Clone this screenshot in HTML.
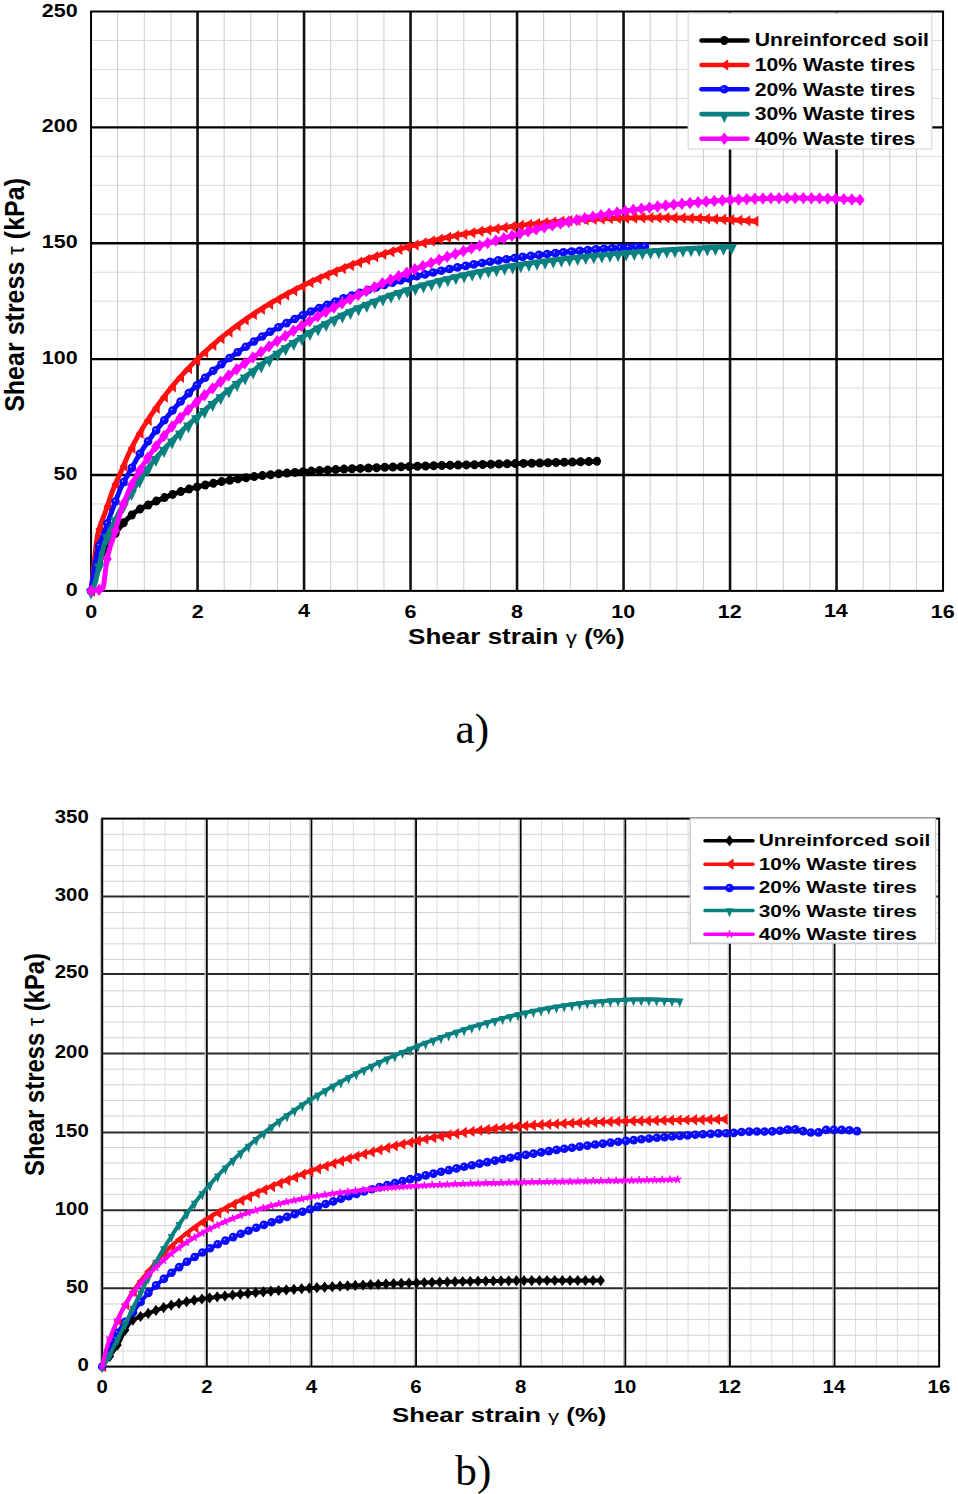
<!DOCTYPE html>
<html><head><meta charset="utf-8"><style>html,body{margin:0;padding:0;background:#fff;}svg{display:block;}</style></head>
<body><svg width="958" height="1494" viewBox="0 0 958 1494">
<rect width="958" height="1494" fill="#fff"/>
<line x1="117.67" y1="11.50" x2="117.67" y2="590.90" stroke="#cdcdcd" stroke-width="1"/>
<line x1="144.30" y1="11.50" x2="144.30" y2="590.90" stroke="#cdcdcd" stroke-width="1"/>
<line x1="170.93" y1="11.50" x2="170.93" y2="590.90" stroke="#cdcdcd" stroke-width="1"/>
<line x1="224.18" y1="11.50" x2="224.18" y2="590.90" stroke="#cdcdcd" stroke-width="1"/>
<line x1="250.80" y1="11.50" x2="250.80" y2="590.90" stroke="#cdcdcd" stroke-width="1"/>
<line x1="277.43" y1="11.50" x2="277.43" y2="590.90" stroke="#cdcdcd" stroke-width="1"/>
<line x1="330.68" y1="11.50" x2="330.68" y2="590.90" stroke="#cdcdcd" stroke-width="1"/>
<line x1="357.30" y1="11.50" x2="357.30" y2="590.90" stroke="#cdcdcd" stroke-width="1"/>
<line x1="383.93" y1="11.50" x2="383.93" y2="590.90" stroke="#cdcdcd" stroke-width="1"/>
<line x1="437.18" y1="11.50" x2="437.18" y2="590.90" stroke="#cdcdcd" stroke-width="1"/>
<line x1="463.80" y1="11.50" x2="463.80" y2="590.90" stroke="#cdcdcd" stroke-width="1"/>
<line x1="490.43" y1="11.50" x2="490.43" y2="590.90" stroke="#cdcdcd" stroke-width="1"/>
<line x1="543.67" y1="11.50" x2="543.67" y2="590.90" stroke="#cdcdcd" stroke-width="1"/>
<line x1="570.30" y1="11.50" x2="570.30" y2="590.90" stroke="#cdcdcd" stroke-width="1"/>
<line x1="596.92" y1="11.50" x2="596.92" y2="590.90" stroke="#cdcdcd" stroke-width="1"/>
<line x1="650.17" y1="11.50" x2="650.17" y2="590.90" stroke="#cdcdcd" stroke-width="1"/>
<line x1="676.80" y1="11.50" x2="676.80" y2="590.90" stroke="#cdcdcd" stroke-width="1"/>
<line x1="703.42" y1="11.50" x2="703.42" y2="590.90" stroke="#cdcdcd" stroke-width="1"/>
<line x1="756.67" y1="11.50" x2="756.67" y2="590.90" stroke="#cdcdcd" stroke-width="1"/>
<line x1="783.30" y1="11.50" x2="783.30" y2="590.90" stroke="#cdcdcd" stroke-width="1"/>
<line x1="809.92" y1="11.50" x2="809.92" y2="590.90" stroke="#cdcdcd" stroke-width="1"/>
<line x1="863.17" y1="11.50" x2="863.17" y2="590.90" stroke="#cdcdcd" stroke-width="1"/>
<line x1="889.80" y1="11.50" x2="889.80" y2="590.90" stroke="#cdcdcd" stroke-width="1"/>
<line x1="916.42" y1="11.50" x2="916.42" y2="590.90" stroke="#cdcdcd" stroke-width="1"/>
<line x1="91.05" y1="561.93" x2="943.05" y2="561.93" stroke="#dadada" stroke-width="1"/>
<line x1="91.05" y1="532.96" x2="943.05" y2="532.96" stroke="#dadada" stroke-width="1"/>
<line x1="91.05" y1="503.99" x2="943.05" y2="503.99" stroke="#dadada" stroke-width="1"/>
<line x1="91.05" y1="446.05" x2="943.05" y2="446.05" stroke="#dadada" stroke-width="1"/>
<line x1="91.05" y1="417.08" x2="943.05" y2="417.08" stroke="#dadada" stroke-width="1"/>
<line x1="91.05" y1="388.11" x2="943.05" y2="388.11" stroke="#dadada" stroke-width="1"/>
<line x1="91.05" y1="330.17" x2="943.05" y2="330.17" stroke="#dadada" stroke-width="1"/>
<line x1="91.05" y1="301.20" x2="943.05" y2="301.20" stroke="#dadada" stroke-width="1"/>
<line x1="91.05" y1="272.23" x2="943.05" y2="272.23" stroke="#dadada" stroke-width="1"/>
<line x1="91.05" y1="214.29" x2="943.05" y2="214.29" stroke="#dadada" stroke-width="1"/>
<line x1="91.05" y1="185.32" x2="943.05" y2="185.32" stroke="#dadada" stroke-width="1"/>
<line x1="91.05" y1="156.35" x2="943.05" y2="156.35" stroke="#dadada" stroke-width="1"/>
<line x1="91.05" y1="98.41" x2="943.05" y2="98.41" stroke="#dadada" stroke-width="1"/>
<line x1="91.05" y1="69.44" x2="943.05" y2="69.44" stroke="#dadada" stroke-width="1"/>
<line x1="91.05" y1="40.47" x2="943.05" y2="40.47" stroke="#dadada" stroke-width="1"/>
<line x1="197.55" y1="11.50" x2="197.55" y2="590.90" stroke="#111" stroke-width="2.6"/>
<line x1="304.05" y1="11.50" x2="304.05" y2="590.90" stroke="#111" stroke-width="2.6"/>
<line x1="410.55" y1="11.50" x2="410.55" y2="590.90" stroke="#111" stroke-width="2.6"/>
<line x1="517.05" y1="11.50" x2="517.05" y2="590.90" stroke="#111" stroke-width="2.6"/>
<line x1="623.55" y1="11.50" x2="623.55" y2="590.90" stroke="#111" stroke-width="2.6"/>
<line x1="730.05" y1="11.50" x2="730.05" y2="590.90" stroke="#111" stroke-width="2.6"/>
<line x1="836.55" y1="11.50" x2="836.55" y2="590.90" stroke="#111" stroke-width="2.6"/>
<line x1="91.05" y1="475.02" x2="943.05" y2="475.02" stroke="#000" stroke-width="2.4"/>
<line x1="91.05" y1="359.14" x2="943.05" y2="359.14" stroke="#000" stroke-width="2.4"/>
<line x1="91.05" y1="243.26" x2="943.05" y2="243.26" stroke="#000" stroke-width="2.4"/>
<line x1="91.05" y1="127.38" x2="943.05" y2="127.38" stroke="#000" stroke-width="2.4"/>
<rect x="91.05" y="11.50" width="852.00" height="579.40" fill="none" stroke="#000" stroke-width="2"/>
<rect x="688.2" y="13.2" width="243.6" height="135.8" fill="#fff" stroke="#dadae2" stroke-width="1.2"/>
<polyline points="91.0,590.9 92.1,586.1 93.2,581.7 94.2,577.5 95.3,573.6 96.4,570.0 97.4,566.8 98.5,563.9 99.6,561.1 100.6,558.6 101.7,556.1 102.8,553.8 103.8,551.6 104.9,549.5 106.0,547.6 107.0,545.7 108.1,544.0 109.2,542.3 110.2,540.8 111.3,539.3 112.3,537.8 113.4,536.3 114.5,534.9 115.5,533.4 116.6,531.9 117.7,530.5 118.7,529.0 119.8,527.6 120.9,526.2 121.9,524.9 123.0,523.5 124.1,522.3 125.1,521.2 126.2,520.1 127.3,519.1 128.3,518.1 129.4,517.1 130.5,516.2 131.5,515.3 132.6,514.4 133.7,513.5 134.7,512.6 135.8,511.8 136.8,511.0 137.9,510.3 139.0,509.7 140.0,509.1 141.1,508.5 142.2,508.0 143.2,507.4 144.3,506.9 145.4,506.4 146.4,505.9 147.5,505.3 148.6,504.8 149.6,504.2 150.7,503.7 151.8,503.2 152.8,502.7 153.9,502.2 154.9,501.7 156.0,501.2 157.1,500.8 158.1,500.3 159.2,499.9 160.3,499.4 161.3,498.9 162.4,498.5 163.5,498.0 164.5,497.6 165.6,497.1 166.7,496.7 167.7,496.3 168.8,495.9 169.9,495.4 170.9,495.0 172.0,494.6 173.1,494.3 174.1,493.9 175.2,493.5 176.2,493.1 177.3,492.8 178.4,492.4 179.4,492.1 180.5,491.7 181.6,491.4 182.6,491.0 183.7,490.7 184.8,490.4 185.8,490.1 186.9,489.7 188.0,489.4 189.0,489.1 190.1,488.8 191.2,488.5 192.2,488.2 193.3,487.9 194.4,487.7 195.4,487.4 196.5,487.1 197.6,486.8 198.6,486.6 199.7,486.3 200.7,486.0 201.8,485.8 202.9,485.5 203.9,485.3 205.0,485.0 206.1,484.8 207.1,484.6 208.2,484.3 209.3,484.1 210.3,483.9 211.4,483.6 212.5,483.4 213.5,483.2 214.6,483.0 215.7,482.8 216.7,482.6 217.8,482.3 218.8,482.1 219.9,481.9 221.0,481.7 222.0,481.5 223.1,481.3 224.2,481.1 225.2,481.0 226.3,480.8 227.4,480.6 228.4,480.4 229.5,480.2 230.6,480.0 231.6,479.9 232.7,479.7 233.8,479.5 234.8,479.3 235.9,479.2 237.0,479.0 238.0,478.9 239.1,478.7 240.2,478.5 241.2,478.4 242.3,478.2 243.3,478.1 244.4,477.9 245.5,477.8 246.5,477.6 247.6,477.5 248.7,477.3 249.7,477.2 250.8,477.0 251.9,476.9 252.9,476.8 254.0,476.6 255.1,476.5 256.1,476.3 257.2,476.2 258.3,476.1 259.3,476.0 260.4,475.8 261.4,475.7 262.5,475.6 263.6,475.5 264.6,475.3 265.7,475.2 266.8,475.1 267.8,475.0 268.9,474.9 270.0,474.7 271.0,474.6 272.1,474.5 273.2,474.4 274.2,474.3 275.3,474.2 276.4,474.1 277.4,474.0 278.5,473.9 279.6,473.8 280.6,473.7 281.7,473.6 282.8,473.5 283.8,473.4 284.9,473.3 285.9,473.2 287.0,473.1 288.1,473.0 289.1,472.9 290.2,472.8 291.3,472.7 292.3,472.6 293.4,472.5 294.5,472.4 295.5,472.3 296.6,472.2 297.7,472.2 298.7,472.1 299.8,472.0 300.9,471.9 301.9,471.8 303.0,471.7 304.1,471.7 305.1,471.6 306.2,471.5 307.2,471.4 308.3,471.3 309.4,471.3 310.4,471.2 311.5,471.1 312.6,471.0 313.6,471.0 314.7,470.9 315.8,470.8 316.8,470.7 317.9,470.7 319.0,470.6 320.0,470.5 321.1,470.5 322.2,470.4 323.2,470.3 324.3,470.3 325.4,470.2 326.4,470.1 327.5,470.1 328.5,470.0 329.6,469.9 330.7,469.9 331.7,469.8 332.8,469.8 333.9,469.7 334.9,469.6 336.0,469.6 337.1,469.5 338.1,469.5 339.2,469.4 340.3,469.3 341.3,469.3 342.4,469.2 343.5,469.2 344.5,469.1 345.6,469.1 346.6,469.0 347.7,469.0 348.8,468.9 349.8,468.8 350.9,468.8 352.0,468.7 353.0,468.7 354.1,468.6 355.2,468.6 356.2,468.5 357.3,468.5 358.4,468.4 359.4,468.4 360.5,468.3 361.6,468.3 362.6,468.2 363.7,468.2 364.8,468.2 365.8,468.1 366.9,468.1 368.0,468.0 369.0,468.0 370.1,467.9 371.1,467.9 372.2,467.8 373.3,467.8 374.3,467.7 375.4,467.7 376.5,467.7 377.5,467.6 378.6,467.6 379.7,467.5 380.7,467.5 381.8,467.5 382.9,467.4 383.9,467.4 385.0,467.3 386.1,467.3 387.1,467.3 388.2,467.2 389.3,467.2 390.3,467.1 391.4,467.1 392.4,467.1 393.5,467.0 394.6,467.0 395.6,466.9 396.7,466.9 397.8,466.9 398.8,466.8 399.9,466.8 401.0,466.8 402.0,466.7 403.1,466.7 404.2,466.7 405.2,466.6 406.3,466.6 407.4,466.6 408.4,466.5 409.5,466.5 410.6,466.5 411.6,466.4 412.7,466.4 413.7,466.3 414.8,466.3 415.9,466.3 416.9,466.2 418.0,466.2 419.1,466.2 420.1,466.2 421.2,466.1 422.3,466.1 423.3,466.1 424.4,466.0 425.5,466.0 426.5,466.0 427.6,465.9 428.7,465.9 429.7,465.9 430.8,465.8 431.9,465.8 432.9,465.8 434.0,465.7 435.0,465.7 436.1,465.7 437.2,465.7 438.2,465.6 439.3,465.6 440.4,465.6 441.4,465.5 442.5,465.5 443.6,465.5 444.6,465.4 445.7,465.4 446.8,465.4 447.8,465.4 448.9,465.3 450.0,465.3 451.0,465.3 452.1,465.2 453.1,465.2 454.2,465.2 455.3,465.2 456.3,465.1 457.4,465.1 458.5,465.1 459.5,465.0 460.6,465.0 461.7,465.0 462.7,465.0 463.8,464.9 464.9,464.9 465.9,464.9 467.0,464.9 468.1,464.8 469.1,464.8 470.2,464.8 471.3,464.7 472.3,464.7 473.4,464.7 474.5,464.7 475.5,464.6 476.6,464.6 477.6,464.6 478.7,464.6 479.8,464.5 480.8,464.5 481.9,464.5 483.0,464.4 484.0,464.4 485.1,464.4 486.2,464.4 487.2,464.3 488.3,464.3 489.4,464.3 490.4,464.3 491.5,464.2 492.6,464.2 493.6,464.2 494.7,464.1 495.8,464.1 496.8,464.1 497.9,464.1 498.9,464.0 500.0,464.0 501.1,464.0 502.1,464.0 503.2,463.9 504.3,463.9 505.3,463.9 506.4,463.9 507.5,463.8 508.5,463.8 509.6,463.8 510.7,463.7 511.7,463.7 512.8,463.7 513.9,463.7 514.9,463.6 516.0,463.6 517.0,463.6 518.1,463.6 519.2,463.5 520.2,463.5 521.3,463.5 522.4,463.4 523.4,463.4 524.5,463.4 525.6,463.4 526.6,463.3 527.7,463.3 528.8,463.3 529.8,463.2 530.9,463.2 532.0,463.2 533.0,463.2 534.1,463.1 535.2,463.1 536.2,463.1 537.3,463.1 538.4,463.0 539.4,463.0 540.5,463.0 541.5,462.9 542.6,462.9 543.7,462.9 544.7,462.9 545.8,462.8 546.9,462.8 547.9,462.8 549.0,462.7 550.1,462.7 551.1,462.7 552.2,462.6 553.3,462.6 554.3,462.6 555.4,462.6 556.5,462.5 557.5,462.5 558.6,462.5 559.6,462.4 560.7,462.4 561.8,462.4 562.8,462.4 563.9,462.3 565.0,462.3 566.0,462.3 567.1,462.2 568.2,462.2 569.2,462.2 570.3,462.1 571.4,462.1 572.4,462.1 573.5,462.0 574.6,462.0 575.6,462.0 576.7,461.9 577.8,461.9 578.8,461.9 579.9,461.9 581.0,461.8 582.0,461.8 583.1,461.8 584.1,461.7 585.2,461.7 586.3,461.7 587.3,461.6 588.4,461.6 589.5,461.6 590.5,461.5 591.6,461.5 592.7,461.5 593.7,461.4 594.8,461.4 595.9,461.4 596.9,461.3" fill="none" stroke="#000000" stroke-width="5.0" stroke-linejoin="round" stroke-linecap="round"/>
<g fill="#000000">
<ellipse cx="91.0" cy="590.9" rx="4.10" ry="4.50"/>
<ellipse cx="99.2" cy="562.1" rx="4.10" ry="4.50"/>
<ellipse cx="107.4" cy="545.1" rx="4.10" ry="4.50"/>
<ellipse cx="115.5" cy="533.4" rx="4.10" ry="4.50"/>
<ellipse cx="123.7" cy="522.8" rx="4.10" ry="4.50"/>
<ellipse cx="131.8" cy="515.0" rx="4.10" ry="4.50"/>
<ellipse cx="140.0" cy="509.1" rx="4.10" ry="4.50"/>
<ellipse cx="148.2" cy="505.0" rx="4.10" ry="4.50"/>
<ellipse cx="156.3" cy="501.1" rx="4.10" ry="4.50"/>
<ellipse cx="164.5" cy="497.6" rx="4.10" ry="4.50"/>
<ellipse cx="172.6" cy="494.4" rx="4.10" ry="4.50"/>
<ellipse cx="180.8" cy="491.6" rx="4.10" ry="4.50"/>
<ellipse cx="189.0" cy="489.1" rx="4.10" ry="4.50"/>
<ellipse cx="197.1" cy="486.9" rx="4.10" ry="4.50"/>
<ellipse cx="205.3" cy="485.0" rx="4.10" ry="4.50"/>
<ellipse cx="213.4" cy="483.2" rx="4.10" ry="4.50"/>
<ellipse cx="221.6" cy="481.6" rx="4.10" ry="4.50"/>
<ellipse cx="229.8" cy="480.2" rx="4.10" ry="4.50"/>
<ellipse cx="237.9" cy="478.9" rx="4.10" ry="4.50"/>
<ellipse cx="246.1" cy="477.7" rx="4.10" ry="4.50"/>
<ellipse cx="254.2" cy="476.6" rx="4.10" ry="4.50"/>
<ellipse cx="262.4" cy="475.6" rx="4.10" ry="4.50"/>
<ellipse cx="270.6" cy="474.7" rx="4.10" ry="4.50"/>
<ellipse cx="278.7" cy="473.8" rx="4.10" ry="4.50"/>
<ellipse cx="286.9" cy="473.1" rx="4.10" ry="4.50"/>
<ellipse cx="295.0" cy="472.4" rx="4.10" ry="4.50"/>
<ellipse cx="303.2" cy="471.7" rx="4.10" ry="4.50"/>
<ellipse cx="311.4" cy="471.1" rx="4.10" ry="4.50"/>
<ellipse cx="319.5" cy="470.6" rx="4.10" ry="4.50"/>
<ellipse cx="327.7" cy="470.1" rx="4.10" ry="4.50"/>
<ellipse cx="335.8" cy="469.6" rx="4.10" ry="4.50"/>
<ellipse cx="344.0" cy="469.1" rx="4.10" ry="4.50"/>
<ellipse cx="352.1" cy="468.7" rx="4.10" ry="4.50"/>
<ellipse cx="360.3" cy="468.4" rx="4.10" ry="4.50"/>
<ellipse cx="368.5" cy="468.0" rx="4.10" ry="4.50"/>
<ellipse cx="376.6" cy="467.7" rx="4.10" ry="4.50"/>
<ellipse cx="384.8" cy="467.3" rx="4.10" ry="4.50"/>
<ellipse cx="392.9" cy="467.0" rx="4.10" ry="4.50"/>
<ellipse cx="401.1" cy="466.8" rx="4.10" ry="4.50"/>
<ellipse cx="409.3" cy="466.5" rx="4.10" ry="4.50"/>
<ellipse cx="417.4" cy="466.2" rx="4.10" ry="4.50"/>
<ellipse cx="425.6" cy="466.0" rx="4.10" ry="4.50"/>
<ellipse cx="433.7" cy="465.8" rx="4.10" ry="4.50"/>
<ellipse cx="441.9" cy="465.5" rx="4.10" ry="4.50"/>
<ellipse cx="450.1" cy="465.3" rx="4.10" ry="4.50"/>
<ellipse cx="458.2" cy="465.1" rx="4.10" ry="4.50"/>
<ellipse cx="466.4" cy="464.9" rx="4.10" ry="4.50"/>
<ellipse cx="474.5" cy="464.7" rx="4.10" ry="4.50"/>
<ellipse cx="482.7" cy="464.5" rx="4.10" ry="4.50"/>
<ellipse cx="490.9" cy="464.2" rx="4.10" ry="4.50"/>
<ellipse cx="499.0" cy="464.0" rx="4.10" ry="4.50"/>
<ellipse cx="507.2" cy="463.8" rx="4.10" ry="4.50"/>
<ellipse cx="515.3" cy="463.6" rx="4.10" ry="4.50"/>
<ellipse cx="523.5" cy="463.4" rx="4.10" ry="4.50"/>
<ellipse cx="531.7" cy="463.2" rx="4.10" ry="4.50"/>
<ellipse cx="539.8" cy="463.0" rx="4.10" ry="4.50"/>
<ellipse cx="548.0" cy="462.8" rx="4.10" ry="4.50"/>
<ellipse cx="556.1" cy="462.5" rx="4.10" ry="4.50"/>
<ellipse cx="564.3" cy="462.3" rx="4.10" ry="4.50"/>
<ellipse cx="572.4" cy="462.1" rx="4.10" ry="4.50"/>
<ellipse cx="580.6" cy="461.8" rx="4.10" ry="4.50"/>
<ellipse cx="588.8" cy="461.6" rx="4.10" ry="4.50"/>
<ellipse cx="596.9" cy="461.3" rx="4.10" ry="4.50"/>
</g>
<polyline points="91.0,590.9 92.1,581.7 93.2,572.4 94.2,563.1 95.3,552.7 96.4,542.6 97.4,536.0 98.5,531.4 99.6,527.6 100.6,524.3 101.7,521.4 102.8,518.7 103.8,516.1 104.9,513.2 106.0,510.1 107.0,506.9 108.1,503.7 109.2,500.6 110.2,497.4 111.3,494.4 112.3,491.5 113.4,488.6 114.5,486.0 115.5,483.5 116.6,481.2 117.7,478.9 118.7,476.6 119.8,474.4 120.9,472.0 121.9,469.6 123.0,467.1 124.1,464.5 125.1,462.0 126.2,459.5 127.3,457.0 128.3,454.6 129.4,452.4 130.5,450.2 131.5,448.1 132.6,446.0 133.7,443.9 134.7,441.9 135.8,440.0 136.8,438.0 137.9,436.1 139.0,434.3 140.0,432.5 141.1,430.7 142.2,428.9 143.2,427.2 144.3,425.5 145.4,423.8 146.4,422.1 147.5,420.5 148.6,418.8 149.6,417.2 150.7,415.6 151.8,414.0 152.8,412.4 153.9,410.9 154.9,409.3 156.0,407.8 157.1,406.3 158.1,404.8 159.2,403.3 160.3,401.8 161.3,400.3 162.4,398.9 163.5,397.5 164.5,396.1 165.6,394.7 166.7,393.3 167.7,392.0 168.8,390.6 169.9,389.3 170.9,388.0 172.0,386.7 173.1,385.4 174.1,384.1 175.2,382.9 176.2,381.6 177.3,380.4 178.4,379.2 179.4,378.0 180.5,376.8 181.6,375.6 182.6,374.4 183.7,373.2 184.8,372.1 185.8,370.9 186.9,369.8 188.0,368.7 189.0,367.5 190.1,366.4 191.2,365.3 192.2,364.3 193.3,363.2 194.4,362.1 195.4,361.0 196.5,360.0 197.6,358.9 198.6,357.9 199.7,356.9 200.7,355.9 201.8,354.9 202.9,353.9 203.9,352.9 205.0,351.9 206.1,350.9 207.1,349.9 208.2,349.0 209.3,348.0 210.3,347.1 211.4,346.1 212.5,345.2 213.5,344.3 214.6,343.4 215.7,342.5 216.7,341.6 217.8,340.7 218.8,339.8 219.9,338.9 221.0,338.0 222.0,337.1 223.1,336.3 224.2,335.4 225.2,334.6 226.3,333.7 227.4,332.9 228.4,332.0 229.5,331.2 230.6,330.4 231.6,329.6 232.7,328.8 233.8,328.0 234.8,327.2 235.9,326.4 237.0,325.6 238.0,324.8 239.1,324.0 240.2,323.3 241.2,322.5 242.3,321.7 243.3,321.0 244.4,320.2 245.5,319.5 246.5,318.7 247.6,318.0 248.7,317.3 249.7,316.6 250.8,315.8 251.9,315.1 252.9,314.4 254.0,313.7 255.1,313.0 256.1,312.3 257.2,311.6 258.3,310.9 259.3,310.2 260.4,309.6 261.4,308.9 262.5,308.2 263.6,307.6 264.6,306.9 265.7,306.2 266.8,305.6 267.8,304.9 268.9,304.3 270.0,303.7 271.0,303.0 272.1,302.4 273.2,301.8 274.2,301.1 275.3,300.5 276.4,299.9 277.4,299.3 278.5,298.7 279.6,298.1 280.6,297.5 281.7,296.9 282.8,296.3 283.8,295.7 284.9,295.1 285.9,294.5 287.0,294.0 288.1,293.4 289.1,292.8 290.2,292.2 291.3,291.7 292.3,291.1 293.4,290.6 294.5,290.0 295.5,289.5 296.6,288.9 297.7,288.4 298.7,287.8 299.8,287.3 300.9,286.8 301.9,286.2 303.0,285.7 304.1,285.2 305.1,284.7 306.2,284.1 307.2,283.6 308.3,283.1 309.4,282.6 310.4,282.1 311.5,281.6 312.6,281.1 313.6,280.6 314.7,280.1 315.8,279.6 316.8,279.1 317.9,278.7 319.0,278.2 320.0,277.7 321.1,277.2 322.2,276.7 323.2,276.3 324.3,275.8 325.4,275.3 326.4,274.9 327.5,274.4 328.5,274.0 329.6,273.5 330.7,273.1 331.7,272.6 332.8,272.2 333.9,271.7 334.9,271.3 336.0,270.9 337.1,270.4 338.1,270.0 339.2,269.6 340.3,269.1 341.3,268.7 342.4,268.3 343.5,267.9 344.5,267.5 345.6,267.1 346.6,266.6 347.7,266.2 348.8,265.8 349.8,265.4 350.9,265.0 352.0,264.6 353.0,264.2 354.1,263.8 355.2,263.4 356.2,263.1 357.3,262.7 358.4,262.3 359.4,261.9 360.5,261.5 361.6,261.1 362.6,260.8 363.7,260.4 364.8,260.0 365.8,259.7 366.9,259.3 368.0,258.9 369.0,258.6 370.1,258.2 371.1,257.8 372.2,257.5 373.3,257.1 374.3,256.8 375.4,256.4 376.5,256.1 377.5,255.7 378.6,255.4 379.7,255.1 380.7,254.7 381.8,254.4 382.9,254.1 383.9,253.7 385.0,253.4 386.1,253.1 387.1,252.7 388.2,252.4 389.3,252.1 390.3,251.8 391.4,251.5 392.4,251.1 393.5,250.8 394.6,250.5 395.6,250.2 396.7,249.9 397.8,249.6 398.8,249.3 399.9,249.0 401.0,248.7 402.0,248.4 403.1,248.1 404.2,247.8 405.2,247.5 406.3,247.2 407.4,246.9 408.4,246.6 409.5,246.4 410.6,246.1 411.6,245.8 412.7,245.5 413.7,245.2 414.8,245.0 415.9,244.7 416.9,244.4 418.0,244.1 419.1,243.9 420.1,243.6 421.2,243.3 422.3,243.1 423.3,242.8 424.4,242.6 425.5,242.3 426.5,242.0 427.6,241.8 428.7,241.5 429.7,241.3 430.8,241.0 431.9,240.8 432.9,240.5 434.0,240.3 435.0,240.0 436.1,239.8 437.2,239.6 438.2,239.3 439.3,239.1 440.4,238.8 441.4,238.6 442.5,238.4 443.6,238.2 444.6,237.9 445.7,237.7 446.8,237.5 447.8,237.2 448.9,237.0 450.0,236.8 451.0,236.6 452.1,236.4 453.1,236.2 454.2,235.9 455.3,235.7 456.3,235.5 457.4,235.3 458.5,235.1 459.5,234.9 460.6,234.7 461.7,234.5 462.7,234.3 463.8,234.1 464.9,233.9 465.9,233.7 467.0,233.5 468.1,233.3 469.1,233.1 470.2,232.9 471.3,232.7 472.3,232.5 473.4,232.3 474.5,232.1 475.5,232.0 476.6,231.8 477.6,231.6 478.7,231.4 479.8,231.2 480.8,231.1 481.9,230.9 483.0,230.7 484.0,230.5 485.1,230.4 486.2,230.2 487.2,230.0 488.3,229.8 489.4,229.7 490.4,229.5 491.5,229.3 492.6,229.2 493.6,229.0 494.7,228.9 495.8,228.7 496.8,228.5 497.9,228.4 498.9,228.2 500.0,228.1 501.1,227.9 502.1,227.8 503.2,227.6 504.3,227.5 505.3,227.3 506.4,227.2 507.5,227.0 508.5,226.9 509.6,226.8 510.7,226.6 511.7,226.5 512.8,226.3 513.9,226.2 514.9,226.1 516.0,225.9 517.0,225.8 518.1,225.7 519.2,225.5 520.2,225.4 521.3,225.3 522.4,225.1 523.4,225.0 524.5,224.9 525.6,224.8 526.6,224.6 527.7,224.5 528.8,224.4 529.8,224.3 530.9,224.2 532.0,224.1 533.0,223.9 534.1,223.8 535.2,223.7 536.2,223.6 537.3,223.5 538.4,223.4 539.4,223.3 540.5,223.2 541.5,223.1 542.6,223.0 543.7,222.8 544.7,222.7 545.8,222.6 546.9,222.5 547.9,222.4 549.0,222.3 550.1,222.2 551.1,222.2 552.2,222.1 553.3,222.0 554.3,221.9 555.4,221.8 556.5,221.7 557.5,221.6 558.6,221.5 559.6,221.4 560.7,221.3 561.8,221.3 562.8,221.2 563.9,221.1 565.0,221.0 566.0,220.9 567.1,220.8 568.2,220.8 569.2,220.7 570.3,220.6 571.4,220.5 572.4,220.5 573.5,220.4 574.6,220.3 575.6,220.3 576.7,220.2 577.8,220.1 578.8,220.0 579.9,220.0 581.0,219.9 582.0,219.8 583.1,219.8 584.1,219.7 585.2,219.7 586.3,219.6 587.3,219.5 588.4,219.5 589.5,219.4 590.5,219.4 591.6,219.3 592.7,219.3 593.7,219.2 594.8,219.2 595.9,219.1 596.9,219.1 598.0,219.0 599.1,219.0 600.1,218.9 601.2,218.9 602.2,218.8 603.3,218.8 604.4,218.7 605.4,218.7 606.5,218.6 607.6,218.6 608.6,218.6 609.7,218.5 610.8,218.5 611.8,218.4 612.9,218.4 614.0,218.4 615.0,218.3 616.1,218.3 617.2,218.3 618.2,218.2 619.3,218.2 620.4,218.2 621.4,218.2 622.5,218.1 623.5,218.1 624.6,218.1 625.7,218.1 626.7,218.0 627.8,218.0 628.9,218.0 629.9,218.0 631.0,217.9 632.1,217.9 633.1,217.9 634.2,217.9 635.3,217.9 636.3,217.9 637.4,217.8 638.5,217.8 639.5,217.8 640.6,217.8 641.7,217.8 642.7,217.8 643.8,217.8 644.9,217.8 645.9,217.8 647.0,217.7 648.0,217.7 649.1,217.7 650.2,217.7 651.2,217.7 652.3,217.7 653.4,217.7 654.4,217.7 655.5,217.7 656.6,217.7 657.6,217.7 658.7,217.7 659.8,217.7 660.8,217.7 661.9,217.7 663.0,217.7 664.0,217.8 665.1,217.8 666.1,217.8 667.2,217.8 668.3,217.8 669.3,217.8 670.4,217.8 671.5,217.8 672.5,217.8 673.6,217.9 674.7,217.9 675.7,217.9 676.8,217.9 677.9,217.9 678.9,217.9 680.0,218.0 681.1,218.0 682.1,218.0 683.2,218.0 684.3,218.0 685.3,218.1 686.4,218.1 687.5,218.1 688.5,218.1 689.6,218.2 690.6,218.2 691.7,218.2 692.8,218.2 693.8,218.3 694.9,218.3 696.0,218.3 697.0,218.4 698.1,218.4 699.2,218.4 700.2,218.5 701.3,218.5 702.4,218.5 703.4,218.6 704.5,218.6 705.6,218.7 706.6,218.7 707.7,218.7 708.7,218.8 709.8,218.8 710.9,218.9 711.9,218.9 713.0,218.9 714.1,219.0 715.1,219.0 716.2,219.1 717.3,219.1 718.3,219.2 719.4,219.2 720.5,219.3 721.5,219.3 722.6,219.4 723.7,219.4 724.7,219.5 725.8,219.5 726.9,219.6 727.9,219.6 729.0,219.7 730.0,219.7 731.1,219.8 732.2,219.9 733.2,219.9 734.3,220.0 735.4,220.0 736.4,220.1 737.5,220.2 738.6,220.2 739.6,220.3 740.7,220.3 741.8,220.4 742.8,220.5 743.9,220.5 745.0,220.6 746.0,220.7 747.1,220.7 748.2,220.8 749.2,220.9 750.3,220.9 751.4,221.0 752.4,221.1 753.5,221.2 754.5,221.2" fill="none" stroke="#ff1010" stroke-width="5.0" stroke-linejoin="round" stroke-linecap="round"/>
<g fill="#ff1010">
<path d="M87.1 590.9L95.0 585.1L95.0 596.7Z"/>
<path d="M95.2 529.1L103.0 523.3L103.0 534.9Z"/>
<path d="M103.3 506.3L111.1 500.5L111.1 512.1Z"/>
<path d="M111.4 484.0L119.2 478.2L119.2 489.8Z"/>
<path d="M119.5 466.1L127.3 460.3L127.3 471.9Z"/>
<path d="M127.6 448.1L135.4 442.3L135.4 453.9Z"/>
<path d="M135.7 433.2L143.5 427.4L143.5 439.0Z"/>
<path d="M143.8 420.2L151.6 414.4L151.6 426.0Z"/>
<path d="M151.9 408.1L159.7 402.3L159.7 413.9Z"/>
<path d="M160.0 396.9L167.8 391.1L167.8 402.7Z"/>
<path d="M168.1 386.7L175.9 380.9L175.9 392.5Z"/>
<path d="M176.2 377.3L184.0 371.5L184.0 383.1Z"/>
<path d="M184.2 368.5L192.0 362.7L192.0 374.3Z"/>
<path d="M192.3 360.2L200.1 354.4L200.1 366.0Z"/>
<path d="M200.4 352.5L208.2 346.7L208.2 358.3Z"/>
<path d="M208.5 345.2L216.3 339.4L216.3 351.0Z"/>
<path d="M216.6 338.4L224.4 332.6L224.4 344.2Z"/>
<path d="M224.7 331.9L232.5 326.1L232.5 337.7Z"/>
<path d="M232.8 325.8L240.6 320.0L240.6 331.6Z"/>
<path d="M240.9 320.0L248.7 314.2L248.7 325.8Z"/>
<path d="M249.0 314.4L256.8 308.6L256.8 320.2Z"/>
<path d="M257.1 309.2L264.9 303.4L264.9 315.0Z"/>
<path d="M265.2 304.2L273.0 298.4L273.0 310.0Z"/>
<path d="M273.3 299.5L281.1 293.7L281.1 305.3Z"/>
<path d="M281.3 294.9L289.1 289.1L289.1 300.7Z"/>
<path d="M289.4 290.6L297.2 284.8L297.2 296.4Z"/>
<path d="M297.5 286.5L305.3 280.7L305.3 292.3Z"/>
<path d="M305.6 282.5L313.4 276.7L313.4 288.3Z"/>
<path d="M313.7 278.8L321.5 273.0L321.5 284.6Z"/>
<path d="M321.8 275.2L329.6 269.4L329.6 281.0Z"/>
<path d="M329.9 271.8L337.7 266.0L337.7 277.6Z"/>
<path d="M338.0 268.5L345.8 262.7L345.8 274.3Z"/>
<path d="M346.1 265.4L353.9 259.6L353.9 271.2Z"/>
<path d="M354.2 262.4L362.0 256.6L362.0 268.2Z"/>
<path d="M362.3 259.5L370.1 253.7L370.1 265.3Z"/>
<path d="M370.3 256.8L378.1 251.0L378.1 262.6Z"/>
<path d="M378.4 254.2L386.2 248.4L386.2 260.0Z"/>
<path d="M386.5 251.7L394.3 245.9L394.3 257.5Z"/>
<path d="M394.6 249.4L402.4 243.6L402.4 255.2Z"/>
<path d="M402.7 247.1L410.5 241.3L410.5 252.9Z"/>
<path d="M410.8 245.0L418.6 239.2L418.6 250.8Z"/>
<path d="M418.9 242.9L426.7 237.1L426.7 248.7Z"/>
<path d="M427.0 241.0L434.8 235.2L434.8 246.8Z"/>
<path d="M435.1 239.2L442.9 233.4L442.9 245.0Z"/>
<path d="M443.2 237.4L451.0 231.6L451.0 243.2Z"/>
<path d="M451.3 235.7L459.1 229.9L459.1 241.5Z"/>
<path d="M459.4 234.2L467.2 228.4L467.2 240.0Z"/>
<path d="M467.4 232.7L475.2 226.9L475.2 238.5Z"/>
<path d="M475.5 231.3L483.3 225.5L483.3 237.1Z"/>
<path d="M483.6 230.0L491.4 224.2L491.4 235.8Z"/>
<path d="M491.7 228.7L499.5 222.9L499.5 234.5Z"/>
<path d="M499.8 227.6L507.6 221.8L507.6 233.4Z"/>
<path d="M507.9 226.5L515.7 220.7L515.7 232.3Z"/>
<path d="M516.0 225.4L523.8 219.6L523.8 231.2Z"/>
<path d="M524.1 224.5L531.9 218.7L531.9 230.3Z"/>
<path d="M532.2 223.6L540.0 217.8L540.0 229.4Z"/>
<path d="M540.3 222.8L548.1 217.0L548.1 228.6Z"/>
<path d="M548.4 222.1L556.2 216.3L556.2 227.9Z"/>
<path d="M556.5 221.4L564.3 215.6L564.3 227.2Z"/>
<path d="M564.5 220.8L572.3 215.0L572.3 226.6Z"/>
<path d="M572.6 220.2L580.4 214.4L580.4 226.0Z"/>
<path d="M580.7 219.7L588.5 213.9L588.5 225.5Z"/>
<path d="M588.8 219.3L596.6 213.5L596.6 225.1Z"/>
<path d="M596.9 218.9L604.7 213.1L604.7 224.7Z"/>
<path d="M605.0 218.5L612.8 212.7L612.8 224.3Z"/>
<path d="M613.1 218.3L620.9 212.5L620.9 224.1Z"/>
<path d="M621.2 218.1L629.0 212.3L629.0 223.9Z"/>
<path d="M629.3 217.9L637.1 212.1L637.1 223.7Z"/>
<path d="M637.4 217.8L645.2 212.0L645.2 223.6Z"/>
<path d="M645.5 217.7L653.3 211.9L653.3 223.5Z"/>
<path d="M653.5 217.7L661.3 211.9L661.3 223.5Z"/>
<path d="M661.6 217.8L669.4 212.0L669.4 223.6Z"/>
<path d="M669.7 217.9L677.5 212.1L677.5 223.7Z"/>
<path d="M677.8 218.0L685.6 212.2L685.6 223.8Z"/>
<path d="M685.9 218.2L693.7 212.4L693.7 224.0Z"/>
<path d="M694.0 218.4L701.8 212.6L701.8 224.2Z"/>
<path d="M702.1 218.7L709.9 212.9L709.9 224.5Z"/>
<path d="M710.2 219.0L718.0 213.2L718.0 224.8Z"/>
<path d="M718.3 219.4L726.1 213.6L726.1 225.2Z"/>
<path d="M726.4 219.8L734.2 214.0L734.2 225.6Z"/>
<path d="M734.5 220.2L742.3 214.4L742.3 226.0Z"/>
<path d="M742.6 220.7L750.4 214.9L750.4 226.5Z"/>
<path d="M750.6 221.2L758.4 215.4L758.4 227.0Z"/>
</g>
<polyline points="91.0,590.9 92.1,583.0 93.2,575.4 94.2,568.3 95.3,561.9 96.4,556.4 97.4,551.9 98.5,547.9 99.6,544.5 100.6,541.4 101.7,538.5 102.8,535.7 103.8,533.0 104.9,530.3 106.0,527.4 107.0,524.4 108.1,521.4 109.2,518.5 110.2,515.5 111.3,512.6 112.3,509.8 113.4,506.9 114.5,504.1 115.5,501.3 116.6,498.5 117.7,495.7 118.7,493.0 119.8,490.3 120.9,487.8 121.9,485.4 123.0,483.2 124.1,481.3 125.1,479.4 126.2,477.7 127.3,475.9 128.3,474.1 129.4,472.2 130.5,470.3 131.5,468.4 132.6,466.4 133.7,464.5 134.7,462.7 135.8,460.8 136.8,458.9 137.9,457.1 139.0,455.4 140.0,453.6 141.1,451.9 142.2,450.2 143.2,448.5 144.3,446.9 145.4,445.3 146.4,443.7 147.5,442.2 148.6,440.6 149.6,439.1 150.7,437.7 151.8,436.2 152.8,434.8 153.9,433.4 154.9,432.0 156.0,430.6 157.1,429.2 158.1,427.9 159.2,426.6 160.3,425.3 161.3,424.0 162.4,422.6 163.5,421.3 164.5,420.0 165.6,418.7 166.7,417.4 167.7,416.1 168.8,414.8 169.9,413.6 170.9,412.3 172.0,411.1 173.1,409.9 174.1,408.7 175.2,407.5 176.2,406.3 177.3,405.1 178.4,404.0 179.4,402.8 180.5,401.6 181.6,400.5 182.6,399.4 183.7,398.3 184.8,397.2 185.8,396.1 186.9,395.0 188.0,393.9 189.0,392.8 190.1,391.8 191.2,390.7 192.2,389.7 193.3,388.7 194.4,387.6 195.4,386.6 196.5,385.6 197.6,384.6 198.6,383.6 199.7,382.6 200.7,381.7 201.8,380.7 202.9,379.7 203.9,378.8 205.0,377.8 206.1,376.9 207.1,376.0 208.2,375.0 209.3,374.1 210.3,373.2 211.4,372.3 212.5,371.4 213.5,370.5 214.6,369.7 215.7,368.8 216.7,367.9 217.8,367.1 218.8,366.2 219.9,365.4 221.0,364.5 222.0,363.7 223.1,362.9 224.2,362.0 225.2,361.2 226.3,360.4 227.4,359.6 228.4,358.8 229.5,358.0 230.6,357.3 231.6,356.5 232.7,355.7 233.8,354.9 234.8,354.2 235.9,353.4 237.0,352.7 238.0,351.9 239.1,351.2 240.2,350.5 241.2,349.7 242.3,349.0 243.3,348.3 244.4,347.6 245.5,346.9 246.5,346.2 247.6,345.5 248.7,344.8 249.7,344.1 250.8,343.4 251.9,342.8 252.9,342.1 254.0,341.4 255.1,340.8 256.1,340.1 257.2,339.4 258.3,338.8 259.3,338.2 260.4,337.5 261.4,336.9 262.5,336.2 263.6,335.6 264.6,335.0 265.7,334.4 266.8,333.8 267.8,333.2 268.9,332.5 270.0,331.9 271.0,331.3 272.1,330.8 273.2,330.2 274.2,329.6 275.3,329.0 276.4,328.4 277.4,327.8 278.5,327.3 279.6,326.7 280.6,326.1 281.7,325.6 282.8,325.0 283.8,324.5 284.9,323.9 285.9,323.4 287.0,322.8 288.1,322.3 289.1,321.8 290.2,321.2 291.3,320.7 292.3,320.2 293.4,319.6 294.5,319.1 295.5,318.6 296.6,318.1 297.7,317.6 298.7,317.1 299.8,316.6 300.9,316.1 301.9,315.6 303.0,315.1 304.1,314.6 305.1,314.1 306.2,313.6 307.2,313.2 308.3,312.7 309.4,312.2 310.4,311.7 311.5,311.3 312.6,310.8 313.6,310.3 314.7,309.9 315.8,309.4 316.8,309.0 317.9,308.5 319.0,308.1 320.0,307.6 321.1,307.2 322.2,306.7 323.2,306.3 324.3,305.8 325.4,305.4 326.4,305.0 327.5,304.6 328.5,304.1 329.6,303.7 330.7,303.3 331.7,302.9 332.8,302.5 333.9,302.0 334.9,301.6 336.0,301.2 337.1,300.8 338.1,300.4 339.2,300.0 340.3,299.6 341.3,299.2 342.4,298.8 343.5,298.4 344.5,298.0 345.6,297.7 346.6,297.3 347.7,296.9 348.8,296.5 349.8,296.1 350.9,295.8 352.0,295.4 353.0,295.0 354.1,294.6 355.2,294.3 356.2,293.9 357.3,293.5 358.4,293.2 359.4,292.8 360.5,292.5 361.6,292.1 362.6,291.8 363.7,291.4 364.8,291.1 365.8,290.7 366.9,290.4 368.0,290.0 369.0,289.7 370.1,289.4 371.1,289.0 372.2,288.7 373.3,288.4 374.3,288.0 375.4,287.7 376.5,287.4 377.5,287.0 378.6,286.7 379.7,286.4 380.7,286.1 381.8,285.8 382.9,285.5 383.9,285.1 385.0,284.8 386.1,284.5 387.1,284.2 388.2,283.9 389.3,283.6 390.3,283.3 391.4,283.0 392.4,282.7 393.5,282.4 394.6,282.1 395.6,281.8 396.7,281.5 397.8,281.2 398.8,280.9 399.9,280.7 401.0,280.4 402.0,280.1 403.1,279.8 404.2,279.5 405.2,279.2 406.3,279.0 407.4,278.7 408.4,278.4 409.5,278.2 410.6,277.9 411.6,277.6 412.7,277.3 413.7,277.1 414.8,276.8 415.9,276.6 416.9,276.3 418.0,276.0 419.1,275.8 420.1,275.5 421.2,275.3 422.3,275.0 423.3,274.8 424.4,274.5 425.5,274.3 426.5,274.0 427.6,273.8 428.7,273.5 429.7,273.3 430.8,273.0 431.9,272.8 432.9,272.6 434.0,272.3 435.0,272.1 436.1,271.9 437.2,271.6 438.2,271.4 439.3,271.2 440.4,270.9 441.4,270.7 442.5,270.5 443.6,270.2 444.6,270.0 445.7,269.8 446.8,269.6 447.8,269.4 448.9,269.1 450.0,268.9 451.0,268.7 452.1,268.5 453.1,268.3 454.2,268.1 455.3,267.9 456.3,267.7 457.4,267.4 458.5,267.2 459.5,267.0 460.6,266.8 461.7,266.6 462.7,266.4 463.8,266.2 464.9,266.0 465.9,265.8 467.0,265.6 468.1,265.4 469.1,265.2 470.2,265.0 471.3,264.9 472.3,264.7 473.4,264.5 474.5,264.3 475.5,264.1 476.6,263.9 477.6,263.7 478.7,263.5 479.8,263.4 480.8,263.2 481.9,263.0 483.0,262.8 484.0,262.6 485.1,262.5 486.2,262.3 487.2,262.1 488.3,261.9 489.4,261.8 490.4,261.6 491.5,261.4 492.6,261.3 493.6,261.1 494.7,260.9 495.8,260.8 496.8,260.6 497.9,260.4 498.9,260.3 500.0,260.1 501.1,260.0 502.1,259.8 503.2,259.6 504.3,259.5 505.3,259.3 506.4,259.2 507.5,259.0 508.5,258.9 509.6,258.7 510.7,258.6 511.7,258.4 512.8,258.3 513.9,258.1 514.9,258.0 516.0,257.8 517.0,257.7 518.1,257.5 519.2,257.4 520.2,257.2 521.3,257.1 522.4,257.0 523.4,256.8 524.5,256.7 525.6,256.5 526.6,256.4 527.7,256.3 528.8,256.1 529.8,256.0 530.9,255.9 532.0,255.7 533.0,255.6 534.1,255.5 535.2,255.4 536.2,255.2 537.3,255.1 538.4,255.0 539.4,254.8 540.5,254.7 541.5,254.6 542.6,254.5 543.7,254.4 544.7,254.2 545.8,254.1 546.9,254.0 547.9,253.9 549.0,253.8 550.1,253.6 551.1,253.5 552.2,253.4 553.3,253.3 554.3,253.2 555.4,253.1 556.5,253.0 557.5,252.9 558.6,252.7 559.6,252.6 560.7,252.5 561.8,252.4 562.8,252.3 563.9,252.2 565.0,252.1 566.0,252.0 567.1,251.9 568.2,251.8 569.2,251.7 570.3,251.6 571.4,251.5 572.4,251.4 573.5,251.3 574.6,251.2 575.6,251.1 576.7,251.0 577.8,250.9 578.8,250.8 579.9,250.7 581.0,250.6 582.0,250.5 583.1,250.5 584.1,250.4 585.2,250.3 586.3,250.2 587.3,250.1 588.4,250.0 589.5,249.9 590.5,249.8 591.6,249.8 592.7,249.7 593.7,249.6 594.8,249.5 595.9,249.4 596.9,249.3 598.0,249.3 599.1,249.2 600.1,249.1 601.2,249.0 602.2,249.0 603.3,248.9 604.4,248.8 605.4,248.7 606.5,248.7 607.6,248.6 608.6,248.5 609.7,248.4 610.8,248.4 611.8,248.3 612.9,248.2 614.0,248.2 615.0,248.1 616.1,248.0 617.2,247.9 618.2,247.9 619.3,247.8 620.4,247.7 621.4,247.7 622.5,247.6 623.5,247.6 624.6,247.5 625.7,247.4 626.7,247.4 627.8,247.3 628.9,247.3 629.9,247.2 631.0,247.1 632.1,247.1 633.1,247.0 634.2,247.0 635.3,246.9 636.3,246.8 637.4,246.8 638.5,246.7 639.5,246.7 640.6,246.6 641.7,246.6 642.7,246.5 643.8,246.5 644.9,246.4" fill="none" stroke="#0a0aff" stroke-width="5.0" stroke-linejoin="round" stroke-linecap="round"/>
<g fill="#0a0aff">
<circle cx="91.0" cy="590.9" r="4.30"/><circle cx="90.0" cy="589.9" r="0.8" fill="#b4b4ff"/>
<circle cx="99.2" cy="545.7" r="4.30"/><circle cx="98.2" cy="544.7" r="0.8" fill="#b4b4ff"/>
<circle cx="107.3" cy="523.5" r="4.30"/><circle cx="106.3" cy="522.5" r="0.8" fill="#b4b4ff"/>
<circle cx="115.5" cy="501.5" r="4.30"/><circle cx="114.5" cy="500.5" r="0.8" fill="#b4b4ff"/>
<circle cx="123.6" cy="482.1" r="4.30"/><circle cx="122.6" cy="481.1" r="0.8" fill="#b4b4ff"/>
<circle cx="131.8" cy="467.9" r="4.30"/><circle cx="130.8" cy="466.9" r="0.8" fill="#b4b4ff"/>
<circle cx="139.9" cy="453.8" r="4.30"/><circle cx="138.9" cy="452.8" r="0.8" fill="#b4b4ff"/>
<circle cx="148.1" cy="441.3" r="4.30"/><circle cx="147.1" cy="440.3" r="0.8" fill="#b4b4ff"/>
<circle cx="156.2" cy="430.4" r="4.30"/><circle cx="155.2" cy="429.4" r="0.8" fill="#b4b4ff"/>
<circle cx="164.3" cy="420.2" r="4.30"/><circle cx="163.3" cy="419.2" r="0.8" fill="#b4b4ff"/>
<circle cx="172.5" cy="410.5" r="4.30"/><circle cx="171.5" cy="409.5" r="0.8" fill="#b4b4ff"/>
<circle cx="180.6" cy="401.5" r="4.30"/><circle cx="179.6" cy="400.5" r="0.8" fill="#b4b4ff"/>
<circle cx="188.8" cy="393.1" r="4.30"/><circle cx="187.8" cy="392.1" r="0.8" fill="#b4b4ff"/>
<circle cx="196.9" cy="385.2" r="4.30"/><circle cx="195.9" cy="384.2" r="0.8" fill="#b4b4ff"/>
<circle cx="205.1" cy="377.8" r="4.30"/><circle cx="204.1" cy="376.8" r="0.8" fill="#b4b4ff"/>
<circle cx="213.2" cy="370.8" r="4.30"/><circle cx="212.2" cy="369.8" r="0.8" fill="#b4b4ff"/>
<circle cx="221.4" cy="364.2" r="4.30"/><circle cx="220.4" cy="363.2" r="0.8" fill="#b4b4ff"/>
<circle cx="229.5" cy="358.0" r="4.30"/><circle cx="228.5" cy="357.0" r="0.8" fill="#b4b4ff"/>
<circle cx="237.6" cy="352.2" r="4.30"/><circle cx="236.6" cy="351.2" r="0.8" fill="#b4b4ff"/>
<circle cx="245.8" cy="346.7" r="4.30"/><circle cx="244.8" cy="345.7" r="0.8" fill="#b4b4ff"/>
<circle cx="253.9" cy="341.5" r="4.30"/><circle cx="252.9" cy="340.5" r="0.8" fill="#b4b4ff"/>
<circle cx="262.1" cy="336.5" r="4.30"/><circle cx="261.1" cy="335.5" r="0.8" fill="#b4b4ff"/>
<circle cx="270.2" cy="331.8" r="4.30"/><circle cx="269.2" cy="330.8" r="0.8" fill="#b4b4ff"/>
<circle cx="278.4" cy="327.3" r="4.30"/><circle cx="277.4" cy="326.3" r="0.8" fill="#b4b4ff"/>
<circle cx="286.5" cy="323.1" r="4.30"/><circle cx="285.5" cy="322.1" r="0.8" fill="#b4b4ff"/>
<circle cx="294.7" cy="319.0" r="4.30"/><circle cx="293.7" cy="318.0" r="0.8" fill="#b4b4ff"/>
<circle cx="302.8" cy="315.2" r="4.30"/><circle cx="301.8" cy="314.2" r="0.8" fill="#b4b4ff"/>
<circle cx="310.9" cy="311.5" r="4.30"/><circle cx="309.9" cy="310.5" r="0.8" fill="#b4b4ff"/>
<circle cx="319.1" cy="308.0" r="4.30"/><circle cx="318.1" cy="307.0" r="0.8" fill="#b4b4ff"/>
<circle cx="327.2" cy="304.7" r="4.30"/><circle cx="326.2" cy="303.7" r="0.8" fill="#b4b4ff"/>
<circle cx="335.4" cy="301.5" r="4.30"/><circle cx="334.4" cy="300.5" r="0.8" fill="#b4b4ff"/>
<circle cx="343.5" cy="298.4" r="4.30"/><circle cx="342.5" cy="297.4" r="0.8" fill="#b4b4ff"/>
<circle cx="351.7" cy="295.5" r="4.30"/><circle cx="350.7" cy="294.5" r="0.8" fill="#b4b4ff"/>
<circle cx="359.8" cy="292.7" r="4.30"/><circle cx="358.8" cy="291.7" r="0.8" fill="#b4b4ff"/>
<circle cx="368.0" cy="290.0" r="4.30"/><circle cx="367.0" cy="289.0" r="0.8" fill="#b4b4ff"/>
<circle cx="376.1" cy="287.5" r="4.30"/><circle cx="375.1" cy="286.5" r="0.8" fill="#b4b4ff"/>
<circle cx="384.2" cy="285.0" r="4.30"/><circle cx="383.2" cy="284.0" r="0.8" fill="#b4b4ff"/>
<circle cx="392.4" cy="282.7" r="4.30"/><circle cx="391.4" cy="281.7" r="0.8" fill="#b4b4ff"/>
<circle cx="400.5" cy="280.5" r="4.30"/><circle cx="399.5" cy="279.5" r="0.8" fill="#b4b4ff"/>
<circle cx="408.7" cy="278.4" r="4.30"/><circle cx="407.7" cy="277.4" r="0.8" fill="#b4b4ff"/>
<circle cx="416.8" cy="276.3" r="4.30"/><circle cx="415.8" cy="275.3" r="0.8" fill="#b4b4ff"/>
<circle cx="425.0" cy="274.4" r="4.30"/><circle cx="424.0" cy="273.4" r="0.8" fill="#b4b4ff"/>
<circle cx="433.1" cy="272.5" r="4.30"/><circle cx="432.1" cy="271.5" r="0.8" fill="#b4b4ff"/>
<circle cx="441.2" cy="270.7" r="4.30"/><circle cx="440.2" cy="269.7" r="0.8" fill="#b4b4ff"/>
<circle cx="449.4" cy="269.0" r="4.30"/><circle cx="448.4" cy="268.0" r="0.8" fill="#b4b4ff"/>
<circle cx="457.5" cy="267.4" r="4.30"/><circle cx="456.5" cy="266.4" r="0.8" fill="#b4b4ff"/>
<circle cx="465.7" cy="265.9" r="4.30"/><circle cx="464.7" cy="264.9" r="0.8" fill="#b4b4ff"/>
<circle cx="473.8" cy="264.4" r="4.30"/><circle cx="472.8" cy="263.4" r="0.8" fill="#b4b4ff"/>
<circle cx="482.0" cy="263.0" r="4.30"/><circle cx="481.0" cy="262.0" r="0.8" fill="#b4b4ff"/>
<circle cx="490.1" cy="261.7" r="4.30"/><circle cx="489.1" cy="260.7" r="0.8" fill="#b4b4ff"/>
<circle cx="498.3" cy="260.4" r="4.30"/><circle cx="497.3" cy="259.4" r="0.8" fill="#b4b4ff"/>
<circle cx="506.4" cy="259.2" r="4.30"/><circle cx="505.4" cy="258.2" r="0.8" fill="#b4b4ff"/>
<circle cx="514.5" cy="258.0" r="4.30"/><circle cx="513.5" cy="257.0" r="0.8" fill="#b4b4ff"/>
<circle cx="522.7" cy="256.9" r="4.30"/><circle cx="521.7" cy="255.9" r="0.8" fill="#b4b4ff"/>
<circle cx="530.8" cy="255.9" r="4.30"/><circle cx="529.8" cy="254.9" r="0.8" fill="#b4b4ff"/>
<circle cx="539.0" cy="254.9" r="4.30"/><circle cx="538.0" cy="253.9" r="0.8" fill="#b4b4ff"/>
<circle cx="547.1" cy="254.0" r="4.30"/><circle cx="546.1" cy="253.0" r="0.8" fill="#b4b4ff"/>
<circle cx="555.3" cy="253.1" r="4.30"/><circle cx="554.3" cy="252.1" r="0.8" fill="#b4b4ff"/>
<circle cx="563.4" cy="252.3" r="4.30"/><circle cx="562.4" cy="251.3" r="0.8" fill="#b4b4ff"/>
<circle cx="571.6" cy="251.5" r="4.30"/><circle cx="570.6" cy="250.5" r="0.8" fill="#b4b4ff"/>
<circle cx="579.7" cy="250.7" r="4.30"/><circle cx="578.7" cy="249.7" r="0.8" fill="#b4b4ff"/>
<circle cx="587.8" cy="250.1" r="4.30"/><circle cx="586.8" cy="249.1" r="0.8" fill="#b4b4ff"/>
<circle cx="596.0" cy="249.4" r="4.30"/><circle cx="595.0" cy="248.4" r="0.8" fill="#b4b4ff"/>
<circle cx="604.1" cy="248.8" r="4.30"/><circle cx="603.1" cy="247.8" r="0.8" fill="#b4b4ff"/>
<circle cx="612.3" cy="248.3" r="4.30"/><circle cx="611.3" cy="247.3" r="0.8" fill="#b4b4ff"/>
<circle cx="620.4" cy="247.7" r="4.30"/><circle cx="619.4" cy="246.7" r="0.8" fill="#b4b4ff"/>
<circle cx="628.6" cy="247.3" r="4.30"/><circle cx="627.6" cy="246.3" r="0.8" fill="#b4b4ff"/>
<circle cx="636.7" cy="246.8" r="4.30"/><circle cx="635.7" cy="245.8" r="0.8" fill="#b4b4ff"/>
<circle cx="644.9" cy="246.4" r="4.30"/><circle cx="643.9" cy="245.4" r="0.8" fill="#b4b4ff"/>
</g>
<polyline points="91.0,590.9 92.1,589.7 93.2,587.8 94.2,585.4 95.3,582.4 96.4,578.1 97.4,573.2 98.5,568.4 99.6,563.9 100.6,559.3 101.7,554.6 102.8,550.2 103.8,546.2 104.9,542.8 106.0,539.8 107.0,537.0 108.1,534.5 109.2,532.0 110.2,529.8 111.3,527.6 112.3,525.4 113.4,523.4 114.5,521.3 115.5,519.2 116.6,517.1 117.7,515.1 118.7,513.1 119.8,511.2 120.9,509.3 121.9,507.5 123.0,505.7 124.1,504.0 125.1,502.2 126.2,500.6 127.3,498.9 128.3,497.3 129.4,495.7 130.5,494.1 131.5,492.5 132.6,490.8 133.7,489.1 134.7,487.4 135.8,485.7 136.8,484.0 137.9,482.3 139.0,480.7 140.0,479.1 141.1,477.6 142.2,476.1 143.2,474.7 144.3,473.2 145.4,471.8 146.4,470.3 147.5,468.9 148.6,467.4 149.6,466.0 150.7,464.6 151.8,463.2 152.8,461.9 153.9,460.6 154.9,459.3 156.0,458.0 157.1,456.8 158.1,455.6 159.2,454.5 160.3,453.3 161.3,452.1 162.4,450.9 163.5,449.8 164.5,448.6 165.6,447.5 166.7,446.3 167.7,445.2 168.8,444.1 169.9,443.0 170.9,441.9 172.0,440.8 173.1,439.7 174.1,438.6 175.2,437.6 176.2,436.5 177.3,435.4 178.4,434.4 179.4,433.3 180.5,432.3 181.6,431.3 182.6,430.2 183.7,429.2 184.8,428.2 185.8,427.2 186.9,426.2 188.0,425.2 189.0,424.2 190.1,423.2 191.2,422.2 192.2,421.3 193.3,420.3 194.4,419.3 195.4,418.4 196.5,417.4 197.6,416.5 198.6,415.5 199.7,414.6 200.7,413.6 201.8,412.7 202.9,411.7 203.9,410.8 205.0,409.9 206.1,409.0 207.1,408.0 208.2,407.1 209.3,406.2 210.3,405.3 211.4,404.4 212.5,403.5 213.5,402.6 214.6,401.7 215.7,400.8 216.7,399.9 217.8,399.0 218.8,398.1 219.9,397.2 221.0,396.3 222.0,395.4 223.1,394.5 224.2,393.7 225.2,392.8 226.3,391.9 227.4,391.0 228.4,390.2 229.5,389.3 230.6,388.4 231.6,387.6 232.7,386.7 233.8,385.8 234.8,385.0 235.9,384.1 237.0,383.3 238.0,382.4 239.1,381.6 240.2,380.7 241.2,379.9 242.3,379.1 243.3,378.2 244.4,377.4 245.5,376.6 246.5,375.7 247.6,374.9 248.7,374.1 249.7,373.3 250.8,372.5 251.9,371.6 252.9,370.8 254.0,370.0 255.1,369.2 256.1,368.4 257.2,367.6 258.3,366.8 259.3,366.0 260.4,365.3 261.4,364.5 262.5,363.7 263.6,362.9 264.6,362.1 265.7,361.4 266.8,360.6 267.8,359.8 268.9,359.1 270.0,358.3 271.0,357.5 272.1,356.8 273.2,356.0 274.2,355.3 275.3,354.5 276.4,353.8 277.4,353.1 278.5,352.3 279.6,351.6 280.6,350.9 281.7,350.2 282.8,349.4 283.8,348.7 284.9,348.0 285.9,347.3 287.0,346.6 288.1,345.9 289.1,345.2 290.2,344.5 291.3,343.8 292.3,343.1 293.4,342.4 294.5,341.8 295.5,341.1 296.6,340.4 297.7,339.7 298.7,339.1 299.8,338.4 300.9,337.7 301.9,337.1 303.0,336.4 304.1,335.8 305.1,335.1 306.2,334.5 307.2,333.9 308.3,333.2 309.4,332.6 310.4,332.0 311.5,331.4 312.6,330.7 313.6,330.1 314.7,329.5 315.8,328.9 316.8,328.3 317.9,327.7 319.0,327.1 320.0,326.5 321.1,325.9 322.2,325.3 323.2,324.7 324.3,324.2 325.4,323.6 326.4,323.0 327.5,322.5 328.5,321.9 329.6,321.3 330.7,320.8 331.7,320.2 332.8,319.7 333.9,319.1 334.9,318.6 336.0,318.1 337.1,317.5 338.1,317.0 339.2,316.5 340.3,315.9 341.3,315.4 342.4,314.9 343.5,314.4 344.5,313.9 345.6,313.4 346.6,312.9 347.7,312.4 348.8,311.9 349.8,311.4 350.9,310.9 352.0,310.4 353.0,310.0 354.1,309.5 355.2,309.0 356.2,308.6 357.3,308.1 358.4,307.6 359.4,307.2 360.5,306.7 361.6,306.3 362.6,305.8 363.7,305.4 364.8,304.9 365.8,304.5 366.9,304.1 368.0,303.6 369.0,303.2 370.1,302.8 371.1,302.3 372.2,301.9 373.3,301.5 374.3,301.1 375.4,300.7 376.5,300.3 377.5,299.9 378.6,299.5 379.7,299.1 380.7,298.7 381.8,298.3 382.9,297.9 383.9,297.5 385.0,297.1 386.1,296.7 387.1,296.3 388.2,296.0 389.3,295.6 390.3,295.2 391.4,294.8 392.4,294.5 393.5,294.1 394.6,293.7 395.6,293.4 396.7,293.0 397.8,292.7 398.8,292.3 399.9,292.0 401.0,291.6 402.0,291.3 403.1,290.9 404.2,290.6 405.2,290.2 406.3,289.9 407.4,289.6 408.4,289.2 409.5,288.9 410.6,288.6 411.6,288.3 412.7,287.9 413.7,287.6 414.8,287.3 415.9,287.0 416.9,286.7 418.0,286.4 419.1,286.0 420.1,285.7 421.2,285.4 422.3,285.1 423.3,284.8 424.4,284.5 425.5,284.2 426.5,283.9 427.6,283.6 428.7,283.4 429.7,283.1 430.8,282.8 431.9,282.5 432.9,282.2 434.0,281.9 435.0,281.6 436.1,281.4 437.2,281.1 438.2,280.8 439.3,280.5 440.4,280.3 441.4,280.0 442.5,279.7 443.6,279.5 444.6,279.2 445.7,279.0 446.8,278.7 447.8,278.4 448.9,278.2 450.0,277.9 451.0,277.7 452.1,277.4 453.1,277.2 454.2,276.9 455.3,276.7 456.3,276.4 457.4,276.2 458.5,276.0 459.5,275.7 460.6,275.5 461.7,275.2 462.7,275.0 463.8,274.8 464.9,274.5 465.9,274.3 467.0,274.1 468.1,273.9 469.1,273.6 470.2,273.4 471.3,273.2 472.3,273.0 473.4,272.8 474.5,272.5 475.5,272.3 476.6,272.1 477.6,271.9 478.7,271.7 479.8,271.5 480.8,271.3 481.9,271.1 483.0,270.9 484.0,270.6 485.1,270.4 486.2,270.2 487.2,270.0 488.3,269.8 489.4,269.6 490.4,269.4 491.5,269.3 492.6,269.1 493.6,268.9 494.7,268.7 495.8,268.5 496.8,268.3 497.9,268.1 498.9,267.9 500.0,267.7 501.1,267.6 502.1,267.4 503.2,267.2 504.3,267.0 505.3,266.8 506.4,266.7 507.5,266.5 508.5,266.3 509.6,266.1 510.7,266.0 511.7,265.8 512.8,265.6 513.9,265.5 514.9,265.3 516.0,265.1 517.0,264.9 518.1,264.8 519.2,264.6 520.2,264.5 521.3,264.3 522.4,264.1 523.4,264.0 524.5,263.8 525.6,263.7 526.6,263.5 527.7,263.4 528.8,263.2 529.8,263.0 530.9,262.9 532.0,262.7 533.0,262.6 534.1,262.4 535.2,262.3 536.2,262.1 537.3,262.0 538.4,261.9 539.4,261.7 540.5,261.6 541.5,261.4 542.6,261.3 543.7,261.1 544.7,261.0 545.8,260.9 546.9,260.7 547.9,260.6 549.0,260.5 550.1,260.3 551.1,260.2 552.2,260.1 553.3,259.9 554.3,259.8 555.4,259.7 556.5,259.5 557.5,259.4 558.6,259.3 559.6,259.2 560.7,259.0 561.8,258.9 562.8,258.8 563.9,258.7 565.0,258.5 566.0,258.4 567.1,258.3 568.2,258.2 569.2,258.1 570.3,257.9 571.4,257.8 572.4,257.7 573.5,257.6 574.6,257.5 575.6,257.4 576.7,257.2 577.8,257.1 578.8,257.0 579.9,256.9 581.0,256.8 582.0,256.7 583.1,256.6 584.1,256.5 585.2,256.4 586.3,256.3 587.3,256.1 588.4,256.0 589.5,255.9 590.5,255.8 591.6,255.7 592.7,255.6 593.7,255.5 594.8,255.4 595.9,255.3 596.9,255.2 598.0,255.1 599.1,255.0 600.1,254.9 601.2,254.8 602.2,254.7 603.3,254.6 604.4,254.5 605.4,254.4 606.5,254.3 607.6,254.3 608.6,254.2 609.7,254.1 610.8,254.0 611.8,253.9 612.9,253.8 614.0,253.7 615.0,253.6 616.1,253.5 617.2,253.4 618.2,253.3 619.3,253.3 620.4,253.2 621.4,253.1 622.5,253.0 623.5,252.9 624.6,252.8 625.7,252.7 626.7,252.7 627.8,252.6 628.9,252.5 629.9,252.4 631.0,252.3 632.1,252.3 633.1,252.2 634.2,252.1 635.3,252.0 636.3,251.9 637.4,251.9 638.5,251.8 639.5,251.7 640.6,251.6 641.7,251.6 642.7,251.5 643.8,251.4 644.9,251.3 645.9,251.3 647.0,251.2 648.0,251.1 649.1,251.0 650.2,251.0 651.2,250.9 652.3,250.8 653.4,250.7 654.4,250.7 655.5,250.6 656.6,250.5 657.6,250.5 658.7,250.4 659.8,250.3 660.8,250.3 661.9,250.2 663.0,250.1 664.0,250.1 665.1,250.0 666.1,249.9 667.2,249.9 668.3,249.8 669.3,249.7 670.4,249.7 671.5,249.6 672.5,249.5 673.6,249.5 674.7,249.4 675.7,249.3 676.8,249.3 677.9,249.2 678.9,249.2 680.0,249.1 681.1,249.0 682.1,249.0 683.2,248.9 684.3,248.9 685.3,248.8 686.4,248.7 687.5,248.7 688.5,248.6 689.6,248.6 690.6,248.5 691.7,248.5 692.8,248.4 693.8,248.3 694.9,248.3 696.0,248.2 697.0,248.2 698.1,248.1 699.2,248.1 700.2,248.0 701.3,248.0 702.4,247.9 703.4,247.8 704.5,247.8 705.6,247.7 706.6,247.7 707.7,247.6 708.7,247.6 709.8,247.5 710.9,247.5 711.9,247.4 713.0,247.4 714.1,247.3 715.1,247.3 716.2,247.2 717.3,247.2 718.3,247.1 719.4,247.1 720.5,247.0 721.5,247.0 722.6,246.9 723.7,246.9 724.7,246.8 725.8,246.8 726.9,246.7 727.9,246.7 729.0,246.6 730.0,246.6 731.1,246.5" fill="none" stroke="#0a8080" stroke-width="5.0" stroke-linejoin="round" stroke-linecap="round"/>
<g fill="#0a8080">
<path d="M85.8 588.7L96.3 588.7L91.0 599.7Z"/>
<path d="M93.9 563.4L104.5 563.4L99.2 574.4Z"/>
<path d="M102.0 534.2L112.6 534.2L107.3 545.2Z"/>
<path d="M110.1 517.3L120.7 517.3L115.4 528.3Z"/>
<path d="M118.2 502.7L128.8 502.7L123.5 513.7Z"/>
<path d="M126.3 490.1L136.9 490.1L131.6 501.1Z"/>
<path d="M134.4 477.4L145.0 477.4L139.7 488.4Z"/>
<path d="M142.5 466.3L153.1 466.3L147.8 477.3Z"/>
<path d="M150.6 455.9L161.2 455.9L155.9 466.9Z"/>
<path d="M158.7 447.0L169.3 447.0L164.0 458.0Z"/>
<path d="M166.8 438.4L177.4 438.4L172.1 449.4Z"/>
<path d="M174.9 430.4L185.5 430.4L180.2 441.4Z"/>
<path d="M183.1 422.6L193.7 422.6L188.4 433.6Z"/>
<path d="M191.2 415.2L201.8 415.2L196.5 426.2Z"/>
<path d="M199.3 408.1L209.9 408.1L204.6 419.1Z"/>
<path d="M207.4 401.1L218.0 401.1L212.7 412.1Z"/>
<path d="M215.5 394.3L226.1 394.3L220.8 405.3Z"/>
<path d="M223.6 387.6L234.2 387.6L228.9 398.6Z"/>
<path d="M231.7 381.0L242.3 381.0L237.0 392.0Z"/>
<path d="M239.8 374.6L250.4 374.6L245.1 385.6Z"/>
<path d="M247.9 368.4L258.5 368.4L253.2 379.4Z"/>
<path d="M256.0 362.4L266.6 362.4L261.3 373.4Z"/>
<path d="M264.1 356.5L274.7 356.5L269.4 367.5Z"/>
<path d="M272.3 350.8L282.9 350.8L277.6 361.8Z"/>
<path d="M280.4 345.3L291.0 345.3L285.7 356.3Z"/>
<path d="M288.5 340.0L299.1 340.0L293.8 351.0Z"/>
<path d="M296.6 334.9L307.2 334.9L301.9 345.9Z"/>
<path d="M304.7 330.0L315.3 330.0L310.0 341.0Z"/>
<path d="M312.8 325.4L323.4 325.4L318.1 336.4Z"/>
<path d="M320.9 320.9L331.5 320.9L326.2 331.9Z"/>
<path d="M329.0 316.7L339.6 316.7L334.3 327.7Z"/>
<path d="M337.1 312.7L347.7 312.7L342.4 323.7Z"/>
<path d="M345.2 308.9L355.8 308.9L350.5 319.9Z"/>
<path d="M353.3 305.3L363.9 305.3L358.6 316.3Z"/>
<path d="M361.5 301.9L372.1 301.9L366.8 312.9Z"/>
<path d="M369.6 298.7L380.2 298.7L374.9 309.7Z"/>
<path d="M377.7 295.6L388.3 295.6L383.0 306.6Z"/>
<path d="M385.8 292.7L396.4 292.7L391.1 303.7Z"/>
<path d="M393.9 290.0L404.5 290.0L399.2 301.0Z"/>
<path d="M402.0 287.4L412.6 287.4L407.3 298.4Z"/>
<path d="M410.1 284.9L420.7 284.9L415.4 295.9Z"/>
<path d="M418.2 282.6L428.8 282.6L423.5 293.6Z"/>
<path d="M426.3 280.4L436.9 280.4L431.6 291.4Z"/>
<path d="M434.4 278.2L445.0 278.2L439.7 289.2Z"/>
<path d="M442.5 276.2L453.1 276.2L447.8 287.2Z"/>
<path d="M450.6 274.3L461.2 274.3L455.9 285.3Z"/>
<path d="M458.8 272.5L469.4 272.5L464.1 283.5Z"/>
<path d="M466.9 270.8L477.5 270.8L472.2 281.8Z"/>
<path d="M475.0 269.2L485.6 269.2L480.3 280.2Z"/>
<path d="M483.1 267.6L493.7 267.6L488.4 278.6Z"/>
<path d="M491.2 266.2L501.8 266.2L496.5 277.2Z"/>
<path d="M499.3 264.8L509.9 264.8L504.6 275.8Z"/>
<path d="M507.4 263.4L518.0 263.4L512.7 274.4Z"/>
<path d="M515.5 262.2L526.1 262.2L520.8 273.2Z"/>
<path d="M523.6 261.0L534.2 261.0L528.9 272.0Z"/>
<path d="M531.7 259.8L542.3 259.8L537.0 270.8Z"/>
<path d="M539.8 258.8L550.4 258.8L545.1 269.8Z"/>
<path d="M548.0 257.7L558.6 257.7L553.3 268.7Z"/>
<path d="M556.1 256.8L566.7 256.8L561.4 267.8Z"/>
<path d="M564.2 255.8L574.8 255.8L569.5 266.8Z"/>
<path d="M572.3 254.9L582.9 254.9L577.6 265.9Z"/>
<path d="M580.4 254.1L591.0 254.1L585.7 265.1Z"/>
<path d="M588.5 253.3L599.1 253.3L593.8 264.3Z"/>
<path d="M596.6 252.6L607.2 252.6L601.9 263.6Z"/>
<path d="M604.7 251.8L615.3 251.8L610.0 262.8Z"/>
<path d="M612.8 251.2L623.4 251.2L618.1 262.2Z"/>
<path d="M620.9 250.5L631.5 250.5L626.2 261.5Z"/>
<path d="M629.0 249.9L639.6 249.9L634.3 260.9Z"/>
<path d="M637.2 249.3L647.8 249.3L642.5 260.3Z"/>
<path d="M645.3 248.7L655.9 248.7L650.6 259.7Z"/>
<path d="M653.4 248.2L664.0 248.2L658.7 259.2Z"/>
<path d="M661.5 247.7L672.1 247.7L666.8 258.7Z"/>
<path d="M669.6 247.2L680.2 247.2L674.9 258.2Z"/>
<path d="M677.7 246.7L688.3 246.7L683.0 257.7Z"/>
<path d="M685.8 246.3L696.4 246.3L691.1 257.3Z"/>
<path d="M693.9 245.9L704.5 245.9L699.2 256.9Z"/>
<path d="M702.0 245.5L712.6 245.5L707.3 256.5Z"/>
<path d="M710.1 245.1L720.7 245.1L715.4 256.1Z"/>
<path d="M718.2 244.7L728.8 244.7L723.5 255.7Z"/>
<path d="M726.3 244.3L736.9 244.3L731.6 255.3Z"/>
</g>
<polyline points="91.0,590.9 92.1,590.8 93.2,590.7 94.2,590.5 95.3,590.4 96.4,590.2 97.4,590.0 98.5,589.9 99.6,589.7 100.6,589.4 101.7,589.1 102.8,588.6 103.8,584.4 104.9,575.7 106.0,566.4 107.0,560.0 108.1,554.8 109.2,550.3 110.2,546.7 111.3,543.5 112.3,540.6 113.4,537.5 114.5,533.9 115.5,529.9 116.6,525.8 117.7,522.1 118.7,518.4 119.8,514.8 120.9,511.4 121.9,508.2 123.0,505.2 124.1,502.3 125.1,499.6 126.2,497.0 127.3,494.4 128.3,491.9 129.4,489.5 130.5,487.2 131.5,484.9 132.6,482.8 133.7,480.8 134.7,478.9 135.8,477.1 136.8,475.3 137.9,473.5 139.0,471.8 140.0,470.0 141.1,468.3 142.2,466.5 143.2,464.8 144.3,463.2 145.4,461.5 146.4,459.9 147.5,458.3 148.6,456.7 149.6,455.1 150.7,453.6 151.8,452.0 152.8,450.5 153.9,449.0 154.9,447.6 156.0,446.1 157.1,444.7 158.1,443.3 159.2,441.9 160.3,440.5 161.3,439.2 162.4,437.9 163.5,436.6 164.5,435.3 165.6,434.0 166.7,432.7 167.7,431.5 168.8,430.2 169.9,429.0 170.9,427.8 172.0,426.6 173.1,425.4 174.1,424.3 175.2,423.1 176.2,422.0 177.3,420.8 178.4,419.7 179.4,418.6 180.5,417.5 181.6,416.4 182.6,415.4 183.7,414.3 184.8,413.2 185.8,412.2 186.9,411.1 188.0,410.1 189.0,409.1 190.1,408.1 191.2,407.1 192.2,406.1 193.3,405.1 194.4,404.1 195.4,403.1 196.5,402.2 197.6,401.2 198.6,400.2 199.7,399.3 200.7,398.4 201.8,397.4 202.9,396.5 203.9,395.6 205.0,394.7 206.1,393.7 207.1,392.8 208.2,391.9 209.3,391.0 210.3,390.1 211.4,389.3 212.5,388.4 213.5,387.5 214.6,386.6 215.7,385.8 216.7,384.9 217.8,384.0 218.8,383.2 219.9,382.3 221.0,381.5 222.0,380.6 223.1,379.8 224.2,379.0 225.2,378.1 226.3,377.3 227.4,376.5 228.4,375.6 229.5,374.8 230.6,374.0 231.6,373.2 232.7,372.4 233.8,371.6 234.8,370.8 235.9,370.0 237.0,369.2 238.0,368.4 239.1,367.6 240.2,366.8 241.2,366.0 242.3,365.2 243.3,364.4 244.4,363.6 245.5,362.9 246.5,362.1 247.6,361.3 248.7,360.6 249.7,359.8 250.8,359.0 251.9,358.3 252.9,357.5 254.0,356.8 255.1,356.0 256.1,355.3 257.2,354.5 258.3,353.8 259.3,353.1 260.4,352.3 261.4,351.6 262.5,350.9 263.6,350.1 264.6,349.4 265.7,348.7 266.8,348.0 267.8,347.3 268.9,346.5 270.0,345.8 271.0,345.1 272.1,344.4 273.2,343.7 274.2,343.0 275.3,342.3 276.4,341.6 277.4,340.9 278.5,340.2 279.6,339.5 280.6,338.9 281.7,338.2 282.8,337.5 283.8,336.8 284.9,336.1 285.9,335.5 287.0,334.8 288.1,334.1 289.1,333.5 290.2,332.8 291.3,332.1 292.3,331.5 293.4,330.8 294.5,330.2 295.5,329.5 296.6,328.9 297.7,328.2 298.7,327.6 299.8,326.9 300.9,326.3 301.9,325.6 303.0,325.0 304.1,324.4 305.1,323.7 306.2,323.1 307.2,322.5 308.3,321.8 309.4,321.2 310.4,320.6 311.5,320.0 312.6,319.4 313.6,318.8 314.7,318.1 315.8,317.5 316.8,316.9 317.9,316.3 319.0,315.7 320.0,315.1 321.1,314.5 322.2,313.9 323.2,313.3 324.3,312.7 325.4,312.1 326.4,311.5 327.5,311.0 328.5,310.4 329.6,309.8 330.7,309.2 331.7,308.6 332.8,308.1 333.9,307.5 334.9,306.9 336.0,306.3 337.1,305.8 338.1,305.2 339.2,304.6 340.3,304.1 341.3,303.5 342.4,303.0 343.5,302.4 344.5,301.8 345.6,301.3 346.6,300.7 347.7,300.2 348.8,299.7 349.8,299.1 350.9,298.6 352.0,298.0 353.0,297.5 354.1,296.9 355.2,296.4 356.2,295.9 357.3,295.3 358.4,294.8 359.4,294.3 360.5,293.8 361.6,293.2 362.6,292.7 363.7,292.2 364.8,291.7 365.8,291.2 366.9,290.6 368.0,290.1 369.0,289.6 370.1,289.1 371.1,288.6 372.2,288.1 373.3,287.6 374.3,287.1 375.4,286.6 376.5,286.1 377.5,285.6 378.6,285.1 379.7,284.6 380.7,284.1 381.8,283.6 382.9,283.1 383.9,282.7 385.0,282.2 386.1,281.7 387.1,281.2 388.2,280.7 389.3,280.2 390.3,279.8 391.4,279.3 392.4,278.8 393.5,278.4 394.6,277.9 395.6,277.4 396.7,277.0 397.8,276.5 398.8,276.0 399.9,275.6 401.0,275.1 402.0,274.7 403.1,274.2 404.2,273.7 405.2,273.3 406.3,272.8 407.4,272.4 408.4,271.9 409.5,271.5 410.6,271.1 411.6,270.6 412.7,270.2 413.7,269.7 414.8,269.3 415.9,268.9 416.9,268.4 418.0,268.0 419.1,267.6 420.1,267.1 421.2,266.7 422.3,266.3 423.3,265.9 424.4,265.4 425.5,265.0 426.5,264.6 427.6,264.2 428.7,263.8 429.7,263.4 430.8,262.9 431.9,262.5 432.9,262.1 434.0,261.7 435.0,261.3 436.1,260.9 437.2,260.5 438.2,260.1 439.3,259.7 440.4,259.3 441.4,258.9 442.5,258.5 443.6,258.1 444.6,257.7 445.7,257.3 446.8,256.9 447.8,256.5 448.9,256.2 450.0,255.8 451.0,255.4 452.1,255.0 453.1,254.6 454.2,254.2 455.3,253.9 456.3,253.5 457.4,253.1 458.5,252.7 459.5,252.4 460.6,252.0 461.7,251.6 462.7,251.3 463.8,250.9 464.9,250.5 465.9,250.2 467.0,249.8 468.1,249.5 469.1,249.1 470.2,248.7 471.3,248.4 472.3,248.0 473.4,247.7 474.5,247.3 475.5,247.0 476.6,246.6 477.6,246.3 478.7,245.9 479.8,245.6 480.8,245.3 481.9,244.9 483.0,244.6 484.0,244.2 485.1,243.9 486.2,243.6 487.2,243.2 488.3,242.9 489.4,242.6 490.4,242.2 491.5,241.9 492.6,241.6 493.6,241.3 494.7,240.9 495.8,240.6 496.8,240.3 497.9,240.0 498.9,239.6 500.0,239.3 501.1,239.0 502.1,238.7 503.2,238.4 504.3,238.1 505.3,237.8 506.4,237.5 507.5,237.1 508.5,236.8 509.6,236.5 510.7,236.2 511.7,235.9 512.8,235.6 513.9,235.3 514.9,235.0 516.0,234.7 517.0,234.4 518.1,234.1 519.2,233.9 520.2,233.6 521.3,233.3 522.4,233.0 523.4,232.7 524.5,232.4 525.6,232.1 526.6,231.8 527.7,231.6 528.8,231.3 529.8,231.0 530.9,230.7 532.0,230.4 533.0,230.2 534.1,229.9 535.2,229.6 536.2,229.4 537.3,229.1 538.4,228.8 539.4,228.5 540.5,228.3 541.5,228.0 542.6,227.8 543.7,227.5 544.7,227.2 545.8,227.0 546.9,226.7 547.9,226.5 549.0,226.2 550.1,225.9 551.1,225.7 552.2,225.4 553.3,225.2 554.3,224.9 555.4,224.7 556.5,224.4 557.5,224.2 558.6,224.0 559.6,223.7 560.7,223.5 561.8,223.2 562.8,223.0 563.9,222.7 565.0,222.5 566.0,222.3 567.1,222.0 568.2,221.8 569.2,221.6 570.3,221.3 571.4,221.1 572.4,220.9 573.5,220.7 574.6,220.4 575.6,220.2 576.7,220.0 577.8,219.8 578.8,219.5 579.9,219.3 581.0,219.1 582.0,218.9 583.1,218.7 584.1,218.5 585.2,218.2 586.3,218.0 587.3,217.8 588.4,217.6 589.5,217.4 590.5,217.2 591.6,217.0 592.7,216.8 593.7,216.6 594.8,216.4 595.9,216.2 596.9,216.0 598.0,215.8 599.1,215.6 600.1,215.4 601.2,215.2 602.2,215.0 603.3,214.8 604.4,214.6 605.4,214.4 606.5,214.2 607.6,214.0 608.6,213.9 609.7,213.7 610.8,213.5 611.8,213.3 612.9,213.1 614.0,212.9 615.0,212.8 616.1,212.6 617.2,212.4 618.2,212.2 619.3,212.1 620.4,211.9 621.4,211.7 622.5,211.5 623.5,211.4 624.6,211.2 625.7,211.0 626.7,210.9 627.8,210.7 628.9,210.5 629.9,210.4 631.0,210.2 632.1,210.0 633.1,209.9 634.2,209.7 635.3,209.6 636.3,209.4 637.4,209.3 638.5,209.1 639.5,208.9 640.6,208.8 641.7,208.6 642.7,208.5 643.8,208.3 644.9,208.2 645.9,208.0 647.0,207.9 648.0,207.8 649.1,207.6 650.2,207.5 651.2,207.3 652.3,207.2 653.4,207.1 654.4,206.9 655.5,206.8 656.6,206.6 657.6,206.5 658.7,206.4 659.8,206.2 660.8,206.1 661.9,206.0 663.0,205.9 664.0,205.7 665.1,205.6 666.1,205.5 667.2,205.4 668.3,205.2 669.3,205.1 670.4,205.0 671.5,204.9 672.5,204.7 673.6,204.6 674.7,204.5 675.7,204.4 676.8,204.3 677.9,204.2 678.9,204.1 680.0,203.9 681.1,203.8 682.1,203.7 683.2,203.6 684.3,203.5 685.3,203.4 686.4,203.3 687.5,203.2 688.5,203.1 689.6,203.0 690.6,202.9 691.7,202.8 692.8,202.7 693.8,202.6 694.9,202.5 696.0,202.4 697.0,202.3 698.1,202.2 699.2,202.1 700.2,202.0 701.3,202.0 702.4,201.9 703.4,201.8 704.5,201.7 705.6,201.6 706.6,201.5 707.7,201.4 708.7,201.4 709.8,201.3 710.9,201.2 711.9,201.1 713.0,201.0 714.1,201.0 715.1,200.9 716.2,200.8 717.3,200.7 718.3,200.7 719.4,200.6 720.5,200.5 721.5,200.4 722.6,200.4 723.7,200.3 724.7,200.2 725.8,200.2 726.9,200.1 727.9,200.1 729.0,200.0 730.0,199.9 731.1,199.9 732.2,199.8 733.2,199.8 734.3,199.7 735.4,199.6 736.4,199.6 737.5,199.5 738.6,199.5 739.6,199.4 740.7,199.4 741.8,199.3 742.8,199.3 743.9,199.2 745.0,199.2 746.0,199.1 747.1,199.1 748.2,199.0 749.2,199.0 750.3,199.0 751.4,198.9 752.4,198.9 753.5,198.8 754.5,198.8 755.6,198.8 756.7,198.7 757.7,198.7 758.8,198.7 759.9,198.6 760.9,198.6 762.0,198.6 763.1,198.5 764.1,198.5 765.2,198.5 766.3,198.5 767.3,198.4 768.4,198.4 769.5,198.4 770.5,198.4 771.6,198.3 772.6,198.3 773.7,198.3 774.8,198.3 775.8,198.3 776.9,198.2 778.0,198.2 779.0,198.2 780.1,198.2 781.2,198.2 782.2,198.2 783.3,198.2 784.4,198.2 785.4,198.1 786.5,198.1 787.6,198.1 788.6,198.1 789.7,198.1 790.8,198.1 791.8,198.1 792.9,198.1 794.0,198.1 795.0,198.1 796.1,198.1 797.1,198.1 798.2,198.1 799.3,198.1 800.3,198.1 801.4,198.1 802.5,198.1 803.5,198.1 804.6,198.1 805.7,198.2 806.7,198.2 807.8,198.2 808.9,198.2 809.9,198.2 811.0,198.2 812.1,198.2 813.1,198.3 814.2,198.3 815.2,198.3 816.3,198.3 817.4,198.3 818.4,198.3 819.5,198.4 820.6,198.4 821.6,198.4 822.7,198.4 823.8,198.5 824.8,198.5 825.9,198.5 827.0,198.5 828.0,198.6 829.1,198.6 830.2,198.6 831.2,198.7 832.3,198.7 833.4,198.7 834.4,198.8 835.5,198.8 836.5,198.8 837.6,198.9 838.7,198.9 839.7,199.0 840.8,199.0 841.9,199.0 842.9,199.1 844.0,199.1 845.1,199.2 846.1,199.2 847.2,199.3 848.3,199.3 849.3,199.4 850.4,199.4 851.5,199.5 852.5,199.5 853.6,199.6 854.7,199.6 855.7,199.7 856.8,199.7 857.9,199.8 858.9,199.8 860.0,199.9" fill="none" stroke="#ff00ff" stroke-width="5.0" stroke-linejoin="round" stroke-linecap="round"/>
<g fill="#ff00ff">
<path d="M91.0 584.7L95.8 590.9L91.0 597.1L86.3 590.9Z"/>
<path d="M99.1 583.6L103.8 589.8L99.1 596.0L94.4 589.8Z"/>
<path d="M107.2 552.7L111.9 558.9L107.2 565.1L102.5 558.9Z"/>
<path d="M115.3 524.5L120.0 530.7L115.3 536.9L110.6 530.7Z"/>
<path d="M123.4 497.8L128.1 504.0L123.4 510.2L118.7 504.0Z"/>
<path d="M131.5 478.7L136.2 484.9L131.5 491.1L126.8 484.9Z"/>
<path d="M139.6 464.5L144.3 470.7L139.6 476.9L134.9 470.7Z"/>
<path d="M147.7 451.8L152.4 458.0L147.7 464.2L143.0 458.0Z"/>
<path d="M155.8 440.2L160.5 446.4L155.8 452.6L151.1 446.4Z"/>
<path d="M163.9 429.8L168.6 436.0L163.9 442.2L159.2 436.0Z"/>
<path d="M172.0 420.4L176.7 426.6L172.0 432.8L167.3 426.6Z"/>
<path d="M180.1 411.8L184.8 418.0L180.1 424.2L175.4 418.0Z"/>
<path d="M188.2 403.7L192.9 409.9L188.2 416.1L183.5 409.9Z"/>
<path d="M196.3 396.2L201.0 402.4L196.3 408.6L191.6 402.4Z"/>
<path d="M204.4 389.0L209.1 395.2L204.4 401.4L199.7 395.2Z"/>
<path d="M212.5 382.2L217.2 388.4L212.5 394.6L207.8 388.4Z"/>
<path d="M220.6 375.6L225.3 381.8L220.6 388.0L215.9 381.8Z"/>
<path d="M228.6 369.3L233.3 375.5L228.6 381.7L223.9 375.5Z"/>
<path d="M236.7 363.1L241.4 369.3L236.7 375.5L232.0 369.3Z"/>
<path d="M244.8 357.1L249.5 363.3L244.8 369.5L240.1 363.3Z"/>
<path d="M252.9 351.3L257.6 357.5L252.9 363.7L248.2 357.5Z"/>
<path d="M261.0 345.7L265.7 351.9L261.0 358.1L256.3 351.9Z"/>
<path d="M269.1 340.2L273.8 346.4L269.1 352.6L264.4 346.4Z"/>
<path d="M277.2 334.9L281.9 341.1L277.2 347.3L272.5 341.1Z"/>
<path d="M285.3 329.7L290.0 335.9L285.3 342.1L280.6 335.9Z"/>
<path d="M293.4 324.6L298.1 330.8L293.4 337.0L288.7 330.8Z"/>
<path d="M301.5 319.7L306.2 325.9L301.5 332.1L296.8 325.9Z"/>
<path d="M309.6 314.9L314.3 321.1L309.6 327.3L304.9 321.1Z"/>
<path d="M317.7 310.2L322.4 316.4L317.7 322.6L313.0 316.4Z"/>
<path d="M325.8 305.7L330.5 311.9L325.8 318.1L321.1 311.9Z"/>
<path d="M333.9 301.3L338.6 307.5L333.9 313.7L329.2 307.5Z"/>
<path d="M342.0 297.0L346.7 303.2L342.0 309.4L337.3 303.2Z"/>
<path d="M350.1 292.8L354.8 299.0L350.1 305.2L345.4 299.0Z"/>
<path d="M358.2 288.7L362.9 294.9L358.2 301.1L353.5 294.9Z"/>
<path d="M366.2 284.8L370.9 291.0L366.2 297.2L361.5 291.0Z"/>
<path d="M374.3 280.9L379.0 287.1L374.3 293.3L369.6 287.1Z"/>
<path d="M382.4 277.1L387.1 283.3L382.4 289.5L377.7 283.3Z"/>
<path d="M390.5 273.5L395.2 279.7L390.5 285.9L385.8 279.7Z"/>
<path d="M398.6 269.9L403.3 276.1L398.6 282.3L393.9 276.1Z"/>
<path d="M406.7 266.5L411.4 272.7L406.7 278.9L402.0 272.7Z"/>
<path d="M414.8 263.1L419.5 269.3L414.8 275.5L410.1 269.3Z"/>
<path d="M422.9 259.8L427.6 266.0L422.9 272.2L418.2 266.0Z"/>
<path d="M431.0 256.7L435.7 262.9L431.0 269.1L426.3 262.9Z"/>
<path d="M439.1 253.6L443.8 259.8L439.1 266.0L434.4 259.8Z"/>
<path d="M447.2 250.6L451.9 256.8L447.2 263.0L442.5 256.8Z"/>
<path d="M455.3 247.7L460.0 253.9L455.3 260.1L450.6 253.9Z"/>
<path d="M463.4 244.8L468.1 251.0L463.4 257.2L458.7 251.0Z"/>
<path d="M471.5 242.1L476.2 248.3L471.5 254.5L466.8 248.3Z"/>
<path d="M479.6 239.5L484.3 245.7L479.6 251.9L474.9 245.7Z"/>
<path d="M487.7 236.9L492.4 243.1L487.7 249.3L483.0 243.1Z"/>
<path d="M495.8 234.4L500.4 240.6L495.8 246.8L491.1 240.6Z"/>
<path d="M503.8 232.0L508.5 238.2L503.8 244.4L499.1 238.2Z"/>
<path d="M511.9 229.7L516.6 235.9L511.9 242.1L507.2 235.9Z"/>
<path d="M520.0 227.4L524.7 233.6L520.0 239.8L515.3 233.6Z"/>
<path d="M528.1 225.2L532.8 231.4L528.1 237.6L523.4 231.4Z"/>
<path d="M536.2 223.2L540.9 229.4L536.2 235.6L531.5 229.4Z"/>
<path d="M544.3 221.1L549.0 227.3L544.3 233.5L539.6 227.3Z"/>
<path d="M552.4 219.2L557.1 225.4L552.4 231.6L547.7 225.4Z"/>
<path d="M560.5 217.3L565.2 223.5L560.5 229.7L555.8 223.5Z"/>
<path d="M568.6 215.5L573.3 221.7L568.6 227.9L563.9 221.7Z"/>
<path d="M576.7 213.8L581.4 220.0L576.7 226.2L572.0 220.0Z"/>
<path d="M584.8 212.1L589.5 218.3L584.8 224.5L580.1 218.3Z"/>
<path d="M592.9 210.5L597.6 216.7L592.9 222.9L588.2 216.7Z"/>
<path d="M601.0 209.0L605.7 215.2L601.0 221.4L596.3 215.2Z"/>
<path d="M609.1 207.6L613.8 213.8L609.1 220.0L604.4 213.8Z"/>
<path d="M617.2 206.2L621.9 212.4L617.2 218.6L612.5 212.4Z"/>
<path d="M625.3 204.9L630.0 211.1L625.3 217.3L620.6 211.1Z"/>
<path d="M633.3 203.6L638.0 209.8L633.3 216.0L628.6 209.8Z"/>
<path d="M641.4 202.5L646.1 208.7L641.4 214.9L636.7 208.7Z"/>
<path d="M649.5 201.4L654.2 207.6L649.5 213.8L644.8 207.6Z"/>
<path d="M657.6 200.3L662.3 206.5L657.6 212.7L652.9 206.5Z"/>
<path d="M665.7 199.3L670.4 205.5L665.7 211.7L661.0 205.5Z"/>
<path d="M673.8 198.4L678.5 204.6L673.8 210.8L669.1 204.6Z"/>
<path d="M681.9 197.5L686.6 203.7L681.9 209.9L677.2 203.7Z"/>
<path d="M690.0 196.8L694.7 203.0L690.0 209.2L685.3 203.0Z"/>
<path d="M698.1 196.0L702.8 202.2L698.1 208.4L693.4 202.2Z"/>
<path d="M706.2 195.4L710.9 201.6L706.2 207.8L701.5 201.6Z"/>
<path d="M714.3 194.7L719.0 200.9L714.3 207.1L709.6 200.9Z"/>
<path d="M722.4 194.2L727.1 200.4L722.4 206.6L717.7 200.4Z"/>
<path d="M730.5 193.7L735.2 199.9L730.5 206.1L725.8 199.9Z"/>
<path d="M738.6 193.3L743.3 199.5L738.6 205.7L733.9 199.5Z"/>
<path d="M746.7 192.9L751.4 199.1L746.7 205.3L742.0 199.1Z"/>
<path d="M754.8 192.6L759.5 198.8L754.8 205.0L750.1 198.8Z"/>
<path d="M762.9 192.3L767.6 198.5L762.9 204.7L758.2 198.5Z"/>
<path d="M770.9 192.1L775.6 198.3L770.9 204.5L766.2 198.3Z"/>
<path d="M779.0 192.0L783.7 198.2L779.0 204.4L774.3 198.2Z"/>
<path d="M787.1 191.9L791.8 198.1L787.1 204.3L782.4 198.1Z"/>
<path d="M795.2 191.9L799.9 198.1L795.2 204.3L790.5 198.1Z"/>
<path d="M803.3 191.9L808.0 198.1L803.3 204.3L798.6 198.1Z"/>
<path d="M811.4 192.0L816.1 198.2L811.4 204.4L806.7 198.2Z"/>
<path d="M819.5 192.2L824.2 198.4L819.5 204.6L814.8 198.4Z"/>
<path d="M827.6 192.4L832.3 198.6L827.6 204.8L822.9 198.6Z"/>
<path d="M835.7 192.6L840.4 198.8L835.7 205.0L831.0 198.8Z"/>
<path d="M843.8 192.9L848.5 199.1L843.8 205.3L839.1 199.1Z"/>
<path d="M851.9 193.3L856.6 199.5L851.9 205.7L847.2 199.5Z"/>
<path d="M860.0 193.7L864.7 199.9L860.0 206.1L855.3 199.9Z"/>
</g>
<line x1="701.5" y1="40.5" x2="747.5" y2="40.5" stroke="#000000" stroke-width="4.6" stroke-linecap="round"/>
<g fill="#000000"><ellipse cx="724.3" cy="40.5" rx="4.10" ry="4.50"/></g>
<line x1="701.5" y1="65.0" x2="747.5" y2="65.0" stroke="#ff1010" stroke-width="4.6" stroke-linecap="round"/>
<g fill="#ff1010"><path d="M720.4 65.0L728.2 59.2L728.2 70.8Z"/></g>
<line x1="701.5" y1="89.2" x2="747.5" y2="89.2" stroke="#0a0aff" stroke-width="4.6" stroke-linecap="round"/>
<g fill="#0a0aff"><circle cx="724.3" cy="89.2" r="4.30"/><circle cx="723.3" cy="88.2" r="0.8" fill="#b4b4ff"/></g>
<line x1="701.5" y1="114.1" x2="747.5" y2="114.1" stroke="#0a8080" stroke-width="4.6" stroke-linecap="round"/>
<g fill="#0a8080"><path d="M719.0 111.9L729.6 111.9L724.3 122.9Z"/></g>
<line x1="701.5" y1="138.7" x2="747.5" y2="138.7" stroke="#ff00ff" stroke-width="4.6" stroke-linecap="round"/>
<g fill="#ff00ff"><path d="M724.3 132.5L729.0 138.7L724.3 144.9L719.6 138.7Z"/></g>
<line x1="123.12" y1="818.60" x2="123.12" y2="1366.60" stroke="#dddddd" stroke-width="1"/>
<line x1="144.05" y1="818.60" x2="144.05" y2="1366.60" stroke="#dddddd" stroke-width="1"/>
<line x1="164.97" y1="818.60" x2="164.97" y2="1366.60" stroke="#dddddd" stroke-width="1"/>
<line x1="185.90" y1="818.60" x2="185.90" y2="1366.60" stroke="#dddddd" stroke-width="1"/>
<line x1="227.74" y1="818.60" x2="227.74" y2="1366.60" stroke="#dddddd" stroke-width="1"/>
<line x1="248.67" y1="818.60" x2="248.67" y2="1366.60" stroke="#dddddd" stroke-width="1"/>
<line x1="269.59" y1="818.60" x2="269.59" y2="1366.60" stroke="#dddddd" stroke-width="1"/>
<line x1="290.52" y1="818.60" x2="290.52" y2="1366.60" stroke="#dddddd" stroke-width="1"/>
<line x1="332.36" y1="818.60" x2="332.36" y2="1366.60" stroke="#dddddd" stroke-width="1"/>
<line x1="353.29" y1="818.60" x2="353.29" y2="1366.60" stroke="#dddddd" stroke-width="1"/>
<line x1="374.21" y1="818.60" x2="374.21" y2="1366.60" stroke="#dddddd" stroke-width="1"/>
<line x1="395.14" y1="818.60" x2="395.14" y2="1366.60" stroke="#dddddd" stroke-width="1"/>
<line x1="436.98" y1="818.60" x2="436.98" y2="1366.60" stroke="#dddddd" stroke-width="1"/>
<line x1="457.91" y1="818.60" x2="457.91" y2="1366.60" stroke="#dddddd" stroke-width="1"/>
<line x1="478.83" y1="818.60" x2="478.83" y2="1366.60" stroke="#dddddd" stroke-width="1"/>
<line x1="499.76" y1="818.60" x2="499.76" y2="1366.60" stroke="#dddddd" stroke-width="1"/>
<line x1="541.60" y1="818.60" x2="541.60" y2="1366.60" stroke="#dddddd" stroke-width="1"/>
<line x1="562.53" y1="818.60" x2="562.53" y2="1366.60" stroke="#dddddd" stroke-width="1"/>
<line x1="583.45" y1="818.60" x2="583.45" y2="1366.60" stroke="#dddddd" stroke-width="1"/>
<line x1="604.38" y1="818.60" x2="604.38" y2="1366.60" stroke="#dddddd" stroke-width="1"/>
<line x1="646.22" y1="818.60" x2="646.22" y2="1366.60" stroke="#dddddd" stroke-width="1"/>
<line x1="667.15" y1="818.60" x2="667.15" y2="1366.60" stroke="#dddddd" stroke-width="1"/>
<line x1="688.07" y1="818.60" x2="688.07" y2="1366.60" stroke="#dddddd" stroke-width="1"/>
<line x1="709.00" y1="818.60" x2="709.00" y2="1366.60" stroke="#dddddd" stroke-width="1"/>
<line x1="750.84" y1="818.60" x2="750.84" y2="1366.60" stroke="#dddddd" stroke-width="1"/>
<line x1="771.77" y1="818.60" x2="771.77" y2="1366.60" stroke="#dddddd" stroke-width="1"/>
<line x1="792.69" y1="818.60" x2="792.69" y2="1366.60" stroke="#dddddd" stroke-width="1"/>
<line x1="813.62" y1="818.60" x2="813.62" y2="1366.60" stroke="#dddddd" stroke-width="1"/>
<line x1="855.46" y1="818.60" x2="855.46" y2="1366.60" stroke="#dddddd" stroke-width="1"/>
<line x1="876.39" y1="818.60" x2="876.39" y2="1366.60" stroke="#dddddd" stroke-width="1"/>
<line x1="897.31" y1="818.60" x2="897.31" y2="1366.60" stroke="#dddddd" stroke-width="1"/>
<line x1="918.24" y1="818.60" x2="918.24" y2="1366.60" stroke="#dddddd" stroke-width="1"/>
<line x1="102.20" y1="1350.94" x2="939.16" y2="1350.94" stroke="#d2d2d2" stroke-width="1"/>
<line x1="102.20" y1="1335.29" x2="939.16" y2="1335.29" stroke="#d2d2d2" stroke-width="1"/>
<line x1="102.20" y1="1319.63" x2="939.16" y2="1319.63" stroke="#d2d2d2" stroke-width="1"/>
<line x1="102.20" y1="1303.97" x2="939.16" y2="1303.97" stroke="#d2d2d2" stroke-width="1"/>
<line x1="102.20" y1="1272.66" x2="939.16" y2="1272.66" stroke="#d2d2d2" stroke-width="1"/>
<line x1="102.20" y1="1257.00" x2="939.16" y2="1257.00" stroke="#d2d2d2" stroke-width="1"/>
<line x1="102.20" y1="1241.34" x2="939.16" y2="1241.34" stroke="#d2d2d2" stroke-width="1"/>
<line x1="102.20" y1="1225.69" x2="939.16" y2="1225.69" stroke="#d2d2d2" stroke-width="1"/>
<line x1="102.20" y1="1194.37" x2="939.16" y2="1194.37" stroke="#d2d2d2" stroke-width="1"/>
<line x1="102.20" y1="1178.72" x2="939.16" y2="1178.72" stroke="#d2d2d2" stroke-width="1"/>
<line x1="102.20" y1="1163.06" x2="939.16" y2="1163.06" stroke="#d2d2d2" stroke-width="1"/>
<line x1="102.20" y1="1147.40" x2="939.16" y2="1147.40" stroke="#d2d2d2" stroke-width="1"/>
<line x1="102.20" y1="1116.09" x2="939.16" y2="1116.09" stroke="#d2d2d2" stroke-width="1"/>
<line x1="102.20" y1="1100.43" x2="939.16" y2="1100.43" stroke="#d2d2d2" stroke-width="1"/>
<line x1="102.20" y1="1084.77" x2="939.16" y2="1084.77" stroke="#d2d2d2" stroke-width="1"/>
<line x1="102.20" y1="1069.12" x2="939.16" y2="1069.12" stroke="#d2d2d2" stroke-width="1"/>
<line x1="102.20" y1="1037.80" x2="939.16" y2="1037.80" stroke="#d2d2d2" stroke-width="1"/>
<line x1="102.20" y1="1022.15" x2="939.16" y2="1022.15" stroke="#d2d2d2" stroke-width="1"/>
<line x1="102.20" y1="1006.49" x2="939.16" y2="1006.49" stroke="#d2d2d2" stroke-width="1"/>
<line x1="102.20" y1="990.83" x2="939.16" y2="990.83" stroke="#d2d2d2" stroke-width="1"/>
<line x1="102.20" y1="959.52" x2="939.16" y2="959.52" stroke="#d2d2d2" stroke-width="1"/>
<line x1="102.20" y1="943.86" x2="939.16" y2="943.86" stroke="#d2d2d2" stroke-width="1"/>
<line x1="102.20" y1="928.20" x2="939.16" y2="928.20" stroke="#d2d2d2" stroke-width="1"/>
<line x1="102.20" y1="912.55" x2="939.16" y2="912.55" stroke="#d2d2d2" stroke-width="1"/>
<line x1="102.20" y1="881.23" x2="939.16" y2="881.23" stroke="#d2d2d2" stroke-width="1"/>
<line x1="102.20" y1="865.58" x2="939.16" y2="865.58" stroke="#d2d2d2" stroke-width="1"/>
<line x1="102.20" y1="849.92" x2="939.16" y2="849.92" stroke="#d2d2d2" stroke-width="1"/>
<line x1="102.20" y1="834.26" x2="939.16" y2="834.26" stroke="#d2d2d2" stroke-width="1"/>
<line x1="206.82" y1="818.60" x2="206.82" y2="1366.60" stroke="#000" stroke-width="1.8"/>
<line x1="311.44" y1="818.60" x2="311.44" y2="1366.60" stroke="#000" stroke-width="1.8"/>
<line x1="416.06" y1="818.60" x2="416.06" y2="1366.60" stroke="#000" stroke-width="1.8"/>
<line x1="520.68" y1="818.60" x2="520.68" y2="1366.60" stroke="#000" stroke-width="1.8"/>
<line x1="625.30" y1="818.60" x2="625.30" y2="1366.60" stroke="#000" stroke-width="1.8"/>
<line x1="729.92" y1="818.60" x2="729.92" y2="1366.60" stroke="#000" stroke-width="1.8"/>
<line x1="834.54" y1="818.60" x2="834.54" y2="1366.60" stroke="#000" stroke-width="1.8"/>
<line x1="102.20" y1="1288.20" x2="939.16" y2="1288.20" stroke="#2a2a2a" stroke-width="2.0"/>
<line x1="102.20" y1="1210.30" x2="939.16" y2="1210.30" stroke="#2a2a2a" stroke-width="2.0"/>
<line x1="102.20" y1="1132.40" x2="939.16" y2="1132.40" stroke="#2a2a2a" stroke-width="2.0"/>
<line x1="102.20" y1="1053.40" x2="939.16" y2="1053.40" stroke="#2a2a2a" stroke-width="2.0"/>
<line x1="102.20" y1="974.00" x2="939.16" y2="974.00" stroke="#2a2a2a" stroke-width="2.0"/>
<line x1="102.20" y1="896.50" x2="939.16" y2="896.50" stroke="#2a2a2a" stroke-width="2.0"/>
<line x1="100.50" y1="818.6" x2="100.50" y2="1366.6" stroke="#c0c0c0" stroke-width="1.2"/><line x1="205.12" y1="818.6" x2="205.12" y2="1366.6" stroke="#c0c0c0" stroke-width="1.2"/><line x1="309.74" y1="818.6" x2="309.74" y2="1366.6" stroke="#c0c0c0" stroke-width="1.2"/><line x1="414.36" y1="818.6" x2="414.36" y2="1366.6" stroke="#c0c0c0" stroke-width="1.2"/><line x1="518.98" y1="818.6" x2="518.98" y2="1366.6" stroke="#c0c0c0" stroke-width="1.2"/><line x1="623.60" y1="818.6" x2="623.60" y2="1366.6" stroke="#c0c0c0" stroke-width="1.2"/><line x1="728.22" y1="818.6" x2="728.22" y2="1366.6" stroke="#c0c0c0" stroke-width="1.2"/><line x1="832.84" y1="818.6" x2="832.84" y2="1366.6" stroke="#c0c0c0" stroke-width="1.2"/>
<rect x="102.20" y="818.60" width="836.96" height="548.00" fill="none" stroke="#000" stroke-width="2"/>
<rect x="690.2" y="818.6" width="245.4" height="124.6" fill="#fff" stroke="#c4c4cc" stroke-width="1.2"/>
<polyline points="102.2,1366.6 103.2,1365.2 104.3,1363.8 105.3,1362.4 106.4,1361.0 107.4,1359.5 108.5,1358.1 109.5,1356.7 110.6,1355.3 111.6,1353.9 112.7,1352.4 113.7,1350.9 114.8,1349.4 115.8,1347.8 116.9,1346.1 117.9,1344.4 119.0,1342.6 120.0,1340.7 121.1,1338.6 122.1,1336.2 123.1,1333.9 124.2,1331.9 125.2,1330.0 126.3,1328.3 127.3,1326.6 128.4,1325.1 129.4,1323.6 130.5,1322.3 131.5,1321.1 132.6,1320.3 133.6,1319.6 134.7,1319.1 135.7,1318.5 136.8,1318.0 137.8,1317.6 138.9,1317.2 139.9,1316.7 141.0,1316.3 142.0,1315.9 143.0,1315.5 144.1,1315.1 145.1,1314.6 146.2,1314.2 147.2,1313.8 148.3,1313.3 149.3,1312.9 150.4,1312.5 151.4,1312.1 152.5,1311.7 153.5,1311.3 154.6,1310.9 155.6,1310.5 156.7,1310.1 157.7,1309.7 158.8,1309.3 159.8,1309.0 160.8,1308.6 161.9,1308.2 162.9,1307.9 164.0,1307.5 165.0,1307.1 166.1,1306.8 167.1,1306.4 168.2,1306.1 169.2,1305.8 170.3,1305.5 171.3,1305.2 172.4,1304.9 173.4,1304.6 174.5,1304.4 175.5,1304.1 176.6,1303.8 177.6,1303.6 178.7,1303.4 179.7,1303.1 180.7,1302.9 181.8,1302.7 182.8,1302.4 183.9,1302.2 184.9,1302.0 186.0,1301.8 187.0,1301.6 188.1,1301.4 189.1,1301.2 190.2,1301.0 191.2,1300.8 192.3,1300.6 193.3,1300.4 194.4,1300.2 195.4,1300.0 196.5,1299.9 197.5,1299.7 198.6,1299.5 199.6,1299.4 200.6,1299.2 201.7,1299.0 202.7,1298.9 203.8,1298.7 204.8,1298.5 205.9,1298.4 206.9,1298.2 208.0,1298.1 209.0,1297.9 210.1,1297.8 211.1,1297.7 212.2,1297.5 213.2,1297.4 214.3,1297.2 215.3,1297.1 216.4,1297.0 217.4,1296.8 218.5,1296.7 219.5,1296.6 220.5,1296.4 221.6,1296.3 222.6,1296.2 223.7,1296.0 224.7,1295.9 225.8,1295.8 226.8,1295.7 227.9,1295.6 228.9,1295.4 230.0,1295.3 231.0,1295.2 232.1,1295.1 233.1,1295.0 234.2,1294.8 235.2,1294.7 236.3,1294.6 237.3,1294.5 238.3,1294.4 239.4,1294.3 240.4,1294.2 241.5,1294.0 242.5,1293.9 243.6,1293.8 244.6,1293.7 245.7,1293.6 246.7,1293.5 247.8,1293.4 248.8,1293.3 249.9,1293.2 250.9,1293.1 252.0,1293.0 253.0,1292.9 254.1,1292.8 255.1,1292.7 256.2,1292.6 257.2,1292.5 258.2,1292.4 259.3,1292.3 260.3,1292.2 261.4,1292.1 262.4,1292.0 263.5,1291.9 264.5,1291.8 265.6,1291.7 266.6,1291.6 267.7,1291.5 268.7,1291.4 269.8,1291.3 270.8,1291.2 271.9,1291.1 272.9,1291.0 274.0,1290.9 275.0,1290.8 276.1,1290.8 277.1,1290.7 278.1,1290.6 279.2,1290.5 280.2,1290.4 281.3,1290.3 282.3,1290.2 283.4,1290.1 284.4,1290.1 285.5,1290.0 286.5,1289.9 287.6,1289.8 288.6,1289.7 289.7,1289.6 290.7,1289.6 291.8,1289.5 292.8,1289.4 293.9,1289.3 294.9,1289.2 296.0,1289.2 297.0,1289.1 298.0,1289.0 299.1,1288.9 300.1,1288.8 301.2,1288.8 302.2,1288.7 303.3,1288.6 304.3,1288.5 305.4,1288.5 306.4,1288.4 307.5,1288.3 308.5,1288.2 309.6,1288.2 310.6,1288.1 311.7,1288.0 312.7,1287.9 313.8,1287.9 314.8,1287.8 315.8,1287.7 316.9,1287.7 317.9,1287.6 319.0,1287.5 320.0,1287.5 321.1,1287.4 322.1,1287.3 323.2,1287.3 324.2,1287.2 325.3,1287.1 326.3,1287.1 327.4,1287.0 328.4,1286.9 329.5,1286.9 330.5,1286.8 331.6,1286.7 332.6,1286.7 333.7,1286.6 334.7,1286.5 335.7,1286.5 336.8,1286.4 337.8,1286.4 338.9,1286.3 339.9,1286.2 341.0,1286.2 342.0,1286.1 343.1,1286.1 344.1,1286.0 345.2,1285.9 346.2,1285.9 347.3,1285.8 348.3,1285.8 349.4,1285.7 350.4,1285.6 351.5,1285.6 352.5,1285.5 353.6,1285.5 354.6,1285.4 355.6,1285.4 356.7,1285.3 357.7,1285.3 358.8,1285.2 359.8,1285.2 360.9,1285.1 361.9,1285.0 363.0,1285.0 364.0,1284.9 365.1,1284.9 366.1,1284.8 367.2,1284.8 368.2,1284.7 369.3,1284.7 370.3,1284.6 371.4,1284.6 372.4,1284.5 373.5,1284.5 374.5,1284.4 375.5,1284.4 376.6,1284.3 377.6,1284.3 378.7,1284.3 379.7,1284.2 380.8,1284.2 381.8,1284.1 382.9,1284.1 383.9,1284.0 385.0,1284.0 386.0,1283.9 387.1,1283.9 388.1,1283.8 389.2,1283.8 390.2,1283.8 391.3,1283.7 392.3,1283.7 393.3,1283.6 394.4,1283.6 395.4,1283.5 396.5,1283.5 397.5,1283.5 398.6,1283.4 399.6,1283.4 400.7,1283.3 401.7,1283.3 402.8,1283.3 403.8,1283.2 404.9,1283.2 405.9,1283.2 407.0,1283.1 408.0,1283.1 409.1,1283.0 410.1,1283.0 411.2,1283.0 412.2,1282.9 413.2,1282.9 414.3,1282.9 415.3,1282.8 416.4,1282.8 417.4,1282.7 418.5,1282.7 419.5,1282.7 420.6,1282.6 421.6,1282.6 422.7,1282.6 423.7,1282.5 424.8,1282.5 425.8,1282.5 426.9,1282.4 427.9,1282.4 429.0,1282.4 430.0,1282.4 431.1,1282.3 432.1,1282.3 433.1,1282.3 434.2,1282.2 435.2,1282.2 436.3,1282.2 437.3,1282.1 438.4,1282.1 439.4,1282.1 440.5,1282.1 441.5,1282.0 442.6,1282.0 443.6,1282.0 444.7,1281.9 445.7,1281.9 446.8,1281.9 447.8,1281.9 448.9,1281.8 449.9,1281.8 451.0,1281.8 452.0,1281.8 453.0,1281.7 454.1,1281.7 455.1,1281.7 456.2,1281.7 457.2,1281.6 458.3,1281.6 459.3,1281.6 460.4,1281.6 461.4,1281.5 462.5,1281.5 463.5,1281.5 464.6,1281.5 465.6,1281.4 466.7,1281.4 467.7,1281.4 468.8,1281.4 469.8,1281.4 470.8,1281.3 471.9,1281.3 472.9,1281.3 474.0,1281.3 475.0,1281.3 476.1,1281.2 477.1,1281.2 478.2,1281.2 479.2,1281.2 480.3,1281.2 481.3,1281.1 482.4,1281.1 483.4,1281.1 484.5,1281.1 485.5,1281.1 486.6,1281.1 487.6,1281.0 488.7,1281.0 489.7,1281.0 490.7,1281.0 491.8,1281.0 492.8,1281.0 493.9,1280.9 494.9,1280.9 496.0,1280.9 497.0,1280.9 498.1,1280.9 499.1,1280.9 500.2,1280.9 501.2,1280.8 502.3,1280.8 503.3,1280.8 504.4,1280.8 505.4,1280.8 506.5,1280.8 507.5,1280.8 508.6,1280.8 509.6,1280.7 510.6,1280.7 511.7,1280.7 512.7,1280.7 513.8,1280.7 514.8,1280.7 515.9,1280.7 516.9,1280.7 518.0,1280.7 519.0,1280.7 520.1,1280.6 521.1,1280.6 522.2,1280.6 523.2,1280.6 524.3,1280.6 525.3,1280.6 526.4,1280.6 527.4,1280.6 528.5,1280.6 529.5,1280.6 530.5,1280.6 531.6,1280.6 532.6,1280.6 533.7,1280.5 534.7,1280.5 535.8,1280.5 536.8,1280.5 537.9,1280.5 538.9,1280.5 540.0,1280.5 541.0,1280.5 542.1,1280.5 543.1,1280.5 544.2,1280.5 545.2,1280.5 546.3,1280.5 547.3,1280.5 548.3,1280.5 549.4,1280.5 550.4,1280.5 551.5,1280.5 552.5,1280.5 553.6,1280.5 554.6,1280.5 555.7,1280.5 556.7,1280.5 557.8,1280.5 558.8,1280.5 559.9,1280.5 560.9,1280.5 562.0,1280.5 563.0,1280.5 564.1,1280.5 565.1,1280.5 566.2,1280.5 567.2,1280.5 568.2,1280.5 569.3,1280.5 570.3,1280.5 571.4,1280.5 572.4,1280.5 573.5,1280.5 574.5,1280.5 575.6,1280.5 576.6,1280.5 577.7,1280.5 578.7,1280.5 579.8,1280.5 580.8,1280.5 581.9,1280.5 582.9,1280.5 584.0,1280.5 585.0,1280.5 586.1,1280.5 587.1,1280.5 588.1,1280.5 589.2,1280.5 590.2,1280.5 591.3,1280.5 592.3,1280.5 593.4,1280.5 594.4,1280.5 595.5,1280.5 596.5,1280.5 597.6,1280.6 598.6,1280.6 599.7,1280.6 600.7,1280.6" fill="none" stroke="#000000" stroke-width="4.0" stroke-linejoin="round" stroke-linecap="round"/>
<g fill="#000000">
<path d="M102.2 1361.0L106.4 1366.6L102.2 1372.2L98.0 1366.6Z"/>
<path d="M109.9 1350.7L114.1 1356.3L109.9 1361.9L105.7 1356.3Z"/>
<path d="M117.5 1339.4L121.7 1345.0L117.5 1350.6L113.3 1345.0Z"/>
<path d="M125.2 1324.5L129.4 1330.1L125.2 1335.7L121.0 1330.1Z"/>
<path d="M132.9 1314.5L137.1 1320.1L132.9 1325.7L128.7 1320.1Z"/>
<path d="M140.5 1310.9L144.7 1316.5L140.5 1322.1L136.3 1316.5Z"/>
<path d="M148.2 1307.8L152.4 1313.4L148.2 1319.0L144.0 1313.4Z"/>
<path d="M155.9 1304.8L160.1 1310.4L155.9 1316.0L151.7 1310.4Z"/>
<path d="M163.6 1302.0L167.8 1307.6L163.6 1313.2L159.4 1307.6Z"/>
<path d="M171.2 1299.6L175.4 1305.2L171.2 1310.8L167.0 1305.2Z"/>
<path d="M178.9 1297.7L183.1 1303.3L178.9 1308.9L174.7 1303.3Z"/>
<path d="M186.6 1296.1L190.8 1301.7L186.6 1307.3L182.4 1301.7Z"/>
<path d="M194.2 1294.6L198.4 1300.2L194.2 1305.8L190.0 1300.2Z"/>
<path d="M201.9 1293.4L206.1 1299.0L201.9 1304.6L197.7 1299.0Z"/>
<path d="M209.6 1292.3L213.8 1297.9L209.6 1303.5L205.4 1297.9Z"/>
<path d="M217.2 1291.2L221.4 1296.8L217.2 1302.4L213.0 1296.8Z"/>
<path d="M224.9 1290.3L229.1 1295.9L224.9 1301.5L220.7 1295.9Z"/>
<path d="M232.6 1289.4L236.8 1295.0L232.6 1300.6L228.4 1295.0Z"/>
<path d="M240.3 1288.6L244.5 1294.2L240.3 1299.8L236.1 1294.2Z"/>
<path d="M247.9 1287.8L252.1 1293.4L247.9 1299.0L243.7 1293.4Z"/>
<path d="M255.6 1287.0L259.8 1292.6L255.6 1298.2L251.4 1292.6Z"/>
<path d="M263.3 1286.3L267.5 1291.9L263.3 1297.5L259.1 1291.9Z"/>
<path d="M270.9 1285.6L275.1 1291.2L270.9 1296.8L266.7 1291.2Z"/>
<path d="M278.6 1284.9L282.8 1290.5L278.6 1296.1L274.4 1290.5Z"/>
<path d="M286.3 1284.3L290.5 1289.9L286.3 1295.5L282.1 1289.9Z"/>
<path d="M293.9 1283.7L298.1 1289.3L293.9 1294.9L289.7 1289.3Z"/>
<path d="M301.6 1283.1L305.8 1288.7L301.6 1294.3L297.4 1288.7Z"/>
<path d="M309.3 1282.6L313.5 1288.2L309.3 1293.8L305.1 1288.2Z"/>
<path d="M316.9 1282.1L321.1 1287.7L316.9 1293.3L312.7 1287.7Z"/>
<path d="M324.6 1281.6L328.8 1287.2L324.6 1292.8L320.4 1287.2Z"/>
<path d="M332.3 1281.1L336.5 1286.7L332.3 1292.3L328.1 1286.7Z"/>
<path d="M340.0 1280.6L344.2 1286.2L340.0 1291.8L335.8 1286.2Z"/>
<path d="M347.6 1280.2L351.8 1285.8L347.6 1291.4L343.4 1285.8Z"/>
<path d="M355.3 1279.8L359.5 1285.4L355.3 1291.0L351.1 1285.4Z"/>
<path d="M363.0 1279.4L367.2 1285.0L363.0 1290.6L358.8 1285.0Z"/>
<path d="M370.6 1279.0L374.8 1284.6L370.6 1290.2L366.4 1284.6Z"/>
<path d="M378.3 1278.7L382.5 1284.3L378.3 1289.9L374.1 1284.3Z"/>
<path d="M386.0 1278.3L390.2 1283.9L386.0 1289.5L381.8 1283.9Z"/>
<path d="M393.6 1278.0L397.8 1283.6L393.6 1289.2L389.4 1283.6Z"/>
<path d="M401.3 1277.7L405.5 1283.3L401.3 1288.9L397.1 1283.3Z"/>
<path d="M409.0 1277.4L413.2 1283.0L409.0 1288.6L404.8 1283.0Z"/>
<path d="M416.6 1277.2L420.8 1282.8L416.6 1288.4L412.4 1282.8Z"/>
<path d="M424.3 1276.9L428.5 1282.5L424.3 1288.1L420.1 1282.5Z"/>
<path d="M432.0 1276.7L436.2 1282.3L432.0 1287.9L427.8 1282.3Z"/>
<path d="M439.7 1276.5L443.9 1282.1L439.7 1287.7L435.5 1282.1Z"/>
<path d="M447.3 1276.3L451.5 1281.9L447.3 1287.5L443.1 1281.9Z"/>
<path d="M455.0 1276.1L459.2 1281.7L455.0 1287.3L450.8 1281.7Z"/>
<path d="M462.7 1275.9L466.9 1281.5L462.7 1287.1L458.5 1281.5Z"/>
<path d="M470.3 1275.8L474.5 1281.4L470.3 1287.0L466.1 1281.4Z"/>
<path d="M478.0 1275.6L482.2 1281.2L478.0 1286.8L473.8 1281.2Z"/>
<path d="M485.7 1275.5L489.9 1281.1L485.7 1286.7L481.5 1281.1Z"/>
<path d="M493.3 1275.4L497.5 1281.0L493.3 1286.6L489.1 1281.0Z"/>
<path d="M501.0 1275.3L505.2 1280.9L501.0 1286.5L496.8 1280.9Z"/>
<path d="M508.7 1275.2L512.9 1280.8L508.7 1286.4L504.5 1280.8Z"/>
<path d="M516.4 1275.1L520.6 1280.7L516.4 1286.3L512.2 1280.7Z"/>
<path d="M524.0 1275.0L528.2 1280.6L524.0 1286.2L519.8 1280.6Z"/>
<path d="M531.7 1275.0L535.9 1280.6L531.7 1286.2L527.5 1280.6Z"/>
<path d="M539.4 1274.9L543.6 1280.5L539.4 1286.1L535.2 1280.5Z"/>
<path d="M547.0 1274.9L551.2 1280.5L547.0 1286.1L542.8 1280.5Z"/>
<path d="M554.7 1274.9L558.9 1280.5L554.7 1286.1L550.5 1280.5Z"/>
<path d="M562.4 1274.9L566.6 1280.5L562.4 1286.1L558.2 1280.5Z"/>
<path d="M570.0 1274.9L574.2 1280.5L570.0 1286.1L565.8 1280.5Z"/>
<path d="M577.7 1274.9L581.9 1280.5L577.7 1286.1L573.5 1280.5Z"/>
<path d="M585.4 1274.9L589.6 1280.5L585.4 1286.1L581.2 1280.5Z"/>
<path d="M593.0 1274.9L597.2 1280.5L593.0 1286.1L588.8 1280.5Z"/>
<path d="M600.7 1275.0L604.9 1280.6L600.7 1286.2L596.5 1280.6Z"/>
</g>
<polyline points="102.2,1366.6 103.2,1362.3 104.3,1358.2 105.3,1354.2 106.4,1350.5 107.4,1347.0 108.5,1343.8 109.5,1340.8 110.6,1337.9 111.6,1335.1 112.7,1332.4 113.7,1329.8 114.8,1327.2 115.8,1324.6 116.8,1322.1 117.9,1319.6 118.9,1317.2 120.0,1314.9 121.0,1312.7 122.1,1310.5 123.1,1308.4 124.2,1306.4 125.2,1304.5 126.3,1302.6 127.3,1300.8 128.4,1299.0 129.4,1297.2 130.4,1295.5 131.5,1293.9 132.5,1292.2 133.6,1290.6 134.6,1289.1 135.7,1287.6 136.7,1286.2 137.8,1284.7 138.8,1283.3 139.9,1281.9 140.9,1280.6 142.0,1279.2 143.0,1277.8 144.0,1276.5 145.1,1275.2 146.1,1273.9 147.2,1272.6 148.2,1271.3 149.3,1270.1 150.3,1268.8 151.4,1267.6 152.4,1266.3 153.5,1265.1 154.5,1263.9 155.6,1262.7 156.6,1261.5 157.6,1260.3 158.7,1259.1 159.7,1257.9 160.8,1256.8 161.8,1255.6 162.9,1254.5 163.9,1253.4 165.0,1252.3 166.0,1251.3 167.1,1250.3 168.1,1249.3 169.2,1248.3 170.2,1247.4 171.2,1246.4 172.3,1245.4 173.3,1244.5 174.4,1243.5 175.4,1242.6 176.5,1241.7 177.5,1240.8 178.6,1239.9 179.6,1239.0 180.7,1238.1 181.7,1237.2 182.8,1236.4 183.8,1235.6 184.8,1234.7 185.9,1233.9 186.9,1233.1 188.0,1232.3 189.0,1231.5 190.1,1230.7 191.1,1229.9 192.2,1229.1 193.2,1228.4 194.3,1227.6 195.3,1226.9 196.4,1226.1 197.4,1225.4 198.5,1224.7 199.5,1224.0 200.5,1223.3 201.6,1222.6 202.6,1221.9 203.7,1221.2 204.7,1220.5 205.8,1219.8 206.8,1219.1 207.9,1218.5 208.9,1217.8 210.0,1217.2 211.0,1216.5 212.1,1215.9 213.1,1215.3 214.1,1214.6 215.2,1214.0 216.2,1213.4 217.3,1212.8 218.3,1212.2 219.4,1211.6 220.4,1211.0 221.5,1210.4 222.5,1209.8 223.6,1209.2 224.6,1208.6 225.7,1208.0 226.7,1207.5 227.7,1206.9 228.8,1206.3 229.8,1205.8 230.9,1205.2 231.9,1204.7 233.0,1204.1 234.0,1203.6 235.1,1203.1 236.1,1202.5 237.2,1202.0 238.2,1201.5 239.3,1200.9 240.3,1200.4 241.3,1199.9 242.4,1199.4 243.4,1198.9 244.5,1198.4 245.5,1197.9 246.6,1197.4 247.6,1196.9 248.7,1196.4 249.7,1195.9 250.8,1195.4 251.8,1194.9 252.9,1194.4 253.9,1193.9 254.9,1193.5 256.0,1193.0 257.0,1192.5 258.1,1192.0 259.1,1191.6 260.2,1191.1 261.2,1190.7 262.3,1190.2 263.3,1189.7 264.4,1189.3 265.4,1188.8 266.5,1188.4 267.5,1187.9 268.5,1187.5 269.6,1187.0 270.6,1186.6 271.7,1186.2 272.7,1185.7 273.8,1185.3 274.8,1184.9 275.9,1184.4 276.9,1184.0 278.0,1183.6 279.0,1183.1 280.1,1182.7 281.1,1182.3 282.1,1181.9 283.2,1181.4 284.2,1181.0 285.3,1180.6 286.3,1180.2 287.4,1179.8 288.4,1179.4 289.5,1179.0 290.5,1178.6 291.6,1178.2 292.6,1177.8 293.7,1177.4 294.7,1176.9 295.7,1176.5 296.8,1176.2 297.8,1175.8 298.9,1175.4 299.9,1175.0 301.0,1174.6 302.0,1174.2 303.1,1173.8 304.1,1173.4 305.2,1173.0 306.2,1172.6 307.3,1172.2 308.3,1171.9 309.3,1171.5 310.4,1171.1 311.4,1170.7 312.5,1170.4 313.5,1170.0 314.6,1169.6 315.6,1169.2 316.7,1168.9 317.7,1168.5 318.8,1168.1 319.8,1167.8 320.9,1167.4 321.9,1167.0 322.9,1166.7 324.0,1166.3 325.0,1166.0 326.1,1165.6 327.1,1165.3 328.2,1164.9 329.2,1164.5 330.3,1164.2 331.3,1163.9 332.4,1163.5 333.4,1163.2 334.5,1162.8 335.5,1162.5 336.5,1162.1 337.6,1161.8 338.6,1161.5 339.7,1161.1 340.7,1160.8 341.8,1160.5 342.8,1160.1 343.9,1159.8 344.9,1159.5 346.0,1159.1 347.0,1158.8 348.1,1158.5 349.1,1158.2 350.1,1157.9 351.2,1157.5 352.2,1157.2 353.3,1156.9 354.3,1156.6 355.4,1156.3 356.4,1156.0 357.5,1155.7 358.5,1155.3 359.6,1155.0 360.6,1154.7 361.7,1154.4 362.7,1154.1 363.8,1153.8 364.8,1153.5 365.8,1153.2 366.9,1152.9 367.9,1152.7 369.0,1152.4 370.0,1152.1 371.1,1151.8 372.1,1151.5 373.2,1151.2 374.2,1150.9 375.3,1150.6 376.3,1150.4 377.4,1150.1 378.4,1149.8 379.4,1149.5 380.5,1149.3 381.5,1149.0 382.6,1148.7 383.6,1148.4 384.7,1148.2 385.7,1147.9 386.8,1147.6 387.8,1147.4 388.9,1147.1 389.9,1146.9 391.0,1146.6 392.0,1146.3 393.0,1146.1 394.1,1145.8 395.1,1145.6 396.2,1145.3 397.2,1145.1 398.3,1144.8 399.3,1144.6 400.4,1144.3 401.4,1144.1 402.5,1143.8 403.5,1143.6 404.6,1143.4 405.6,1143.1 406.6,1142.9 407.7,1142.7 408.7,1142.4 409.8,1142.2 410.8,1142.0 411.9,1141.7 412.9,1141.5 414.0,1141.3 415.0,1141.1 416.1,1140.8 417.1,1140.6 418.2,1140.4 419.2,1140.2 420.2,1140.0 421.3,1139.8 422.3,1139.5 423.4,1139.3 424.4,1139.1 425.5,1138.9 426.5,1138.7 427.6,1138.5 428.6,1138.3 429.7,1138.1 430.7,1137.9 431.8,1137.7 432.8,1137.5 433.8,1137.3 434.9,1137.1 435.9,1136.9 437.0,1136.7 438.0,1136.5 439.1,1136.4 440.1,1136.2 441.2,1136.0 442.2,1135.8 443.3,1135.6 444.3,1135.4 445.4,1135.3 446.4,1135.1 447.4,1134.9 448.5,1134.7 449.5,1134.6 450.6,1134.4 451.6,1134.2 452.7,1134.1 453.7,1133.9 454.8,1133.7 455.8,1133.6 456.9,1133.4 457.9,1133.2 459.0,1133.1 460.0,1132.9 461.0,1132.8 462.1,1132.6 463.1,1132.5 464.2,1132.3 465.2,1132.2 466.3,1132.0 467.3,1131.9 468.4,1131.7 469.4,1131.6 470.5,1131.4 471.5,1131.3 472.6,1131.2 473.6,1131.0 474.6,1130.9 475.7,1130.8 476.7,1130.6 477.8,1130.5 478.8,1130.4 479.9,1130.2 480.9,1130.1 482.0,1130.0 483.0,1129.8 484.1,1129.7 485.1,1129.6 486.2,1129.5 487.2,1129.4 488.2,1129.2 489.3,1129.1 490.3,1129.0 491.4,1128.9 492.4,1128.8 493.5,1128.7 494.5,1128.6 495.6,1128.4 496.6,1128.3 497.7,1128.2 498.7,1128.1 499.8,1128.0 500.8,1127.9 501.8,1127.8 502.9,1127.7 503.9,1127.6 505.0,1127.5 506.0,1127.4 507.1,1127.3 508.1,1127.2 509.2,1127.1 510.2,1127.0 511.3,1126.9 512.3,1126.8 513.4,1126.8 514.4,1126.7 515.4,1126.6 516.5,1126.5 517.5,1126.4 518.6,1126.3 519.6,1126.2 520.7,1126.1 521.7,1126.1 522.8,1126.0 523.8,1125.9 524.9,1125.8 525.9,1125.7 527.0,1125.7 528.0,1125.6 529.0,1125.5 530.1,1125.4 531.1,1125.4 532.2,1125.3 533.2,1125.2 534.3,1125.1 535.3,1125.1 536.4,1125.0 537.4,1124.9 538.5,1124.9 539.5,1124.8 540.6,1124.7 541.6,1124.7 542.7,1124.6 543.7,1124.5 544.7,1124.5 545.8,1124.4 546.8,1124.3 547.9,1124.3 548.9,1124.2 550.0,1124.1 551.0,1124.1 552.1,1124.0 553.1,1124.0 554.2,1123.9 555.2,1123.9 556.3,1123.8 557.3,1123.7 558.3,1123.7 559.4,1123.6 560.4,1123.6 561.5,1123.5 562.5,1123.5 563.6,1123.4 564.6,1123.4 565.7,1123.3 566.7,1123.3 567.8,1123.2 568.8,1123.2 569.9,1123.1 570.9,1123.1 571.9,1123.0 573.0,1123.0 574.0,1122.9 575.1,1122.9 576.1,1122.8 577.2,1122.8 578.2,1122.8 579.3,1122.7 580.3,1122.7 581.4,1122.6 582.4,1122.6 583.5,1122.5 584.5,1122.5 585.5,1122.5 586.6,1122.4 587.6,1122.4 588.7,1122.3 589.7,1122.3 590.8,1122.3 591.8,1122.2 592.9,1122.2 593.9,1122.1 595.0,1122.1 596.0,1122.1 597.1,1122.0 598.1,1122.0 599.1,1122.0 600.2,1121.9 601.2,1121.9 602.3,1121.9 603.3,1121.8 604.4,1121.8 605.4,1121.8 606.5,1121.7 607.5,1121.7 608.6,1121.7 609.6,1121.6 610.7,1121.6 611.7,1121.6 612.7,1121.5 613.8,1121.5 614.8,1121.5 615.9,1121.5 616.9,1121.4 618.0,1121.4 619.0,1121.4 620.1,1121.3 621.1,1121.3 622.2,1121.3 623.2,1121.3 624.3,1121.2 625.3,1121.2 626.3,1121.2 627.4,1121.1 628.4,1121.1 629.5,1121.1 630.5,1121.1 631.6,1121.0 632.6,1121.0 633.7,1121.0 634.7,1121.0 635.8,1120.9 636.8,1120.9 637.9,1120.9 638.9,1120.9 639.9,1120.8 641.0,1120.8 642.0,1120.8 643.1,1120.8 644.1,1120.8 645.2,1120.7 646.2,1120.7 647.3,1120.7 648.3,1120.7 649.4,1120.6 650.4,1120.6 651.5,1120.6 652.5,1120.6 653.5,1120.6 654.6,1120.5 655.6,1120.5 656.7,1120.5 657.7,1120.5 658.8,1120.5 659.8,1120.4 660.9,1120.4 661.9,1120.4 663.0,1120.4 664.0,1120.3 665.1,1120.3 666.1,1120.3 667.1,1120.3 668.2,1120.3 669.2,1120.2 670.3,1120.2 671.3,1120.2 672.4,1120.2 673.4,1120.2 674.5,1120.1 675.5,1120.1 676.6,1120.1 677.6,1120.1 678.7,1120.1 679.7,1120.1 680.7,1120.0 681.8,1120.0 682.8,1120.0 683.9,1120.0 684.9,1120.0 686.0,1119.9 687.0,1119.9 688.1,1119.9 689.1,1119.9 690.2,1119.9 691.2,1119.8 692.3,1119.8 693.3,1119.8 694.3,1119.8 695.4,1119.8 696.4,1119.7 697.5,1119.7 698.5,1119.7 699.6,1119.7 700.6,1119.7 701.7,1119.6 702.7,1119.6 703.8,1119.6 704.8,1119.6 705.9,1119.6 706.9,1119.5 707.9,1119.5 709.0,1119.5 710.0,1119.5 711.1,1119.5 712.1,1119.5 713.2,1119.4 714.2,1119.4 715.3,1119.4 716.3,1119.4 717.4,1119.3 718.4,1119.3 719.5,1119.3 720.5,1119.3 721.6,1119.3 722.6,1119.2 723.6,1119.2" fill="none" stroke="#ff1010" stroke-width="4.0" stroke-linejoin="round" stroke-linecap="round"/>
<g fill="#ff1010">
<path d="M98.2 1366.6L106.2 1360.9L106.2 1372.3Z"/>
<path d="M105.9 1339.8L113.9 1334.1L113.9 1345.5Z"/>
<path d="M113.5 1320.5L121.5 1314.8L121.5 1326.2Z"/>
<path d="M121.2 1304.5L129.2 1298.8L129.2 1310.2Z"/>
<path d="M128.9 1291.7L136.9 1286.0L136.9 1297.4Z"/>
<path d="M136.6 1281.0L144.6 1275.3L144.6 1286.7Z"/>
<path d="M144.2 1271.3L152.2 1265.6L152.2 1277.0Z"/>
<path d="M151.9 1262.3L159.9 1256.6L159.9 1268.0Z"/>
<path d="M159.6 1253.8L167.6 1248.1L167.6 1259.5Z"/>
<path d="M167.2 1246.4L175.2 1240.7L175.2 1252.1Z"/>
<path d="M174.9 1239.6L182.9 1233.9L182.9 1245.3Z"/>
<path d="M182.6 1233.4L190.6 1227.7L190.6 1239.1Z"/>
<path d="M190.3 1227.6L198.3 1221.9L198.3 1233.3Z"/>
<path d="M197.9 1222.3L205.9 1216.6L205.9 1228.0Z"/>
<path d="M205.6 1217.4L213.6 1211.7L213.6 1223.1Z"/>
<path d="M213.3 1212.8L221.3 1207.1L221.3 1218.5Z"/>
<path d="M221.0 1208.4L229.0 1202.7L229.0 1214.1Z"/>
<path d="M228.6 1204.3L236.6 1198.6L236.6 1210.0Z"/>
<path d="M236.3 1200.4L244.3 1194.7L244.3 1206.1Z"/>
<path d="M244.0 1196.7L252.0 1191.0L252.0 1202.4Z"/>
<path d="M251.6 1193.1L259.6 1187.4L259.6 1198.8Z"/>
<path d="M259.3 1189.7L267.3 1184.0L267.3 1195.4Z"/>
<path d="M267.0 1186.5L275.0 1180.8L275.0 1192.2Z"/>
<path d="M274.7 1183.3L282.7 1177.6L282.7 1189.0Z"/>
<path d="M282.3 1180.2L290.3 1174.5L290.3 1185.9Z"/>
<path d="M290.0 1177.2L298.0 1171.5L298.0 1182.9Z"/>
<path d="M297.7 1174.3L305.7 1168.6L305.7 1180.0Z"/>
<path d="M305.3 1171.5L313.3 1165.8L313.3 1177.2Z"/>
<path d="M313.0 1168.7L321.0 1163.0L321.0 1174.4Z"/>
<path d="M320.7 1166.1L328.7 1160.4L328.7 1171.8Z"/>
<path d="M328.4 1163.5L336.4 1157.8L336.4 1169.2Z"/>
<path d="M336.0 1161.0L344.0 1155.3L344.0 1166.7Z"/>
<path d="M343.7 1158.6L351.7 1152.9L351.7 1164.3Z"/>
<path d="M351.4 1156.3L359.4 1150.6L359.4 1162.0Z"/>
<path d="M359.1 1154.0L367.1 1148.3L367.1 1159.7Z"/>
<path d="M366.7 1151.9L374.7 1146.2L374.7 1157.6Z"/>
<path d="M374.4 1149.8L382.4 1144.1L382.4 1155.5Z"/>
<path d="M382.1 1147.8L390.1 1142.1L390.1 1153.5Z"/>
<path d="M389.7 1145.9L397.7 1140.2L397.7 1151.6Z"/>
<path d="M397.4 1144.1L405.4 1138.4L405.4 1149.8Z"/>
<path d="M405.1 1142.4L413.1 1136.7L413.1 1148.1Z"/>
<path d="M412.8 1140.7L420.8 1135.0L420.8 1146.4Z"/>
<path d="M420.4 1139.1L428.4 1133.4L428.4 1144.8Z"/>
<path d="M428.1 1137.6L436.1 1131.9L436.1 1143.3Z"/>
<path d="M435.8 1136.2L443.8 1130.5L443.8 1141.9Z"/>
<path d="M443.4 1134.9L451.4 1129.2L451.4 1140.6Z"/>
<path d="M451.1 1133.7L459.1 1128.0L459.1 1139.4Z"/>
<path d="M458.8 1132.5L466.8 1126.8L466.8 1138.2Z"/>
<path d="M466.5 1131.4L474.5 1125.7L474.5 1137.1Z"/>
<path d="M474.1 1130.4L482.1 1124.7L482.1 1136.1Z"/>
<path d="M481.8 1129.5L489.8 1123.8L489.8 1135.2Z"/>
<path d="M489.5 1128.7L497.5 1123.0L497.5 1134.4Z"/>
<path d="M497.2 1127.9L505.2 1122.2L505.2 1133.6Z"/>
<path d="M504.8 1127.2L512.8 1121.5L512.8 1132.9Z"/>
<path d="M512.5 1126.5L520.5 1120.8L520.5 1132.2Z"/>
<path d="M520.2 1125.9L528.2 1120.2L528.2 1131.6Z"/>
<path d="M527.8 1125.3L535.8 1119.6L535.8 1131.0Z"/>
<path d="M535.5 1124.8L543.5 1119.1L543.5 1130.5Z"/>
<path d="M543.2 1124.3L551.2 1118.6L551.2 1130.0Z"/>
<path d="M550.9 1123.9L558.9 1118.2L558.9 1129.6Z"/>
<path d="M558.5 1123.5L566.5 1117.8L566.5 1129.2Z"/>
<path d="M566.2 1123.1L574.2 1117.4L574.2 1128.8Z"/>
<path d="M573.9 1122.8L581.9 1117.1L581.9 1128.5Z"/>
<path d="M581.5 1122.5L589.5 1116.8L589.5 1128.2Z"/>
<path d="M589.2 1122.2L597.2 1116.5L597.2 1127.9Z"/>
<path d="M596.9 1121.9L604.9 1116.2L604.9 1127.6Z"/>
<path d="M604.6 1121.7L612.6 1116.0L612.6 1127.4Z"/>
<path d="M612.2 1121.4L620.2 1115.7L620.2 1127.1Z"/>
<path d="M619.9 1121.2L627.9 1115.5L627.9 1126.9Z"/>
<path d="M627.6 1121.0L635.6 1115.3L635.6 1126.7Z"/>
<path d="M635.2 1120.9L643.2 1115.2L643.2 1126.6Z"/>
<path d="M642.9 1120.7L650.9 1115.0L650.9 1126.4Z"/>
<path d="M650.6 1120.5L658.6 1114.8L658.6 1126.2Z"/>
<path d="M658.3 1120.4L666.3 1114.7L666.3 1126.1Z"/>
<path d="M665.9 1120.2L673.9 1114.5L673.9 1125.9Z"/>
<path d="M673.6 1120.1L681.6 1114.4L681.6 1125.8Z"/>
<path d="M681.3 1119.9L689.3 1114.2L689.3 1125.6Z"/>
<path d="M689.0 1119.8L697.0 1114.1L697.0 1125.5Z"/>
<path d="M696.6 1119.7L704.6 1114.0L704.6 1125.4Z"/>
<path d="M704.3 1119.5L712.3 1113.8L712.3 1125.2Z"/>
<path d="M712.0 1119.4L720.0 1113.7L720.0 1125.1Z"/>
<path d="M719.6 1119.2L727.6 1113.5L727.6 1124.9Z"/>
</g>
<polyline points="102.2,1366.6 103.2,1363.5 104.3,1360.6 105.3,1357.7 106.4,1355.0 107.4,1352.5 108.5,1350.2 109.5,1347.9 110.6,1345.7 111.6,1343.6 112.7,1341.6 113.7,1339.6 114.8,1337.7 115.8,1335.8 116.8,1334.0 117.9,1332.3 118.9,1330.6 120.0,1329.0 121.0,1327.5 122.1,1326.0 123.1,1324.6 124.2,1323.2 125.2,1321.9 126.3,1320.6 127.3,1319.3 128.4,1318.1 129.4,1316.8 130.4,1315.5 131.5,1314.2 132.5,1312.9 133.6,1311.5 134.6,1310.1 135.7,1308.7 136.7,1307.2 137.8,1305.8 138.8,1304.4 139.9,1303.0 140.9,1301.6 142.0,1300.3 143.0,1299.1 144.0,1297.9 145.1,1296.7 146.1,1295.5 147.2,1294.3 148.2,1293.2 149.3,1292.1 150.3,1291.0 151.4,1289.9 152.4,1288.9 153.5,1287.9 154.5,1286.9 155.6,1285.9 156.6,1284.9 157.6,1284.0 158.7,1283.1 159.7,1282.2 160.8,1281.3 161.8,1280.5 162.9,1279.6 163.9,1278.8 165.0,1277.9 166.0,1277.1 167.1,1276.3 168.1,1275.4 169.2,1274.6 170.2,1273.8 171.2,1273.0 172.3,1272.2 173.3,1271.4 174.4,1270.6 175.4,1269.8 176.5,1269.1 177.5,1268.3 178.6,1267.5 179.6,1266.8 180.7,1266.1 181.7,1265.3 182.8,1264.6 183.8,1263.9 184.8,1263.2 185.9,1262.5 186.9,1261.8 188.0,1261.1 189.0,1260.5 190.1,1259.8 191.1,1259.1 192.2,1258.5 193.2,1257.8 194.3,1257.2 195.3,1256.6 196.4,1255.9 197.4,1255.3 198.5,1254.7 199.5,1254.1 200.5,1253.5 201.6,1252.9 202.6,1252.3 203.7,1251.7 204.7,1251.1 205.8,1250.5 206.8,1250.0 207.9,1249.4 208.9,1248.8 210.0,1248.3 211.0,1247.7 212.1,1247.2 213.1,1246.6 214.1,1246.1 215.2,1245.6 216.2,1245.0 217.3,1244.5 218.3,1244.0 219.4,1243.5 220.4,1243.0 221.5,1242.5 222.5,1242.0 223.6,1241.5 224.6,1241.0 225.7,1240.5 226.7,1240.0 227.7,1239.5 228.8,1239.0 229.8,1238.6 230.9,1238.1 231.9,1237.6 233.0,1237.2 234.0,1236.7 235.1,1236.2 236.1,1235.8 237.2,1235.3 238.2,1234.9 239.3,1234.5 240.3,1234.0 241.3,1233.6 242.4,1233.2 243.4,1232.7 244.5,1232.3 245.5,1231.9 246.6,1231.5 247.6,1231.0 248.7,1230.6 249.7,1230.2 250.8,1229.8 251.8,1229.4 252.9,1229.0 253.9,1228.6 254.9,1228.2 256.0,1227.8 257.0,1227.4 258.1,1227.0 259.1,1226.7 260.2,1226.3 261.2,1225.9 262.3,1225.5 263.3,1225.1 264.4,1224.8 265.4,1224.4 266.5,1224.0 267.5,1223.6 268.5,1223.3 269.6,1222.9 270.6,1222.5 271.7,1222.2 272.7,1221.8 273.8,1221.4 274.8,1221.1 275.9,1220.7 276.9,1220.4 278.0,1220.0 279.0,1219.6 280.1,1219.3 281.1,1218.9 282.1,1218.6 283.2,1218.2 284.2,1217.9 285.3,1217.5 286.3,1217.2 287.4,1216.8 288.4,1216.5 289.5,1216.1 290.5,1215.8 291.6,1215.4 292.6,1215.1 293.7,1214.7 294.7,1214.4 295.7,1214.0 296.8,1213.7 297.8,1213.3 298.9,1213.0 299.9,1212.6 301.0,1212.3 302.0,1211.9 303.1,1211.6 304.1,1211.2 305.2,1210.9 306.2,1210.5 307.3,1210.2 308.3,1209.8 309.3,1209.5 310.4,1209.1 311.4,1208.7 312.5,1208.4 313.5,1208.0 314.6,1207.7 315.6,1207.3 316.7,1207.0 317.7,1206.6 318.8,1206.3 319.8,1205.9 320.9,1205.6 321.9,1205.2 322.9,1204.8 324.0,1204.5 325.0,1204.1 326.1,1203.8 327.1,1203.4 328.2,1203.1 329.2,1202.7 330.3,1202.4 331.3,1202.0 332.4,1201.7 333.4,1201.3 334.5,1201.0 335.5,1200.6 336.5,1200.3 337.6,1199.9 338.6,1199.6 339.7,1199.2 340.7,1198.9 341.8,1198.5 342.8,1198.2 343.9,1197.9 344.9,1197.5 346.0,1197.2 347.0,1196.8 348.1,1196.5 349.1,1196.2 350.1,1195.8 351.2,1195.5 352.2,1195.2 353.3,1194.8 354.3,1194.5 355.4,1194.2 356.4,1193.9 357.5,1193.5 358.5,1193.2 359.6,1192.9 360.6,1192.6 361.7,1192.3 362.7,1191.9 363.8,1191.6 364.8,1191.3 365.8,1191.0 366.9,1190.7 367.9,1190.4 369.0,1190.1 370.0,1189.8 371.1,1189.5 372.1,1189.2 373.2,1188.9 374.2,1188.6 375.3,1188.3 376.3,1188.0 377.4,1187.7 378.4,1187.4 379.4,1187.1 380.5,1186.9 381.5,1186.6 382.6,1186.3 383.6,1186.0 384.7,1185.7 385.7,1185.4 386.8,1185.1 387.8,1184.9 388.9,1184.6 389.9,1184.3 391.0,1184.0 392.0,1183.8 393.0,1183.5 394.1,1183.2 395.1,1182.9 396.2,1182.7 397.2,1182.4 398.3,1182.1 399.3,1181.9 400.4,1181.6 401.4,1181.3 402.5,1181.1 403.5,1180.8 404.6,1180.5 405.6,1180.3 406.6,1180.0 407.7,1179.8 408.7,1179.5 409.8,1179.2 410.8,1179.0 411.9,1178.7 412.9,1178.5 414.0,1178.2 415.0,1178.0 416.1,1177.7 417.1,1177.5 418.2,1177.2 419.2,1177.0 420.2,1176.7 421.3,1176.4 422.3,1176.2 423.4,1175.9 424.4,1175.7 425.5,1175.5 426.5,1175.2 427.6,1175.0 428.6,1174.7 429.7,1174.5 430.7,1174.2 431.8,1174.0 432.8,1173.7 433.8,1173.5 434.9,1173.3 435.9,1173.0 437.0,1172.8 438.0,1172.5 439.1,1172.3 440.1,1172.1 441.2,1171.8 442.2,1171.6 443.3,1171.3 444.3,1171.1 445.4,1170.9 446.4,1170.6 447.4,1170.4 448.5,1170.2 449.5,1169.9 450.6,1169.7 451.6,1169.5 452.7,1169.3 453.7,1169.0 454.8,1168.8 455.8,1168.6 456.9,1168.3 457.9,1168.1 459.0,1167.9 460.0,1167.7 461.0,1167.4 462.1,1167.2 463.1,1167.0 464.2,1166.8 465.2,1166.6 466.3,1166.3 467.3,1166.1 468.4,1165.9 469.4,1165.7 470.5,1165.5 471.5,1165.2 472.6,1165.0 473.6,1164.8 474.6,1164.6 475.7,1164.4 476.7,1164.2 477.8,1164.0 478.8,1163.7 479.9,1163.5 480.9,1163.3 482.0,1163.1 483.0,1162.9 484.1,1162.7 485.1,1162.5 486.2,1162.3 487.2,1162.1 488.2,1161.9 489.3,1161.7 490.3,1161.5 491.4,1161.3 492.4,1161.1 493.5,1160.9 494.5,1160.6 495.6,1160.4 496.6,1160.2 497.7,1160.0 498.7,1159.9 499.8,1159.7 500.8,1159.5 501.8,1159.3 502.9,1159.1 503.9,1158.9 505.0,1158.7 506.0,1158.5 507.1,1158.3 508.1,1158.1 509.2,1157.9 510.2,1157.7 511.3,1157.5 512.3,1157.3 513.4,1157.1 514.4,1157.0 515.4,1156.8 516.5,1156.6 517.5,1156.4 518.6,1156.2 519.6,1156.0 520.7,1155.8 521.7,1155.7 522.8,1155.5 523.8,1155.3 524.9,1155.1 525.9,1154.9 527.0,1154.8 528.0,1154.6 529.0,1154.4 530.1,1154.2 531.1,1154.0 532.2,1153.9 533.2,1153.7 534.3,1153.5 535.3,1153.3 536.4,1153.2 537.4,1153.0 538.5,1152.8 539.5,1152.7 540.6,1152.5 541.6,1152.3 542.7,1152.1 543.7,1152.0 544.7,1151.8 545.8,1151.6 546.8,1151.5 547.9,1151.3 548.9,1151.1 550.0,1151.0 551.0,1150.8 552.1,1150.7 553.1,1150.5 554.2,1150.3 555.2,1150.2 556.3,1150.0 557.3,1149.8 558.3,1149.7 559.4,1149.5 560.4,1149.4 561.5,1149.2 562.5,1149.1 563.6,1148.9 564.6,1148.8 565.7,1148.6 566.7,1148.4 567.8,1148.3 568.8,1148.1 569.9,1148.0 570.9,1147.8 571.9,1147.7 573.0,1147.5 574.0,1147.4 575.1,1147.2 576.1,1147.1 577.2,1147.0 578.2,1146.8 579.3,1146.7 580.3,1146.5 581.4,1146.4 582.4,1146.2 583.5,1146.1 584.5,1145.9 585.5,1145.8 586.6,1145.7 587.6,1145.5 588.7,1145.4 589.7,1145.3 590.8,1145.1 591.8,1145.0 592.9,1144.8 593.9,1144.7 595.0,1144.6 596.0,1144.4 597.1,1144.3 598.1,1144.2 599.1,1144.0 600.2,1143.9 601.2,1143.8 602.3,1143.7 603.3,1143.5 604.4,1143.4 605.4,1143.3 606.5,1143.1 607.5,1143.0 608.6,1142.9 609.6,1142.8 610.7,1142.6 611.7,1142.5 612.7,1142.4 613.8,1142.3 614.8,1142.1 615.9,1142.0 616.9,1141.9 618.0,1141.8 619.0,1141.7 620.1,1141.5 621.1,1141.4 622.2,1141.3 623.2,1141.2 624.3,1141.1 625.3,1141.0 626.3,1140.9 627.4,1140.7 628.4,1140.6 629.5,1140.5 630.5,1140.4 631.6,1140.3 632.6,1140.2 633.7,1140.1 634.7,1140.0 635.8,1139.9 636.8,1139.8 637.9,1139.6 638.9,1139.5 639.9,1139.4 641.0,1139.3 642.0,1139.2 643.1,1139.1 644.1,1139.0 645.2,1138.9 646.2,1138.8 647.3,1138.7 648.3,1138.6 649.4,1138.5 650.4,1138.4 651.5,1138.3 652.5,1138.2 653.5,1138.1 654.6,1138.0 655.6,1137.9 656.7,1137.8 657.7,1137.7 658.8,1137.7 659.8,1137.6 660.9,1137.5 661.9,1137.4 663.0,1137.3 664.0,1137.2 665.1,1137.1 666.1,1137.0 667.1,1136.9 668.2,1136.8 669.2,1136.8 670.3,1136.7 671.3,1136.6 672.4,1136.5 673.4,1136.4 674.5,1136.3 675.5,1136.3 676.6,1136.2 677.6,1136.1 678.7,1136.0 679.7,1135.9 680.7,1135.9 681.8,1135.8 682.8,1135.7 683.9,1135.6 684.9,1135.5 686.0,1135.5 687.0,1135.4 688.1,1135.3 689.1,1135.2 690.2,1135.2 691.2,1135.1 692.3,1135.0 693.3,1135.0 694.3,1134.9 695.4,1134.8 696.4,1134.7 697.5,1134.7 698.5,1134.6 699.6,1134.5 700.6,1134.5 701.7,1134.4 702.7,1134.3 703.8,1134.3 704.8,1134.2 705.9,1134.2 706.9,1134.1 707.9,1134.0 709.0,1134.0 710.0,1133.9 711.1,1133.8 712.1,1133.8 713.2,1133.7 714.2,1133.7 715.3,1133.6 716.3,1133.6 717.4,1133.5 718.4,1133.4 719.5,1133.4 720.5,1133.4 721.6,1133.3 722.6,1133.3 723.6,1133.3 724.7,1133.3 725.7,1133.3 726.8,1133.2 727.8,1133.2 728.9,1133.2 729.9,1133.1 731.0,1133.1 732.0,1133.0 733.1,1132.9 734.1,1132.9 735.2,1132.8 736.2,1132.7 737.2,1132.6 738.3,1132.4 739.3,1132.3 740.4,1132.2 741.4,1132.1 742.5,1131.9 743.5,1131.8 744.6,1131.7 745.6,1131.6 746.7,1131.6 747.7,1131.6 748.8,1131.6 749.8,1131.6 750.8,1131.6 751.9,1131.5 752.9,1131.5 754.0,1131.5 755.0,1131.5 756.1,1131.5 757.1,1131.5 758.2,1131.5 759.2,1131.5 760.3,1131.5 761.3,1131.5 762.4,1131.5 763.4,1131.5 764.4,1131.5 765.5,1131.5 766.5,1131.5 767.6,1131.5 768.6,1131.5 769.7,1131.5 770.7,1131.4 771.8,1131.4 772.8,1131.4 773.9,1131.4 774.9,1131.3 776.0,1131.2 777.0,1131.1 778.0,1130.9 779.1,1130.8 780.1,1130.7 781.2,1130.5 782.2,1130.3 783.3,1130.2 784.3,1130.0 785.4,1129.9 786.4,1129.7 787.5,1129.6 788.5,1129.5 789.6,1129.4 790.6,1129.3 791.6,1129.3 792.7,1129.2 793.7,1129.2 794.8,1129.3 795.8,1129.4 796.9,1129.6 797.9,1129.8 799.0,1130.0 800.0,1130.3 801.1,1130.5 802.1,1130.8 803.2,1131.1 804.2,1131.4 805.2,1131.6 806.3,1131.9 807.3,1132.1 808.4,1132.2 809.4,1132.4 810.5,1132.5 811.5,1132.6 812.6,1132.7 813.6,1132.7 814.7,1132.8 815.7,1132.8 816.8,1132.8 817.8,1132.6 818.8,1132.3 819.9,1131.9 820.9,1131.5 822.0,1131.0 823.0,1130.6 824.1,1130.2 825.1,1130.0 826.2,1129.9 827.2,1129.9 828.3,1129.9 829.3,1129.9 830.4,1129.9 831.4,1129.9 832.4,1129.9 833.5,1129.9 834.5,1129.9 835.6,1129.9 836.6,1129.9 837.7,1129.9 838.7,1129.9 839.8,1129.9 840.8,1129.9 841.9,1129.9 842.9,1129.9 844.0,1129.9 845.0,1129.9 846.0,1130.0 847.1,1130.0 848.1,1130.1 849.2,1130.2 850.2,1130.3 851.3,1130.4 852.3,1130.5 853.4,1130.7 854.4,1130.8 855.5,1130.9 856.5,1131.1" fill="none" stroke="#0a0aff" stroke-width="4.0" stroke-linejoin="round" stroke-linecap="round"/>
<g fill="#0a0aff">
<circle cx="102.2" cy="1366.6" r="4.30"/><circle cx="101.2" cy="1365.6" r="0.8" fill="#b4b4ff"/>
<circle cx="109.9" cy="1347.1" r="4.30"/><circle cx="108.9" cy="1346.1" r="0.8" fill="#b4b4ff"/>
<circle cx="117.6" cy="1332.8" r="4.30"/><circle cx="116.6" cy="1331.8" r="0.8" fill="#b4b4ff"/>
<circle cx="125.3" cy="1321.8" r="4.30"/><circle cx="124.3" cy="1320.8" r="0.8" fill="#b4b4ff"/>
<circle cx="133.0" cy="1312.3" r="4.30"/><circle cx="132.0" cy="1311.3" r="0.8" fill="#b4b4ff"/>
<circle cx="140.7" cy="1301.9" r="4.30"/><circle cx="139.7" cy="1300.9" r="0.8" fill="#b4b4ff"/>
<circle cx="148.4" cy="1293.0" r="4.30"/><circle cx="147.4" cy="1292.0" r="0.8" fill="#b4b4ff"/>
<circle cx="156.1" cy="1285.4" r="4.30"/><circle cx="155.1" cy="1284.4" r="0.8" fill="#b4b4ff"/>
<circle cx="163.8" cy="1278.9" r="4.30"/><circle cx="162.8" cy="1277.9" r="0.8" fill="#b4b4ff"/>
<circle cx="171.5" cy="1272.8" r="4.30"/><circle cx="170.5" cy="1271.8" r="0.8" fill="#b4b4ff"/>
<circle cx="179.2" cy="1267.1" r="4.30"/><circle cx="178.2" cy="1266.1" r="0.8" fill="#b4b4ff"/>
<circle cx="186.9" cy="1261.8" r="4.30"/><circle cx="185.9" cy="1260.8" r="0.8" fill="#b4b4ff"/>
<circle cx="194.6" cy="1257.0" r="4.30"/><circle cx="193.6" cy="1256.0" r="0.8" fill="#b4b4ff"/>
<circle cx="202.3" cy="1252.5" r="4.30"/><circle cx="201.3" cy="1251.5" r="0.8" fill="#b4b4ff"/>
<circle cx="210.0" cy="1248.2" r="4.30"/><circle cx="209.0" cy="1247.2" r="0.8" fill="#b4b4ff"/>
<circle cx="217.7" cy="1244.3" r="4.30"/><circle cx="216.7" cy="1243.3" r="0.8" fill="#b4b4ff"/>
<circle cx="225.4" cy="1240.6" r="4.30"/><circle cx="224.4" cy="1239.6" r="0.8" fill="#b4b4ff"/>
<circle cx="233.1" cy="1237.1" r="4.30"/><circle cx="232.1" cy="1236.1" r="0.8" fill="#b4b4ff"/>
<circle cx="240.8" cy="1233.8" r="4.30"/><circle cx="239.8" cy="1232.8" r="0.8" fill="#b4b4ff"/>
<circle cx="248.5" cy="1230.7" r="4.30"/><circle cx="247.5" cy="1229.7" r="0.8" fill="#b4b4ff"/>
<circle cx="256.2" cy="1227.7" r="4.30"/><circle cx="255.2" cy="1226.7" r="0.8" fill="#b4b4ff"/>
<circle cx="263.9" cy="1224.9" r="4.30"/><circle cx="262.9" cy="1223.9" r="0.8" fill="#b4b4ff"/>
<circle cx="271.7" cy="1222.2" r="4.30"/><circle cx="270.7" cy="1221.2" r="0.8" fill="#b4b4ff"/>
<circle cx="279.4" cy="1219.5" r="4.30"/><circle cx="278.4" cy="1218.5" r="0.8" fill="#b4b4ff"/>
<circle cx="287.1" cy="1216.9" r="4.30"/><circle cx="286.1" cy="1215.9" r="0.8" fill="#b4b4ff"/>
<circle cx="294.8" cy="1214.3" r="4.30"/><circle cx="293.8" cy="1213.3" r="0.8" fill="#b4b4ff"/>
<circle cx="302.5" cy="1211.8" r="4.30"/><circle cx="301.5" cy="1210.8" r="0.8" fill="#b4b4ff"/>
<circle cx="310.2" cy="1209.2" r="4.30"/><circle cx="309.2" cy="1208.2" r="0.8" fill="#b4b4ff"/>
<circle cx="317.9" cy="1206.6" r="4.30"/><circle cx="316.9" cy="1205.6" r="0.8" fill="#b4b4ff"/>
<circle cx="325.6" cy="1204.0" r="4.30"/><circle cx="324.6" cy="1203.0" r="0.8" fill="#b4b4ff"/>
<circle cx="333.3" cy="1201.4" r="4.30"/><circle cx="332.3" cy="1200.4" r="0.8" fill="#b4b4ff"/>
<circle cx="341.0" cy="1198.8" r="4.30"/><circle cx="340.0" cy="1197.8" r="0.8" fill="#b4b4ff"/>
<circle cx="348.7" cy="1196.3" r="4.30"/><circle cx="347.7" cy="1195.3" r="0.8" fill="#b4b4ff"/>
<circle cx="356.4" cy="1193.9" r="4.30"/><circle cx="355.4" cy="1192.9" r="0.8" fill="#b4b4ff"/>
<circle cx="364.1" cy="1191.5" r="4.30"/><circle cx="363.1" cy="1190.5" r="0.8" fill="#b4b4ff"/>
<circle cx="371.8" cy="1189.3" r="4.30"/><circle cx="370.8" cy="1188.3" r="0.8" fill="#b4b4ff"/>
<circle cx="379.5" cy="1187.1" r="4.30"/><circle cx="378.5" cy="1186.1" r="0.8" fill="#b4b4ff"/>
<circle cx="387.2" cy="1185.0" r="4.30"/><circle cx="386.2" cy="1184.0" r="0.8" fill="#b4b4ff"/>
<circle cx="394.9" cy="1183.0" r="4.30"/><circle cx="393.9" cy="1182.0" r="0.8" fill="#b4b4ff"/>
<circle cx="402.6" cy="1181.0" r="4.30"/><circle cx="401.6" cy="1180.0" r="0.8" fill="#b4b4ff"/>
<circle cx="410.3" cy="1179.1" r="4.30"/><circle cx="409.3" cy="1178.1" r="0.8" fill="#b4b4ff"/>
<circle cx="418.0" cy="1177.2" r="4.30"/><circle cx="417.0" cy="1176.2" r="0.8" fill="#b4b4ff"/>
<circle cx="425.7" cy="1175.4" r="4.30"/><circle cx="424.7" cy="1174.4" r="0.8" fill="#b4b4ff"/>
<circle cx="433.4" cy="1173.6" r="4.30"/><circle cx="432.4" cy="1172.6" r="0.8" fill="#b4b4ff"/>
<circle cx="441.1" cy="1171.8" r="4.30"/><circle cx="440.1" cy="1170.8" r="0.8" fill="#b4b4ff"/>
<circle cx="448.8" cy="1170.1" r="4.30"/><circle cx="447.8" cy="1169.1" r="0.8" fill="#b4b4ff"/>
<circle cx="456.5" cy="1168.4" r="4.30"/><circle cx="455.5" cy="1167.4" r="0.8" fill="#b4b4ff"/>
<circle cx="464.2" cy="1166.8" r="4.30"/><circle cx="463.2" cy="1165.8" r="0.8" fill="#b4b4ff"/>
<circle cx="471.9" cy="1165.2" r="4.30"/><circle cx="470.9" cy="1164.2" r="0.8" fill="#b4b4ff"/>
<circle cx="479.6" cy="1163.6" r="4.30"/><circle cx="478.6" cy="1162.6" r="0.8" fill="#b4b4ff"/>
<circle cx="487.3" cy="1162.1" r="4.30"/><circle cx="486.3" cy="1161.1" r="0.8" fill="#b4b4ff"/>
<circle cx="495.0" cy="1160.6" r="4.30"/><circle cx="494.0" cy="1159.6" r="0.8" fill="#b4b4ff"/>
<circle cx="502.7" cy="1159.1" r="4.30"/><circle cx="501.7" cy="1158.1" r="0.8" fill="#b4b4ff"/>
<circle cx="510.4" cy="1157.7" r="4.30"/><circle cx="509.4" cy="1156.7" r="0.8" fill="#b4b4ff"/>
<circle cx="518.1" cy="1156.3" r="4.30"/><circle cx="517.1" cy="1155.3" r="0.8" fill="#b4b4ff"/>
<circle cx="525.8" cy="1154.9" r="4.30"/><circle cx="524.8" cy="1153.9" r="0.8" fill="#b4b4ff"/>
<circle cx="533.5" cy="1153.6" r="4.30"/><circle cx="532.5" cy="1152.6" r="0.8" fill="#b4b4ff"/>
<circle cx="541.2" cy="1152.4" r="4.30"/><circle cx="540.2" cy="1151.4" r="0.8" fill="#b4b4ff"/>
<circle cx="548.9" cy="1151.1" r="4.30"/><circle cx="547.9" cy="1150.1" r="0.8" fill="#b4b4ff"/>
<circle cx="556.6" cy="1149.9" r="4.30"/><circle cx="555.6" cy="1148.9" r="0.8" fill="#b4b4ff"/>
<circle cx="564.3" cy="1148.8" r="4.30"/><circle cx="563.3" cy="1147.8" r="0.8" fill="#b4b4ff"/>
<circle cx="572.0" cy="1147.7" r="4.30"/><circle cx="571.0" cy="1146.7" r="0.8" fill="#b4b4ff"/>
<circle cx="579.7" cy="1146.6" r="4.30"/><circle cx="578.7" cy="1145.6" r="0.8" fill="#b4b4ff"/>
<circle cx="587.4" cy="1145.6" r="4.30"/><circle cx="586.4" cy="1144.6" r="0.8" fill="#b4b4ff"/>
<circle cx="595.2" cy="1144.5" r="4.30"/><circle cx="594.2" cy="1143.5" r="0.8" fill="#b4b4ff"/>
<circle cx="602.9" cy="1143.6" r="4.30"/><circle cx="601.9" cy="1142.6" r="0.8" fill="#b4b4ff"/>
<circle cx="610.6" cy="1142.6" r="4.30"/><circle cx="609.6" cy="1141.6" r="0.8" fill="#b4b4ff"/>
<circle cx="618.3" cy="1141.8" r="4.30"/><circle cx="617.3" cy="1140.8" r="0.8" fill="#b4b4ff"/>
<circle cx="626.0" cy="1140.9" r="4.30"/><circle cx="625.0" cy="1139.9" r="0.8" fill="#b4b4ff"/>
<circle cx="633.7" cy="1140.1" r="4.30"/><circle cx="632.7" cy="1139.1" r="0.8" fill="#b4b4ff"/>
<circle cx="641.4" cy="1139.3" r="4.30"/><circle cx="640.4" cy="1138.3" r="0.8" fill="#b4b4ff"/>
<circle cx="649.1" cy="1138.5" r="4.30"/><circle cx="648.1" cy="1137.5" r="0.8" fill="#b4b4ff"/>
<circle cx="656.8" cy="1137.8" r="4.30"/><circle cx="655.8" cy="1136.8" r="0.8" fill="#b4b4ff"/>
<circle cx="664.5" cy="1137.2" r="4.30"/><circle cx="663.5" cy="1136.2" r="0.8" fill="#b4b4ff"/>
<circle cx="672.2" cy="1136.5" r="4.30"/><circle cx="671.2" cy="1135.5" r="0.8" fill="#b4b4ff"/>
<circle cx="679.9" cy="1135.9" r="4.30"/><circle cx="678.9" cy="1134.9" r="0.8" fill="#b4b4ff"/>
<circle cx="687.6" cy="1135.4" r="4.30"/><circle cx="686.6" cy="1134.4" r="0.8" fill="#b4b4ff"/>
<circle cx="695.3" cy="1134.8" r="4.30"/><circle cx="694.3" cy="1133.8" r="0.8" fill="#b4b4ff"/>
<circle cx="703.0" cy="1134.3" r="4.30"/><circle cx="702.0" cy="1133.3" r="0.8" fill="#b4b4ff"/>
<circle cx="710.7" cy="1133.9" r="4.30"/><circle cx="709.7" cy="1132.9" r="0.8" fill="#b4b4ff"/>
<circle cx="718.4" cy="1133.4" r="4.30"/><circle cx="717.4" cy="1132.4" r="0.8" fill="#b4b4ff"/>
<circle cx="726.1" cy="1133.2" r="4.30"/><circle cx="725.1" cy="1132.2" r="0.8" fill="#b4b4ff"/>
<circle cx="733.8" cy="1132.9" r="4.30"/><circle cx="732.8" cy="1131.9" r="0.8" fill="#b4b4ff"/>
<circle cx="741.5" cy="1132.0" r="4.30"/><circle cx="740.5" cy="1131.0" r="0.8" fill="#b4b4ff"/>
<circle cx="749.2" cy="1131.6" r="4.30"/><circle cx="748.2" cy="1130.6" r="0.8" fill="#b4b4ff"/>
<circle cx="756.9" cy="1131.5" r="4.30"/><circle cx="755.9" cy="1130.5" r="0.8" fill="#b4b4ff"/>
<circle cx="764.6" cy="1131.5" r="4.30"/><circle cx="763.6" cy="1130.5" r="0.8" fill="#b4b4ff"/>
<circle cx="772.3" cy="1131.4" r="4.30"/><circle cx="771.3" cy="1130.4" r="0.8" fill="#b4b4ff"/>
<circle cx="780.0" cy="1130.7" r="4.30"/><circle cx="779.0" cy="1129.7" r="0.8" fill="#b4b4ff"/>
<circle cx="787.7" cy="1129.6" r="4.30"/><circle cx="786.7" cy="1128.6" r="0.8" fill="#b4b4ff"/>
<circle cx="795.4" cy="1129.4" r="4.30"/><circle cx="794.4" cy="1128.4" r="0.8" fill="#b4b4ff"/>
<circle cx="803.1" cy="1131.1" r="4.30"/><circle cx="802.1" cy="1130.1" r="0.8" fill="#b4b4ff"/>
<circle cx="810.8" cy="1132.5" r="4.30"/><circle cx="809.8" cy="1131.5" r="0.8" fill="#b4b4ff"/>
<circle cx="818.5" cy="1132.4" r="4.30"/><circle cx="817.5" cy="1131.4" r="0.8" fill="#b4b4ff"/>
<circle cx="826.2" cy="1129.9" r="4.30"/><circle cx="825.2" cy="1128.9" r="0.8" fill="#b4b4ff"/>
<circle cx="833.9" cy="1129.9" r="4.30"/><circle cx="832.9" cy="1128.9" r="0.8" fill="#b4b4ff"/>
<circle cx="841.6" cy="1129.9" r="4.30"/><circle cx="840.6" cy="1128.9" r="0.8" fill="#b4b4ff"/>
<circle cx="849.3" cy="1130.2" r="4.30"/><circle cx="848.3" cy="1129.2" r="0.8" fill="#b4b4ff"/>
<circle cx="857.0" cy="1131.1" r="4.30"/><circle cx="856.0" cy="1130.1" r="0.8" fill="#b4b4ff"/>
</g>
<polyline points="102.2,1366.6 103.2,1365.2 104.3,1363.7 105.3,1362.2 106.4,1360.5 107.4,1358.9 108.5,1357.1 109.5,1355.2 110.6,1353.3 111.6,1351.2 112.7,1349.1 113.7,1347.0 114.8,1344.9 115.8,1342.9 116.8,1340.8 117.9,1338.7 118.9,1336.5 120.0,1334.4 121.0,1332.3 122.1,1330.1 123.1,1328.0 124.2,1325.9 125.2,1323.8 126.3,1321.7 127.3,1319.5 128.4,1317.4 129.4,1315.3 130.4,1313.2 131.5,1311.1 132.5,1308.9 133.6,1306.8 134.6,1304.7 135.7,1302.6 136.7,1300.5 137.8,1298.4 138.8,1296.3 139.9,1294.3 140.9,1292.2 142.0,1290.1 143.0,1288.1 144.0,1286.0 145.1,1283.9 146.1,1281.8 147.2,1279.7 148.2,1277.6 149.3,1275.4 150.3,1273.3 151.4,1271.2 152.4,1269.1 153.5,1267.0 154.5,1265.0 155.6,1263.0 156.6,1261.1 157.6,1259.2 158.7,1257.3 159.7,1255.5 160.8,1253.6 161.8,1251.8 162.9,1250.0 163.9,1248.3 165.0,1246.6 166.0,1244.8 167.1,1243.2 168.1,1241.5 169.2,1239.8 170.2,1238.2 171.2,1236.5 172.3,1234.9 173.3,1233.2 174.4,1231.6 175.4,1230.0 176.5,1228.4 177.5,1226.8 178.6,1225.2 179.6,1223.7 180.7,1222.1 181.7,1220.6 182.8,1219.1 183.8,1217.6 184.8,1216.1 185.9,1214.7 186.9,1213.2 188.0,1211.8 189.0,1210.4 190.1,1209.0 191.1,1207.6 192.2,1206.2 193.2,1204.8 194.3,1203.4 195.3,1202.1 196.4,1200.8 197.4,1199.4 198.5,1198.1 199.5,1196.8 200.5,1195.5 201.6,1194.3 202.6,1193.0 203.7,1191.7 204.7,1190.5 205.8,1189.3 206.8,1188.0 207.9,1186.8 208.9,1185.6 210.0,1184.4 211.0,1183.2 212.1,1182.0 213.1,1180.9 214.1,1179.7 215.2,1178.6 216.2,1177.4 217.3,1176.3 218.3,1175.1 219.4,1174.0 220.4,1172.9 221.5,1171.8 222.5,1170.7 223.6,1169.6 224.6,1168.6 225.7,1167.5 226.7,1166.4 227.7,1165.4 228.8,1164.3 229.8,1163.3 230.9,1162.3 231.9,1161.2 233.0,1160.2 234.0,1159.2 235.1,1158.2 236.1,1157.2 237.2,1156.2 238.2,1155.2 239.3,1154.2 240.3,1153.3 241.3,1152.3 242.4,1151.3 243.4,1150.4 244.5,1149.4 245.5,1148.5 246.6,1147.6 247.6,1146.6 248.7,1145.7 249.7,1144.8 250.8,1143.9 251.8,1143.0 252.9,1142.1 253.9,1141.2 254.9,1140.3 256.0,1139.4 257.0,1138.5 258.1,1137.6 259.1,1136.8 260.2,1135.9 261.2,1135.1 262.3,1134.2 263.3,1133.4 264.4,1132.5 265.4,1131.7 266.5,1130.8 267.5,1130.0 268.5,1129.2 269.6,1128.4 270.6,1127.5 271.7,1126.7 272.7,1125.9 273.8,1125.1 274.8,1124.3 275.9,1123.5 276.9,1122.8 278.0,1122.0 279.0,1121.2 280.1,1120.4 281.1,1119.6 282.1,1118.9 283.2,1118.1 284.2,1117.4 285.3,1116.6 286.3,1115.9 287.4,1115.1 288.4,1114.4 289.5,1113.6 290.5,1112.9 291.6,1112.2 292.6,1111.4 293.7,1110.7 294.7,1110.0 295.7,1109.3 296.8,1108.6 297.8,1107.9 298.9,1107.2 299.9,1106.5 301.0,1105.8 302.0,1105.1 303.1,1104.4 304.1,1103.7 305.2,1103.0 306.2,1102.3 307.3,1101.7 308.3,1101.0 309.3,1100.3 310.4,1099.7 311.4,1099.0 312.5,1098.3 313.5,1097.7 314.6,1097.0 315.6,1096.4 316.7,1095.7 317.7,1095.1 318.8,1094.5 319.8,1093.8 320.9,1093.2 321.9,1092.6 322.9,1091.9 324.0,1091.3 325.0,1090.7 326.1,1090.1 327.1,1089.5 328.2,1088.9 329.2,1088.2 330.3,1087.6 331.3,1087.0 332.4,1086.4 333.4,1085.8 334.5,1085.3 335.5,1084.7 336.5,1084.1 337.6,1083.5 338.6,1082.9 339.7,1082.3 340.7,1081.8 341.8,1081.2 342.8,1080.6 343.9,1080.0 344.9,1079.5 346.0,1078.9 347.0,1078.4 348.1,1077.8 349.1,1077.2 350.1,1076.7 351.2,1076.1 352.2,1075.6 353.3,1075.0 354.3,1074.5 355.4,1074.0 356.4,1073.4 357.5,1072.9 358.5,1072.4 359.6,1071.8 360.6,1071.3 361.7,1070.8 362.7,1070.3 363.7,1069.7 364.8,1069.2 365.8,1068.7 366.9,1068.2 367.9,1067.7 369.0,1067.2 370.0,1066.7 371.1,1066.2 372.1,1065.7 373.2,1065.2 374.2,1064.7 375.3,1064.2 376.3,1063.7 377.4,1063.2 378.4,1062.7 379.4,1062.2 380.5,1061.7 381.5,1061.3 382.6,1060.8 383.6,1060.3 384.7,1059.8 385.7,1059.4 386.8,1058.9 387.8,1058.4 388.9,1058.0 389.9,1057.5 391.0,1057.0 392.0,1056.6 393.0,1056.1 394.1,1055.7 395.1,1055.2 396.2,1054.8 397.2,1054.3 398.3,1053.9 399.3,1053.4 400.4,1053.0 401.4,1052.5 402.5,1052.1 403.5,1051.7 404.6,1051.2 405.6,1050.8 406.6,1050.4 407.7,1049.9 408.7,1049.5 409.8,1049.1 410.8,1048.7 411.9,1048.2 412.9,1047.8 414.0,1047.4 415.0,1047.0 416.1,1046.6 417.1,1046.2 418.2,1045.7 419.2,1045.3 420.2,1044.9 421.3,1044.5 422.3,1044.1 423.4,1043.7 424.4,1043.3 425.5,1042.9 426.5,1042.5 427.6,1042.1 428.6,1041.7 429.7,1041.3 430.7,1041.0 431.8,1040.6 432.8,1040.2 433.8,1039.8 434.9,1039.4 435.9,1039.0 437.0,1038.7 438.0,1038.3 439.1,1037.9 440.1,1037.5 441.2,1037.2 442.2,1036.8 443.3,1036.4 444.3,1036.1 445.4,1035.7 446.4,1035.3 447.4,1035.0 448.5,1034.6 449.5,1034.2 450.6,1033.9 451.6,1033.5 452.7,1033.2 453.7,1032.8 454.8,1032.5 455.8,1032.1 456.9,1031.8 457.9,1031.4 459.0,1031.1 460.0,1030.7 461.0,1030.4 462.1,1030.0 463.1,1029.7 464.2,1029.4 465.2,1029.0 466.3,1028.7 467.3,1028.4 468.4,1028.0 469.4,1027.7 470.5,1027.4 471.5,1027.1 472.6,1026.7 473.6,1026.4 474.6,1026.1 475.7,1025.8 476.7,1025.5 477.8,1025.1 478.8,1024.8 479.9,1024.5 480.9,1024.2 482.0,1023.9 483.0,1023.6 484.1,1023.3 485.1,1023.0 486.2,1022.7 487.2,1022.4 488.2,1022.1 489.3,1021.8 490.3,1021.5 491.4,1021.2 492.4,1020.9 493.5,1020.6 494.5,1020.3 495.6,1020.1 496.6,1019.8 497.7,1019.5 498.7,1019.2 499.8,1018.9 500.8,1018.7 501.8,1018.4 502.9,1018.1 503.9,1017.8 505.0,1017.6 506.0,1017.3 507.1,1017.0 508.1,1016.8 509.2,1016.5 510.2,1016.3 511.3,1016.0 512.3,1015.8 513.4,1015.5 514.4,1015.2 515.4,1015.0 516.5,1014.8 517.5,1014.5 518.6,1014.3 519.6,1014.0 520.7,1013.8 521.7,1013.5 522.8,1013.3 523.8,1013.1 524.9,1012.8 525.9,1012.6 527.0,1012.4 528.0,1012.2 529.0,1011.9 530.1,1011.7 531.1,1011.5 532.2,1011.3 533.2,1011.0 534.3,1010.8 535.3,1010.6 536.4,1010.4 537.4,1010.2 538.5,1010.0 539.5,1009.8 540.6,1009.6 541.6,1009.4 542.7,1009.2 543.7,1009.0 544.7,1008.8 545.8,1008.6 546.8,1008.4 547.9,1008.2 548.9,1008.0 550.0,1007.8 551.0,1007.7 552.1,1007.5 553.1,1007.3 554.2,1007.1 555.2,1006.9 556.3,1006.8 557.3,1006.6 558.3,1006.4 559.4,1006.3 560.4,1006.1 561.5,1005.9 562.5,1005.8 563.6,1005.6 564.6,1005.4 565.7,1005.3 566.7,1005.1 567.8,1005.0 568.8,1004.8 569.9,1004.7 570.9,1004.5 571.9,1004.4 573.0,1004.3 574.0,1004.1 575.1,1004.0 576.1,1003.8 577.2,1003.7 578.2,1003.6 579.3,1003.4 580.3,1003.3 581.4,1003.2 582.4,1003.1 583.5,1002.9 584.5,1002.8 585.5,1002.7 586.6,1002.6 587.6,1002.5 588.7,1002.4 589.7,1002.3 590.8,1002.2 591.8,1002.1 592.9,1002.0 593.9,1001.9 595.0,1001.8 596.0,1001.7 597.1,1001.6 598.1,1001.5 599.1,1001.4 600.2,1001.3 601.2,1001.2 602.3,1001.1 603.3,1001.0 604.4,1001.0 605.4,1000.9 606.5,1000.8 607.5,1000.7 608.6,1000.7 609.6,1000.6 610.7,1000.5 611.7,1000.5 612.7,1000.4 613.8,1000.3 614.8,1000.3 615.9,1000.2 616.9,1000.2 618.0,1000.1 619.0,1000.1 620.1,1000.0 621.1,1000.0 622.2,999.9 623.2,999.9 624.3,999.8 625.3,999.8 626.3,999.8 627.4,999.7 628.4,999.7 629.5,999.7 630.5,999.6 631.6,999.6 632.6,999.6 633.7,999.6 634.7,999.6 635.8,999.5 636.8,999.5 637.9,999.5 638.9,999.5 639.9,999.5 641.0,999.5 642.0,999.5 643.1,999.5 644.1,999.5 645.2,999.5 646.2,999.5 647.3,999.5 648.3,999.5 649.4,999.5 650.4,999.5 651.5,999.6 652.5,999.6 653.5,999.6 654.6,999.6 655.6,999.6 656.7,999.7 657.7,999.7 658.8,999.7 659.8,999.8 660.9,999.8 661.9,999.8 663.0,999.9 664.0,999.9 665.1,999.9 666.1,1000.0 667.1,1000.0 668.2,1000.1 669.2,1000.1 670.3,1000.2 671.3,1000.3 672.4,1000.3 673.4,1000.4 674.5,1000.4 675.5,1000.5 676.6,1000.6 677.6,1000.6 678.7,1000.7 679.7,1000.8" fill="none" stroke="#0a8080" stroke-width="4.0" stroke-linejoin="round" stroke-linecap="round"/>
<g fill="#0a8080">
<path d="M98.5 1364.4L105.9 1364.4L102.2 1373.6Z"/>
<path d="M106.2 1352.3L113.6 1352.3L109.9 1361.5Z"/>
<path d="M113.9 1337.1L121.3 1337.1L117.6 1346.3Z"/>
<path d="M121.6 1321.4L129.0 1321.4L125.3 1330.6Z"/>
<path d="M129.3 1305.8L136.7 1305.8L133.0 1315.0Z"/>
<path d="M137.0 1290.4L144.4 1290.4L140.7 1299.6Z"/>
<path d="M144.7 1275.0L152.1 1275.0L148.4 1284.2Z"/>
<path d="M152.4 1259.8L159.8 1259.8L156.1 1269.0Z"/>
<path d="M160.1 1246.3L167.5 1246.3L163.8 1255.5Z"/>
<path d="M167.8 1233.9L175.2 1233.9L171.5 1243.1Z"/>
<path d="M175.5 1222.1L182.9 1222.1L179.2 1231.3Z"/>
<path d="M183.2 1211.1L190.6 1211.1L186.9 1220.3Z"/>
<path d="M190.9 1200.8L198.3 1200.8L194.6 1210.0Z"/>
<path d="M198.6 1191.2L206.0 1191.2L202.3 1200.4Z"/>
<path d="M206.3 1182.2L213.7 1182.2L210.0 1191.4Z"/>
<path d="M214.0 1173.6L221.4 1173.6L217.7 1182.8Z"/>
<path d="M221.7 1165.5L229.1 1165.5L225.4 1174.7Z"/>
<path d="M229.4 1157.9L236.8 1157.9L233.1 1167.1Z"/>
<path d="M237.1 1150.6L244.5 1150.6L240.8 1159.8Z"/>
<path d="M244.8 1143.7L252.2 1143.7L248.5 1152.9Z"/>
<path d="M252.5 1137.0L259.9 1137.0L256.2 1146.2Z"/>
<path d="M260.2 1130.7L267.6 1130.7L263.9 1139.9Z"/>
<path d="M267.9 1124.6L275.3 1124.6L271.6 1133.8Z"/>
<path d="M275.6 1118.8L283.0 1118.8L279.3 1128.0Z"/>
<path d="M283.3 1113.2L290.7 1113.2L287.0 1122.4Z"/>
<path d="M291.0 1107.8L298.4 1107.8L294.7 1117.0Z"/>
<path d="M298.7 1102.6L306.1 1102.6L302.4 1111.8Z"/>
<path d="M306.4 1097.6L313.8 1097.6L310.1 1106.8Z"/>
<path d="M314.1 1092.8L321.5 1092.8L317.8 1102.0Z"/>
<path d="M321.8 1088.2L329.2 1088.2L325.5 1097.4Z"/>
<path d="M329.5 1083.8L336.9 1083.8L333.2 1093.0Z"/>
<path d="M337.2 1079.5L344.6 1079.5L340.9 1088.7Z"/>
<path d="M344.9 1075.3L352.3 1075.3L348.6 1084.5Z"/>
<path d="M352.6 1071.3L360.0 1071.3L356.3 1080.5Z"/>
<path d="M360.3 1067.4L367.7 1067.4L364.0 1076.6Z"/>
<path d="M368.0 1063.7L375.4 1063.7L371.7 1072.9Z"/>
<path d="M375.7 1060.1L383.1 1060.1L379.4 1069.3Z"/>
<path d="M383.4 1056.5L390.8 1056.5L387.1 1065.7Z"/>
<path d="M391.1 1053.2L398.5 1053.2L394.8 1062.4Z"/>
<path d="M398.8 1049.9L406.2 1049.9L402.5 1059.1Z"/>
<path d="M406.5 1046.7L413.9 1046.7L410.2 1055.9Z"/>
<path d="M414.2 1043.6L421.6 1043.6L417.9 1052.8Z"/>
<path d="M421.9 1040.7L429.3 1040.7L425.6 1049.9Z"/>
<path d="M429.6 1037.8L437.0 1037.8L433.3 1047.0Z"/>
<path d="M437.3 1035.0L444.7 1035.0L441.0 1044.2Z"/>
<path d="M445.0 1032.3L452.4 1032.3L448.7 1041.5Z"/>
<path d="M452.7 1029.7L460.1 1029.7L456.4 1038.9Z"/>
<path d="M460.4 1027.2L467.8 1027.2L464.1 1036.4Z"/>
<path d="M468.1 1024.8L475.5 1024.8L471.8 1034.0Z"/>
<path d="M475.8 1022.4L483.2 1022.4L479.5 1031.6Z"/>
<path d="M483.5 1020.2L490.9 1020.2L487.2 1029.4Z"/>
<path d="M491.2 1018.0L498.6 1018.0L494.9 1027.2Z"/>
<path d="M498.9 1016.0L506.3 1016.0L502.6 1025.2Z"/>
<path d="M506.6 1014.0L514.0 1014.0L510.3 1023.2Z"/>
<path d="M514.3 1012.2L521.7 1012.2L518.0 1021.4Z"/>
<path d="M522.0 1010.5L529.4 1010.5L525.7 1019.7Z"/>
<path d="M529.7 1008.8L537.1 1008.8L533.4 1018.0Z"/>
<path d="M537.4 1007.3L544.8 1007.3L541.1 1016.5Z"/>
<path d="M545.1 1005.8L552.5 1005.8L548.8 1015.0Z"/>
<path d="M552.8 1004.5L560.2 1004.5L556.5 1013.7Z"/>
<path d="M560.5 1003.3L567.9 1003.3L564.2 1012.5Z"/>
<path d="M568.2 1002.2L575.6 1002.2L571.9 1011.4Z"/>
<path d="M575.9 1001.2L583.3 1001.2L579.6 1010.4Z"/>
<path d="M583.6 1000.3L591.0 1000.3L587.3 1009.5Z"/>
<path d="M591.3 999.5L598.7 999.5L595.0 1008.7Z"/>
<path d="M599.0 998.9L606.4 998.9L602.7 1008.1Z"/>
<path d="M606.7 998.3L614.1 998.3L610.4 1007.5Z"/>
<path d="M614.4 997.9L621.8 997.9L618.1 1007.1Z"/>
<path d="M622.1 997.6L629.5 997.6L625.8 1006.8Z"/>
<path d="M629.8 997.4L637.2 997.4L633.5 1006.6Z"/>
<path d="M637.5 997.3L644.9 997.3L641.2 1006.5Z"/>
<path d="M645.2 997.3L652.6 997.3L648.9 1006.5Z"/>
<path d="M652.9 997.5L660.3 997.5L656.6 1006.7Z"/>
<path d="M660.6 997.7L668.0 997.7L664.3 1006.9Z"/>
<path d="M668.3 998.1L675.7 998.1L672.0 1007.3Z"/>
<path d="M676.0 998.6L683.4 998.6L679.7 1007.8Z"/>
</g>
<polyline points="102.2,1366.6 103.2,1361.8 104.3,1357.3 105.3,1353.0 106.4,1349.0 107.4,1345.5 108.5,1342.2 109.5,1339.2 110.6,1336.4 111.6,1333.8 112.7,1331.2 113.7,1328.7 114.8,1326.3 115.8,1323.9 116.8,1321.5 117.9,1319.2 118.9,1317.0 120.0,1314.8 121.0,1312.7 122.1,1310.6 123.1,1308.7 124.2,1306.8 125.2,1305.0 126.3,1303.2 127.3,1301.5 128.4,1299.8 129.4,1298.2 130.4,1296.6 131.5,1295.1 132.5,1293.5 133.6,1292.1 134.6,1290.7 135.7,1289.3 136.7,1288.0 137.8,1286.7 138.8,1285.4 139.9,1284.2 140.9,1283.0 142.0,1281.8 143.0,1280.6 144.0,1279.5 145.1,1278.3 146.1,1277.2 147.2,1276.1 148.2,1275.0 149.3,1274.0 150.3,1272.9 151.4,1271.9 152.4,1270.9 153.5,1269.8 154.5,1268.8 155.6,1267.8 156.6,1266.8 157.6,1265.8 158.7,1264.8 159.7,1263.9 160.8,1262.9 161.8,1261.9 162.9,1261.0 163.9,1260.0 165.0,1259.1 166.0,1258.2 167.1,1257.3 168.1,1256.4 169.2,1255.5 170.2,1254.6 171.2,1253.7 172.3,1252.9 173.3,1252.1 174.4,1251.3 175.4,1250.5 176.5,1249.7 177.5,1248.9 178.6,1248.1 179.6,1247.3 180.7,1246.6 181.7,1245.8 182.8,1245.1 183.8,1244.4 184.8,1243.7 185.9,1243.0 186.9,1242.3 188.0,1241.6 189.0,1240.9 190.1,1240.2 191.1,1239.6 192.2,1238.9 193.2,1238.3 194.3,1237.6 195.3,1237.0 196.4,1236.4 197.4,1235.7 198.5,1235.1 199.5,1234.5 200.5,1233.9 201.6,1233.3 202.6,1232.8 203.7,1232.2 204.7,1231.6 205.8,1231.1 206.8,1230.5 207.9,1230.0 208.9,1229.4 210.0,1228.9 211.0,1228.3 212.1,1227.8 213.1,1227.3 214.1,1226.8 215.2,1226.3 216.2,1225.8 217.3,1225.3 218.3,1224.8 219.4,1224.3 220.4,1223.8 221.5,1223.3 222.5,1222.9 223.6,1222.4 224.6,1221.9 225.7,1221.5 226.7,1221.0 227.7,1220.6 228.8,1220.2 229.8,1219.7 230.9,1219.3 231.9,1218.9 233.0,1218.4 234.0,1218.0 235.1,1217.6 236.1,1217.2 237.2,1216.8 238.2,1216.4 239.3,1216.0 240.3,1215.6 241.3,1215.2 242.4,1214.8 243.4,1214.5 244.5,1214.1 245.5,1213.7 246.6,1213.4 247.6,1213.0 248.7,1212.6 249.7,1212.3 250.8,1211.9 251.8,1211.6 252.9,1211.2 253.9,1210.9 254.9,1210.6 256.0,1210.2 257.0,1209.9 258.1,1209.6 259.1,1209.2 260.2,1208.9 261.2,1208.6 262.3,1208.3 263.3,1208.0 264.4,1207.7 265.4,1207.4 266.5,1207.1 267.5,1206.8 268.5,1206.5 269.6,1206.2 270.6,1205.9 271.7,1205.6 272.7,1205.4 273.8,1205.1 274.8,1204.8 275.9,1204.5 276.9,1204.3 278.0,1204.0 279.0,1203.8 280.1,1203.5 281.1,1203.2 282.1,1203.0 283.2,1202.7 284.2,1202.5 285.3,1202.2 286.3,1202.0 287.4,1201.8 288.4,1201.5 289.5,1201.3 290.5,1201.1 291.6,1200.8 292.6,1200.6 293.7,1200.4 294.7,1200.2 295.7,1200.0 296.8,1199.7 297.8,1199.5 298.9,1199.3 299.9,1199.1 301.0,1198.9 302.0,1198.7 303.1,1198.5 304.1,1198.3 305.2,1198.1 306.2,1197.9 307.3,1197.7 308.3,1197.5 309.3,1197.3 310.4,1197.1 311.4,1197.0 312.5,1196.8 313.5,1196.6 314.6,1196.4 315.6,1196.2 316.7,1196.1 317.7,1195.9 318.8,1195.7 319.8,1195.6 320.9,1195.4 321.9,1195.2 322.9,1195.1 324.0,1194.9 325.0,1194.7 326.1,1194.6 327.1,1194.4 328.2,1194.3 329.2,1194.1 330.3,1194.0 331.3,1193.8 332.4,1193.7 333.4,1193.5 334.5,1193.4 335.5,1193.2 336.5,1193.1 337.6,1193.0 338.6,1192.8 339.7,1192.7 340.7,1192.6 341.8,1192.4 342.8,1192.3 343.9,1192.2 344.9,1192.0 346.0,1191.9 347.0,1191.8 348.1,1191.7 349.1,1191.5 350.1,1191.4 351.2,1191.3 352.2,1191.2 353.3,1191.1 354.3,1190.9 355.4,1190.8 356.4,1190.7 357.5,1190.6 358.5,1190.5 359.6,1190.4 360.6,1190.3 361.7,1190.2 362.7,1190.1 363.8,1189.9 364.8,1189.8 365.8,1189.7 366.9,1189.6 367.9,1189.5 369.0,1189.4 370.0,1189.3 371.1,1189.2 372.1,1189.2 373.2,1189.1 374.2,1189.0 375.3,1188.9 376.3,1188.8 377.4,1188.7 378.4,1188.6 379.4,1188.5 380.5,1188.4 381.5,1188.3 382.6,1188.2 383.6,1188.2 384.7,1188.1 385.7,1188.0 386.8,1187.9 387.8,1187.8 388.9,1187.8 389.9,1187.7 391.0,1187.6 392.0,1187.5 393.0,1187.4 394.1,1187.4 395.1,1187.3 396.2,1187.2 397.2,1187.1 398.3,1187.1 399.3,1187.0 400.4,1186.9 401.4,1186.9 402.5,1186.8 403.5,1186.7 404.6,1186.7 405.6,1186.6 406.6,1186.5 407.7,1186.5 408.7,1186.4 409.8,1186.3 410.8,1186.3 411.9,1186.2 412.9,1186.1 414.0,1186.1 415.0,1186.0 416.1,1186.0 417.1,1185.9 418.2,1185.8 419.2,1185.8 420.2,1185.7 421.3,1185.7 422.3,1185.6 423.4,1185.6 424.4,1185.5 425.5,1185.5 426.5,1185.4 427.6,1185.4 428.6,1185.3 429.7,1185.3 430.7,1185.2 431.8,1185.2 432.8,1185.1 433.8,1185.1 434.9,1185.0 435.9,1185.0 437.0,1184.9 438.0,1184.9 439.1,1184.8 440.1,1184.8 441.2,1184.7 442.2,1184.7 443.3,1184.6 444.3,1184.6 445.4,1184.6 446.4,1184.5 447.4,1184.5 448.5,1184.4 449.5,1184.4 450.6,1184.3 451.6,1184.3 452.7,1184.3 453.7,1184.2 454.8,1184.2 455.8,1184.1 456.9,1184.1 457.9,1184.1 459.0,1184.0 460.0,1184.0 461.0,1184.0 462.1,1183.9 463.1,1183.9 464.2,1183.9 465.2,1183.8 466.3,1183.8 467.3,1183.7 468.4,1183.7 469.4,1183.7 470.5,1183.6 471.5,1183.6 472.6,1183.6 473.6,1183.6 474.6,1183.5 475.7,1183.5 476.7,1183.5 477.8,1183.4 478.8,1183.4 479.9,1183.4 480.9,1183.3 482.0,1183.3 483.0,1183.3 484.1,1183.2 485.1,1183.2 486.2,1183.2 487.2,1183.2 488.2,1183.1 489.3,1183.1 490.3,1183.1 491.4,1183.1 492.4,1183.0 493.5,1183.0 494.5,1183.0 495.6,1182.9 496.6,1182.9 497.7,1182.9 498.7,1182.9 499.8,1182.8 500.8,1182.8 501.8,1182.8 502.9,1182.8 503.9,1182.7 505.0,1182.7 506.0,1182.7 507.1,1182.7 508.1,1182.7 509.2,1182.6 510.2,1182.6 511.3,1182.6 512.3,1182.6 513.4,1182.5 514.4,1182.5 515.4,1182.5 516.5,1182.5 517.5,1182.5 518.6,1182.4 519.6,1182.4 520.7,1182.4 521.7,1182.4 522.8,1182.3 523.8,1182.3 524.9,1182.3 525.9,1182.3 527.0,1182.3 528.0,1182.2 529.0,1182.2 530.1,1182.2 531.1,1182.2 532.2,1182.2 533.2,1182.1 534.3,1182.1 535.3,1182.1 536.4,1182.1 537.4,1182.1 538.5,1182.1 539.5,1182.0 540.6,1182.0 541.6,1182.0 542.7,1182.0 543.7,1182.0 544.7,1181.9 545.8,1181.9 546.8,1181.9 547.9,1181.9 548.9,1181.9 550.0,1181.8 551.0,1181.8 552.1,1181.8 553.1,1181.8 554.2,1181.8 555.2,1181.8 556.3,1181.7 557.3,1181.7 558.3,1181.7 559.4,1181.7 560.4,1181.7 561.5,1181.7 562.5,1181.6 563.6,1181.6 564.6,1181.6 565.7,1181.6 566.7,1181.6 567.8,1181.5 568.8,1181.5 569.9,1181.5 570.9,1181.5 571.9,1181.5 573.0,1181.5 574.0,1181.4 575.1,1181.4 576.1,1181.4 577.2,1181.4 578.2,1181.4 579.3,1181.4 580.3,1181.3 581.4,1181.3 582.4,1181.3 583.5,1181.3 584.5,1181.3 585.5,1181.3 586.6,1181.2 587.6,1181.2 588.7,1181.2 589.7,1181.2 590.8,1181.2 591.8,1181.1 592.9,1181.1 593.9,1181.1 595.0,1181.1 596.0,1181.1 597.1,1181.1 598.1,1181.0 599.1,1181.0 600.2,1181.0 601.2,1181.0 602.3,1181.0 603.3,1181.0 604.4,1180.9 605.4,1180.9 606.5,1180.9 607.5,1180.9 608.6,1180.9 609.6,1180.8 610.7,1180.8 611.7,1180.8 612.7,1180.8 613.8,1180.8 614.8,1180.7 615.9,1180.7 616.9,1180.7 618.0,1180.7 619.0,1180.7 620.1,1180.7 621.1,1180.6 622.2,1180.6 623.2,1180.6 624.3,1180.6 625.3,1180.6 626.3,1180.5 627.4,1180.5 628.4,1180.5 629.5,1180.5 630.5,1180.5 631.6,1180.4 632.6,1180.4 633.7,1180.4 634.7,1180.4 635.8,1180.4 636.8,1180.3 637.9,1180.3 638.9,1180.3 639.9,1180.3 641.0,1180.3 642.0,1180.2 643.1,1180.2 644.1,1180.2 645.2,1180.2 646.2,1180.1 647.3,1180.1 648.3,1180.1 649.4,1180.1 650.4,1180.1 651.5,1180.0 652.5,1180.0 653.5,1180.0 654.6,1180.0 655.6,1179.9 656.7,1179.9 657.7,1179.9 658.8,1179.9 659.8,1179.8 660.9,1179.8 661.9,1179.8 663.0,1179.8 664.0,1179.8 665.1,1179.7 666.1,1179.7 667.1,1179.7 668.2,1179.7 669.2,1179.6 670.3,1179.6 671.3,1179.6 672.4,1179.6 673.4,1179.5 674.5,1179.5 675.5,1179.5 676.6,1179.4 677.6,1179.4" fill="none" stroke="#ff00ff" stroke-width="4.0" stroke-linejoin="round" stroke-linecap="round"/>
<g fill="#ff00ff">
<path d="M102.2 1366.6L102.2 1362.6M102.2 1366.6L106.0 1365.4M102.2 1366.6L104.6 1369.8M102.2 1366.6L99.8 1369.8M102.2 1366.6L98.4 1365.4" fill="none" stroke="#ff00ff" stroke-width="1.5"/>
<path d="M109.9 1338.3L109.9 1334.3M109.9 1338.3L113.7 1337.0M109.9 1338.3L112.2 1341.5M109.9 1338.3L107.5 1341.5M109.9 1338.3L106.1 1337.0" fill="none" stroke="#ff00ff" stroke-width="1.5"/>
<path d="M117.5 1320.0L117.5 1316.0M117.5 1320.0L121.3 1318.7M117.5 1320.0L119.9 1323.2M117.5 1320.0L115.2 1323.2M117.5 1320.0L113.7 1318.7" fill="none" stroke="#ff00ff" stroke-width="1.5"/>
<path d="M125.2 1305.0L125.2 1301.0M125.2 1305.0L129.0 1303.7M125.2 1305.0L127.6 1308.2M125.2 1305.0L122.9 1308.2M125.2 1305.0L121.4 1303.7" fill="none" stroke="#ff00ff" stroke-width="1.5"/>
<path d="M132.9 1293.1L132.9 1289.1M132.9 1293.1L136.7 1291.8M132.9 1293.1L135.2 1296.3M132.9 1293.1L130.5 1296.3M132.9 1293.1L129.1 1291.8" fill="none" stroke="#ff00ff" stroke-width="1.5"/>
<path d="M140.6 1283.4L140.6 1279.4M140.6 1283.4L144.4 1282.1M140.6 1283.4L142.9 1286.6M140.6 1283.4L138.2 1286.6M140.6 1283.4L136.8 1282.1" fill="none" stroke="#ff00ff" stroke-width="1.5"/>
<path d="M148.2 1275.0L148.2 1271.0M148.2 1275.0L152.0 1273.8M148.2 1275.0L150.6 1278.3M148.2 1275.0L145.9 1278.3M148.2 1275.0L144.4 1273.8" fill="none" stroke="#ff00ff" stroke-width="1.5"/>
<path d="M155.9 1267.5L155.9 1263.5M155.9 1267.5L159.7 1266.2M155.9 1267.5L158.3 1270.7M155.9 1267.5L153.6 1270.7M155.9 1267.5L152.1 1266.2" fill="none" stroke="#ff00ff" stroke-width="1.5"/>
<path d="M163.6 1260.4L163.6 1256.4M163.6 1260.4L167.4 1259.1M163.6 1260.4L165.9 1263.6M163.6 1260.4L161.2 1263.6M163.6 1260.4L159.8 1259.1" fill="none" stroke="#ff00ff" stroke-width="1.5"/>
<path d="M171.2 1253.7L171.2 1249.7M171.2 1253.7L175.1 1252.5M171.2 1253.7L173.6 1257.0M171.2 1253.7L168.9 1257.0M171.2 1253.7L167.4 1252.5" fill="none" stroke="#ff00ff" stroke-width="1.5"/>
<path d="M178.9 1247.9L178.9 1243.9M178.9 1247.9L182.7 1246.6M178.9 1247.9L181.3 1251.1M178.9 1247.9L176.6 1251.1M178.9 1247.9L175.1 1246.6" fill="none" stroke="#ff00ff" stroke-width="1.5"/>
<path d="M186.6 1242.5L186.6 1238.5M186.6 1242.5L190.4 1241.3M186.6 1242.5L188.9 1245.7M186.6 1242.5L184.2 1245.7M186.6 1242.5L182.8 1241.3" fill="none" stroke="#ff00ff" stroke-width="1.5"/>
<path d="M194.3 1237.6L194.3 1233.6M194.3 1237.6L198.1 1236.4M194.3 1237.6L196.6 1240.9M194.3 1237.6L191.9 1240.9M194.3 1237.6L190.5 1236.4" fill="none" stroke="#ff00ff" stroke-width="1.5"/>
<path d="M201.9 1233.2L201.9 1229.2M201.9 1233.2L205.7 1231.9M201.9 1233.2L204.3 1236.4M201.9 1233.2L199.6 1236.4M201.9 1233.2L198.1 1231.9" fill="none" stroke="#ff00ff" stroke-width="1.5"/>
<path d="M209.6 1229.0L209.6 1225.0M209.6 1229.0L213.4 1227.8M209.6 1229.0L212.0 1232.3M209.6 1229.0L207.3 1232.3M209.6 1229.0L205.8 1227.8" fill="none" stroke="#ff00ff" stroke-width="1.5"/>
<path d="M217.3 1225.3L217.3 1221.3M217.3 1225.3L221.1 1224.0M217.3 1225.3L219.6 1228.5M217.3 1225.3L214.9 1228.5M217.3 1225.3L213.5 1224.0" fill="none" stroke="#ff00ff" stroke-width="1.5"/>
<path d="M225.0 1221.8L225.0 1217.8M225.0 1221.8L228.8 1220.6M225.0 1221.8L227.3 1225.0M225.0 1221.8L222.6 1225.0M225.0 1221.8L221.1 1220.6" fill="none" stroke="#ff00ff" stroke-width="1.5"/>
<path d="M232.6 1218.6L232.6 1214.6M232.6 1218.6L236.4 1217.3M232.6 1218.6L235.0 1221.8M232.6 1218.6L230.3 1221.8M232.6 1218.6L228.8 1217.3" fill="none" stroke="#ff00ff" stroke-width="1.5"/>
<path d="M240.3 1215.6L240.3 1211.6M240.3 1215.6L244.1 1214.4M240.3 1215.6L242.6 1218.8M240.3 1215.6L237.9 1218.8M240.3 1215.6L236.5 1214.4" fill="none" stroke="#ff00ff" stroke-width="1.5"/>
<path d="M248.0 1212.9L248.0 1208.9M248.0 1212.9L251.8 1211.6M248.0 1212.9L250.3 1216.1M248.0 1212.9L245.6 1216.1M248.0 1212.9L244.2 1211.6" fill="none" stroke="#ff00ff" stroke-width="1.5"/>
<path d="M255.6 1210.3L255.6 1206.3M255.6 1210.3L259.4 1209.1M255.6 1210.3L258.0 1213.6M255.6 1210.3L253.3 1213.6M255.6 1210.3L251.8 1209.1" fill="none" stroke="#ff00ff" stroke-width="1.5"/>
<path d="M263.3 1208.0L263.3 1204.0M263.3 1208.0L267.1 1206.8M263.3 1208.0L265.7 1211.2M263.3 1208.0L261.0 1211.2M263.3 1208.0L259.5 1206.8" fill="none" stroke="#ff00ff" stroke-width="1.5"/>
<path d="M271.0 1205.8L271.0 1201.8M271.0 1205.8L274.8 1204.6M271.0 1205.8L273.3 1209.1M271.0 1205.8L268.6 1209.1M271.0 1205.8L267.2 1204.6" fill="none" stroke="#ff00ff" stroke-width="1.5"/>
<path d="M278.7 1203.8L278.7 1199.8M278.7 1203.8L282.5 1202.6M278.7 1203.8L281.0 1207.1M278.7 1203.8L276.3 1207.1M278.7 1203.8L274.9 1202.6" fill="none" stroke="#ff00ff" stroke-width="1.5"/>
<path d="M286.3 1202.0L286.3 1198.0M286.3 1202.0L290.1 1200.8M286.3 1202.0L288.7 1205.2M286.3 1202.0L284.0 1205.2M286.3 1202.0L282.5 1200.8" fill="none" stroke="#ff00ff" stroke-width="1.5"/>
<path d="M294.0 1200.3L294.0 1196.3M294.0 1200.3L297.8 1199.1M294.0 1200.3L296.4 1203.6M294.0 1200.3L291.7 1203.6M294.0 1200.3L290.2 1199.1" fill="none" stroke="#ff00ff" stroke-width="1.5"/>
<path d="M301.7 1198.8L301.7 1194.8M301.7 1198.8L305.5 1197.5M301.7 1198.8L304.0 1202.0M301.7 1198.8L299.3 1202.0M301.7 1198.8L297.9 1197.5" fill="none" stroke="#ff00ff" stroke-width="1.5"/>
<path d="M309.3 1197.3L309.3 1193.3M309.3 1197.3L313.2 1196.1M309.3 1197.3L311.7 1200.6M309.3 1197.3L307.0 1200.6M309.3 1197.3L305.5 1196.1" fill="none" stroke="#ff00ff" stroke-width="1.5"/>
<path d="M317.0 1196.0L317.0 1192.0M317.0 1196.0L320.8 1194.8M317.0 1196.0L319.4 1199.2M317.0 1196.0L314.7 1199.2M317.0 1196.0L313.2 1194.8" fill="none" stroke="#ff00ff" stroke-width="1.5"/>
<path d="M324.7 1194.8L324.7 1190.8M324.7 1194.8L328.5 1193.6M324.7 1194.8L327.0 1198.0M324.7 1194.8L322.3 1198.0M324.7 1194.8L320.9 1193.6" fill="none" stroke="#ff00ff" stroke-width="1.5"/>
<path d="M332.4 1193.7L332.4 1189.7M332.4 1193.7L336.2 1192.4M332.4 1193.7L334.7 1196.9M332.4 1193.7L330.0 1196.9M332.4 1193.7L328.6 1192.4" fill="none" stroke="#ff00ff" stroke-width="1.5"/>
<path d="M340.0 1192.6L340.0 1188.6M340.0 1192.6L343.8 1191.4M340.0 1192.6L342.4 1195.9M340.0 1192.6L337.7 1195.9M340.0 1192.6L336.2 1191.4" fill="none" stroke="#ff00ff" stroke-width="1.5"/>
<path d="M347.7 1191.7L347.7 1187.7M347.7 1191.7L351.5 1190.5M347.7 1191.7L350.1 1194.9M347.7 1191.7L345.4 1194.9M347.7 1191.7L343.9 1190.5" fill="none" stroke="#ff00ff" stroke-width="1.5"/>
<path d="M355.4 1190.8L355.4 1186.8M355.4 1190.8L359.2 1189.6M355.4 1190.8L357.7 1194.1M355.4 1190.8L353.0 1194.1M355.4 1190.8L351.6 1189.6" fill="none" stroke="#ff00ff" stroke-width="1.5"/>
<path d="M363.1 1190.0L363.1 1186.0M363.1 1190.0L366.9 1188.8M363.1 1190.0L365.4 1193.3M363.1 1190.0L360.7 1193.3M363.1 1190.0L359.2 1188.8" fill="none" stroke="#ff00ff" stroke-width="1.5"/>
<path d="M370.7 1189.3L370.7 1185.3M370.7 1189.3L374.5 1188.0M370.7 1189.3L373.1 1192.5M370.7 1189.3L368.4 1192.5M370.7 1189.3L366.9 1188.0" fill="none" stroke="#ff00ff" stroke-width="1.5"/>
<path d="M378.4 1188.6L378.4 1184.6M378.4 1188.6L382.2 1187.4M378.4 1188.6L380.7 1191.8M378.4 1188.6L376.0 1191.8M378.4 1188.6L374.6 1187.4" fill="none" stroke="#ff00ff" stroke-width="1.5"/>
<path d="M386.1 1188.0L386.1 1184.0M386.1 1188.0L389.9 1186.7M386.1 1188.0L388.4 1191.2M386.1 1188.0L383.7 1191.2M386.1 1188.0L382.3 1186.7" fill="none" stroke="#ff00ff" stroke-width="1.5"/>
<path d="M393.7 1187.4L393.7 1183.4M393.7 1187.4L397.5 1186.2M393.7 1187.4L396.1 1190.6M393.7 1187.4L391.4 1190.6M393.7 1187.4L389.9 1186.2" fill="none" stroke="#ff00ff" stroke-width="1.5"/>
<path d="M401.4 1186.9L401.4 1182.9M401.4 1186.9L405.2 1185.6M401.4 1186.9L403.8 1190.1M401.4 1186.9L399.1 1190.1M401.4 1186.9L397.6 1185.6" fill="none" stroke="#ff00ff" stroke-width="1.5"/>
<path d="M409.1 1186.4L409.1 1182.4M409.1 1186.4L412.9 1185.1M409.1 1186.4L411.4 1189.6M409.1 1186.4L406.7 1189.6M409.1 1186.4L405.3 1185.1" fill="none" stroke="#ff00ff" stroke-width="1.5"/>
<path d="M416.8 1185.9L416.8 1181.9M416.8 1185.9L420.6 1184.7M416.8 1185.9L419.1 1189.2M416.8 1185.9L414.4 1189.2M416.8 1185.9L413.0 1184.7" fill="none" stroke="#ff00ff" stroke-width="1.5"/>
<path d="M424.4 1185.5L424.4 1181.5M424.4 1185.5L428.2 1184.3M424.4 1185.5L426.8 1188.8M424.4 1185.5L422.1 1188.8M424.4 1185.5L420.6 1184.3" fill="none" stroke="#ff00ff" stroke-width="1.5"/>
<path d="M432.1 1185.1L432.1 1181.1M432.1 1185.1L435.9 1183.9M432.1 1185.1L434.5 1188.4M432.1 1185.1L429.8 1188.4M432.1 1185.1L428.3 1183.9" fill="none" stroke="#ff00ff" stroke-width="1.5"/>
<path d="M439.8 1184.8L439.8 1180.8M439.8 1184.8L443.6 1183.6M439.8 1184.8L442.1 1188.0M439.8 1184.8L437.4 1188.0M439.8 1184.8L436.0 1183.6" fill="none" stroke="#ff00ff" stroke-width="1.5"/>
<path d="M447.4 1184.5L447.4 1180.5M447.4 1184.5L451.3 1183.2M447.4 1184.5L449.8 1187.7M447.4 1184.5L445.1 1187.7M447.4 1184.5L443.6 1183.2" fill="none" stroke="#ff00ff" stroke-width="1.5"/>
<path d="M455.1 1184.2L455.1 1180.2M455.1 1184.2L458.9 1182.9M455.1 1184.2L457.5 1187.4M455.1 1184.2L452.8 1187.4M455.1 1184.2L451.3 1182.9" fill="none" stroke="#ff00ff" stroke-width="1.5"/>
<path d="M462.8 1183.9L462.8 1179.9M462.8 1183.9L466.6 1182.7M462.8 1183.9L465.1 1187.1M462.8 1183.9L460.4 1187.1M462.8 1183.9L459.0 1182.7" fill="none" stroke="#ff00ff" stroke-width="1.5"/>
<path d="M470.5 1183.6L470.5 1179.6M470.5 1183.6L474.3 1182.4M470.5 1183.6L472.8 1186.9M470.5 1183.6L468.1 1186.9M470.5 1183.6L466.7 1182.4" fill="none" stroke="#ff00ff" stroke-width="1.5"/>
<path d="M478.1 1183.4L478.1 1179.4M478.1 1183.4L481.9 1182.2M478.1 1183.4L480.5 1186.7M478.1 1183.4L475.8 1186.7M478.1 1183.4L474.3 1182.2" fill="none" stroke="#ff00ff" stroke-width="1.5"/>
<path d="M485.8 1183.2L485.8 1179.2M485.8 1183.2L489.6 1182.0M485.8 1183.2L488.2 1186.4M485.8 1183.2L483.5 1186.4M485.8 1183.2L482.0 1182.0" fill="none" stroke="#ff00ff" stroke-width="1.5"/>
<path d="M493.5 1183.0L493.5 1179.0M493.5 1183.0L497.3 1181.8M493.5 1183.0L495.8 1186.2M493.5 1183.0L491.1 1186.2M493.5 1183.0L489.7 1181.8" fill="none" stroke="#ff00ff" stroke-width="1.5"/>
<path d="M501.2 1182.8L501.2 1178.8M501.2 1182.8L505.0 1181.6M501.2 1182.8L503.5 1186.0M501.2 1182.8L498.8 1186.0M501.2 1182.8L497.3 1181.6" fill="none" stroke="#ff00ff" stroke-width="1.5"/>
<path d="M508.8 1182.6L508.8 1178.6M508.8 1182.6L512.6 1181.4M508.8 1182.6L511.2 1185.9M508.8 1182.6L506.5 1185.9M508.8 1182.6L505.0 1181.4" fill="none" stroke="#ff00ff" stroke-width="1.5"/>
<path d="M516.5 1182.5L516.5 1178.5M516.5 1182.5L520.3 1181.2M516.5 1182.5L518.8 1185.7M516.5 1182.5L514.1 1185.7M516.5 1182.5L512.7 1181.2" fill="none" stroke="#ff00ff" stroke-width="1.5"/>
<path d="M524.2 1182.3L524.2 1178.3M524.2 1182.3L528.0 1181.1M524.2 1182.3L526.5 1185.6M524.2 1182.3L521.8 1185.6M524.2 1182.3L520.4 1181.1" fill="none" stroke="#ff00ff" stroke-width="1.5"/>
<path d="M531.8 1182.2L531.8 1178.2M531.8 1182.2L535.6 1180.9M531.8 1182.2L534.2 1185.4M531.8 1182.2L529.5 1185.4M531.8 1182.2L528.0 1180.9" fill="none" stroke="#ff00ff" stroke-width="1.5"/>
<path d="M539.5 1182.0L539.5 1178.0M539.5 1182.0L543.3 1180.8M539.5 1182.0L541.9 1185.3M539.5 1182.0L537.2 1185.3M539.5 1182.0L535.7 1180.8" fill="none" stroke="#ff00ff" stroke-width="1.5"/>
<path d="M547.2 1181.9L547.2 1177.9M547.2 1181.9L551.0 1180.7M547.2 1181.9L549.5 1185.1M547.2 1181.9L544.8 1185.1M547.2 1181.9L543.4 1180.7" fill="none" stroke="#ff00ff" stroke-width="1.5"/>
<path d="M554.9 1181.8L554.9 1177.8M554.9 1181.8L558.7 1180.5M554.9 1181.8L557.2 1185.0M554.9 1181.8L552.5 1185.0M554.9 1181.8L551.1 1180.5" fill="none" stroke="#ff00ff" stroke-width="1.5"/>
<path d="M562.5 1181.6L562.5 1177.6M562.5 1181.6L566.3 1180.4M562.5 1181.6L564.9 1184.9M562.5 1181.6L560.2 1184.9M562.5 1181.6L558.7 1180.4" fill="none" stroke="#ff00ff" stroke-width="1.5"/>
<path d="M570.2 1181.5L570.2 1177.5M570.2 1181.5L574.0 1180.3M570.2 1181.5L572.6 1184.7M570.2 1181.5L567.8 1184.7M570.2 1181.5L566.4 1180.3" fill="none" stroke="#ff00ff" stroke-width="1.5"/>
<path d="M577.9 1181.4L577.9 1177.4M577.9 1181.4L581.7 1180.1M577.9 1181.4L580.2 1184.6M577.9 1181.4L575.5 1184.6M577.9 1181.4L574.1 1180.1" fill="none" stroke="#ff00ff" stroke-width="1.5"/>
<path d="M585.5 1181.3L585.5 1177.3M585.5 1181.3L589.3 1180.0M585.5 1181.3L587.9 1184.5M585.5 1181.3L583.2 1184.5M585.5 1181.3L581.7 1180.0" fill="none" stroke="#ff00ff" stroke-width="1.5"/>
<path d="M593.2 1181.1L593.2 1177.1M593.2 1181.1L597.0 1179.9M593.2 1181.1L595.6 1184.4M593.2 1181.1L590.9 1184.4M593.2 1181.1L589.4 1179.9" fill="none" stroke="#ff00ff" stroke-width="1.5"/>
<path d="M600.9 1181.0L600.9 1177.0M600.9 1181.0L604.7 1179.8M600.9 1181.0L603.2 1184.2M600.9 1181.0L598.5 1184.2M600.9 1181.0L597.1 1179.8" fill="none" stroke="#ff00ff" stroke-width="1.5"/>
<path d="M608.6 1180.9L608.6 1176.9M608.6 1180.9L612.4 1179.6M608.6 1180.9L610.9 1184.1M608.6 1180.9L606.2 1184.1M608.6 1180.9L604.8 1179.6" fill="none" stroke="#ff00ff" stroke-width="1.5"/>
<path d="M616.2 1180.7L616.2 1176.7M616.2 1180.7L620.0 1179.5M616.2 1180.7L618.6 1184.0M616.2 1180.7L613.9 1184.0M616.2 1180.7L612.4 1179.5" fill="none" stroke="#ff00ff" stroke-width="1.5"/>
<path d="M623.9 1180.6L623.9 1176.6M623.9 1180.6L627.7 1179.3M623.9 1180.6L626.3 1183.8M623.9 1180.6L621.6 1183.8M623.9 1180.6L620.1 1179.3" fill="none" stroke="#ff00ff" stroke-width="1.5"/>
<path d="M631.6 1180.4L631.6 1176.4M631.6 1180.4L635.4 1179.2M631.6 1180.4L633.9 1183.7M631.6 1180.4L629.2 1183.7M631.6 1180.4L627.8 1179.2" fill="none" stroke="#ff00ff" stroke-width="1.5"/>
<path d="M639.2 1180.3L639.2 1176.3M639.2 1180.3L643.1 1179.1M639.2 1180.3L641.6 1183.5M639.2 1180.3L636.9 1183.5M639.2 1180.3L635.4 1179.1" fill="none" stroke="#ff00ff" stroke-width="1.5"/>
<path d="M646.9 1180.1L646.9 1176.1M646.9 1180.1L650.7 1178.9M646.9 1180.1L649.3 1183.4M646.9 1180.1L644.6 1183.4M646.9 1180.1L643.1 1178.9" fill="none" stroke="#ff00ff" stroke-width="1.5"/>
<path d="M654.6 1180.0L654.6 1176.0M654.6 1180.0L658.4 1178.7M654.6 1180.0L656.9 1183.2M654.6 1180.0L652.2 1183.2M654.6 1180.0L650.8 1178.7" fill="none" stroke="#ff00ff" stroke-width="1.5"/>
<path d="M662.3 1179.8L662.3 1175.8M662.3 1179.8L666.1 1178.6M662.3 1179.8L664.6 1183.0M662.3 1179.8L659.9 1183.0M662.3 1179.8L658.5 1178.6" fill="none" stroke="#ff00ff" stroke-width="1.5"/>
<path d="M669.9 1179.6L669.9 1175.6M669.9 1179.6L673.7 1178.4M669.9 1179.6L672.3 1182.8M669.9 1179.6L667.6 1182.8M669.9 1179.6L666.1 1178.4" fill="none" stroke="#ff00ff" stroke-width="1.5"/>
<path d="M677.6 1179.4L677.6 1175.4M677.6 1179.4L681.4 1178.2M677.6 1179.4L680.0 1182.7M677.6 1179.4L675.3 1182.7M677.6 1179.4L673.8 1178.2" fill="none" stroke="#ff00ff" stroke-width="1.5"/>
</g>
<line x1="705" y1="840.7" x2="753" y2="840.7" stroke="#000000" stroke-width="3.5" stroke-linecap="round"/>
<g fill="#000000"><path d="M729.5 835.1L733.7 840.7L729.5 846.3L725.3 840.7Z"/></g>
<line x1="705" y1="864.3" x2="753" y2="864.3" stroke="#ff1010" stroke-width="3.5" stroke-linecap="round"/>
<g fill="#ff1010"><path d="M725.5 864.3L733.5 858.6L733.5 870.0Z"/></g>
<line x1="705" y1="888.0" x2="753" y2="888.0" stroke="#0a0aff" stroke-width="3.5" stroke-linecap="round"/>
<g fill="#0a0aff"><circle cx="729.5" cy="888.0" r="4.30"/><circle cx="728.5" cy="887.0" r="0.8" fill="#b4b4ff"/></g>
<line x1="705" y1="910.5" x2="753" y2="910.5" stroke="#0a8080" stroke-width="3.5" stroke-linecap="round"/>
<g fill="#0a8080"><path d="M725.8 908.3L733.2 908.3L729.5 917.5Z"/></g>
<line x1="705" y1="934.2" x2="753" y2="934.2" stroke="#ff00ff" stroke-width="3.5" stroke-linecap="round"/>
<g fill="#ff00ff"><path d="M729.5 934.2L729.5 930.2M729.5 934.2L733.3 933.0M729.5 934.2L731.9 937.4M729.5 934.2L727.1 937.4M729.5 934.2L725.7 933.0" fill="none" stroke="#ff00ff" stroke-width="1.5"/></g>
<g transform="translate(754.8,46.15) scale(1.177,1.057)"><text font-family="Liberation Sans" font-weight="bold" font-size="18">Unreinforced soil</text></g>
<g transform="translate(758.7,846.45) scale(1.160,0.966)"><text font-family="Liberation Sans" font-weight="bold" font-size="18">Unreinforced soil</text></g>
<g transform="translate(754.8,70.85) scale(1.177,1.057)"><text font-family="Liberation Sans" font-weight="bold" font-size="18">10% Waste tires</text></g>
<g transform="translate(758.7,869.85) scale(1.160,0.966)"><text font-family="Liberation Sans" font-weight="bold" font-size="18">10% Waste tires</text></g>
<g transform="translate(754.8,95.55) scale(1.177,1.057)"><text font-family="Liberation Sans" font-weight="bold" font-size="18">20% Waste tires</text></g>
<g transform="translate(758.7,893.25) scale(1.160,0.966)"><text font-family="Liberation Sans" font-weight="bold" font-size="18">20% Waste tires</text></g>
<g transform="translate(754.8,120.25) scale(1.177,1.057)"><text font-family="Liberation Sans" font-weight="bold" font-size="18">30% Waste tires</text></g>
<g transform="translate(758.7,916.65) scale(1.160,0.966)"><text font-family="Liberation Sans" font-weight="bold" font-size="18">30% Waste tires</text></g>
<g transform="translate(754.8,144.95) scale(1.177,1.057)"><text font-family="Liberation Sans" font-weight="bold" font-size="18">40% Waste tires</text></g>
<g transform="translate(758.7,940.05) scale(1.160,0.966)"><text font-family="Liberation Sans" font-weight="bold" font-size="18">40% Waste tires</text></g>
<g transform="translate(408.11,643.95) scale(1.1829,0.9659)"><text font-family="Liberation Sans" font-weight="bold" font-size="22">Shear strain <tspan font-weight="normal" font-size="19">γ</tspan> (%)</text></g>
<g transform="translate(24.41,411.85) scale(1.2634,1.1377)"><g transform="rotate(-90)"><text font-family="Liberation Sans" font-weight="bold" font-size="22">Shear stress <tspan font-weight="normal" font-size="19">τ</tspan> (kPa)</text></g></g>
<g transform="translate(392.12,1422.36) scale(1.1708,0.8976)"><text font-family="Liberation Sans" font-weight="bold" font-size="22">Shear strain <tspan font-weight="normal" font-size="19">γ</tspan> (%)</text></g>
<g transform="translate(43.79,1175.91) scale(1.2244,1.0842)"><g transform="rotate(-90)"><text font-family="Liberation Sans" font-weight="bold" font-size="22">Shear stress <tspan font-weight="normal" font-size="19">τ</tspan> (kPa)</text></g></g>
<g transform="translate(65.69,596.01) scale(1.0740,0.9614)"><text font-family="Liberation Sans" font-weight="bold" font-size="20">0</text></g>
<g transform="translate(53.61,480.13) scale(1.0740,0.9614)"><text font-family="Liberation Sans" font-weight="bold" font-size="20">50</text></g>
<g transform="translate(41.79,364.25) scale(1.0740,0.9614)"><text font-family="Liberation Sans" font-weight="bold" font-size="20">100</text></g>
<g transform="translate(41.79,248.37) scale(1.0740,0.9614)"><text font-family="Liberation Sans" font-weight="bold" font-size="20">150</text></g>
<g transform="translate(41.79,132.49) scale(1.0740,0.9614)"><text font-family="Liberation Sans" font-weight="bold" font-size="20">200</text></g>
<g transform="translate(41.79,16.61) scale(1.0740,0.9614)"><text font-family="Liberation Sans" font-weight="bold" font-size="20">250</text></g>
<g transform="translate(85.14,617.66) scale(1.0740,0.9614)"><text font-family="Liberation Sans" font-weight="bold" font-size="20">0</text></g>
<g transform="translate(191.64,617.66) scale(1.0740,0.9614)"><text font-family="Liberation Sans" font-weight="bold" font-size="20">2</text></g>
<g transform="translate(298.01,617.42) scale(1.0740,0.9614)"><text font-family="Liberation Sans" font-weight="bold" font-size="20">4</text></g>
<g transform="translate(404.51,617.66) scale(1.0740,0.9614)"><text font-family="Liberation Sans" font-weight="bold" font-size="20">6</text></g>
<g transform="translate(511.01,617.66) scale(1.0740,0.9614)"><text font-family="Liberation Sans" font-weight="bold" font-size="20">8</text></g>
<g transform="translate(611.33,617.66) scale(1.0740,0.9614)"><text font-family="Liberation Sans" font-weight="bold" font-size="20">10</text></g>
<g transform="translate(717.83,617.66) scale(1.0740,0.9614)"><text font-family="Liberation Sans" font-weight="bold" font-size="20">12</text></g>
<g transform="translate(823.93,617.42) scale(1.0740,0.9614)"><text font-family="Liberation Sans" font-weight="bold" font-size="20">14</text></g>
<g transform="translate(930.83,617.66) scale(1.0740,0.9614)"><text font-family="Liberation Sans" font-weight="bold" font-size="20">16</text></g>
<g transform="translate(77.46,1371.07) scale(1.0188,0.9123)"><text font-family="Liberation Sans" font-weight="bold" font-size="20">0</text></g>
<g transform="translate(66.00,1292.67) scale(1.0188,0.9123)"><text font-family="Liberation Sans" font-weight="bold" font-size="20">50</text></g>
<g transform="translate(54.79,1214.77) scale(1.0188,0.9123)"><text font-family="Liberation Sans" font-weight="bold" font-size="20">100</text></g>
<g transform="translate(54.79,1136.87) scale(1.0188,0.9123)"><text font-family="Liberation Sans" font-weight="bold" font-size="20">150</text></g>
<g transform="translate(54.79,1057.87) scale(1.0188,0.9123)"><text font-family="Liberation Sans" font-weight="bold" font-size="20">200</text></g>
<g transform="translate(54.79,978.47) scale(1.0188,0.9123)"><text font-family="Liberation Sans" font-weight="bold" font-size="20">250</text></g>
<g transform="translate(54.79,900.97) scale(1.0188,0.9123)"><text font-family="Liberation Sans" font-weight="bold" font-size="20">300</text></g>
<g transform="translate(54.79,823.08) scale(1.0188,0.9123)"><text font-family="Liberation Sans" font-weight="bold" font-size="20">350</text></g>
<g transform="translate(96.60,1392.77) scale(1.0188,0.9123)"><text font-family="Liberation Sans" font-weight="bold" font-size="20">0</text></g>
<g transform="translate(201.22,1392.77) scale(1.0188,0.9123)"><text font-family="Liberation Sans" font-weight="bold" font-size="20">2</text></g>
<g transform="translate(305.71,1392.54) scale(1.0188,0.9123)"><text font-family="Liberation Sans" font-weight="bold" font-size="20">4</text></g>
<g transform="translate(410.33,1392.77) scale(1.0188,0.9123)"><text font-family="Liberation Sans" font-weight="bold" font-size="20">6</text></g>
<g transform="translate(514.95,1392.77) scale(1.0188,0.9123)"><text font-family="Liberation Sans" font-weight="bold" font-size="20">8</text></g>
<g transform="translate(613.71,1392.77) scale(1.0188,0.9123)"><text font-family="Liberation Sans" font-weight="bold" font-size="20">10</text></g>
<g transform="translate(718.33,1392.77) scale(1.0188,0.9123)"><text font-family="Liberation Sans" font-weight="bold" font-size="20">12</text></g>
<g transform="translate(822.57,1392.54) scale(1.0188,0.9123)"><text font-family="Liberation Sans" font-weight="bold" font-size="20">14</text></g>
<g transform="translate(927.57,1392.77) scale(1.0188,0.9123)"><text font-family="Liberation Sans" font-weight="bold" font-size="20">16</text></g>
<g transform="translate(455.42,743.30) scale(0.9854,0.9409)"><text font-family="Liberation Serif" font-size="44">a)</text></g>
<g transform="translate(455.30,1485.10) scale(0.9854,0.9409)"><text font-family="Liberation Serif" font-size="44">b)</text></g>
</svg></body></html>
